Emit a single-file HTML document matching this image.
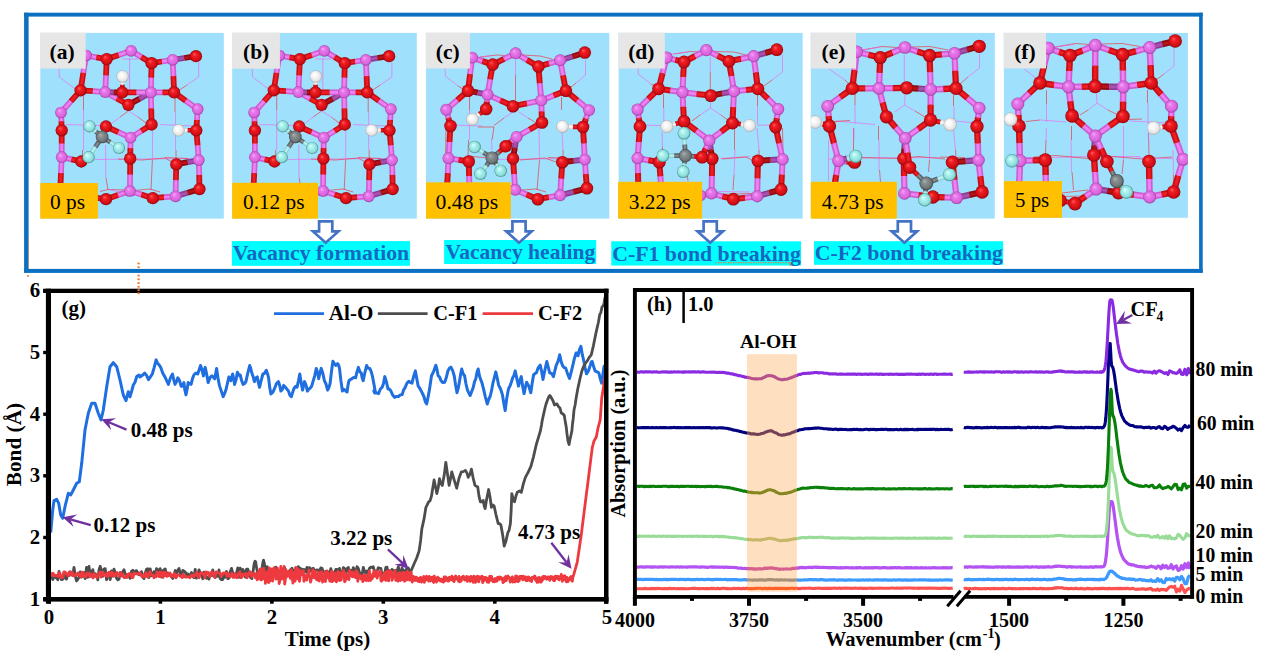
<!DOCTYPE html><html><head><meta charset="utf-8"><title>Figure</title>
<style>html,body{margin:0;padding:0;background:#fff}svg{display:block}text{font-family:"Liberation Serif","DejaVu Serif",serif}.b{font-weight:bold}</style></head><body>
<svg width="1269" height="660" viewBox="0 0 1269 660">
<defs>
<radialGradient id="gO" cx="0.5" cy="0.5" r="0.5" fx="0.36" fy="0.32"><stop offset="0" stop-color="#ff5a5a"/><stop offset="0.35" stop-color="#ee1c22"/><stop offset="0.8" stop-color="#d00d14"/><stop offset="1" stop-color="#8c060a"/></radialGradient>
<radialGradient id="gAl" cx="0.5" cy="0.5" r="0.5" fx="0.36" fy="0.32"><stop offset="0" stop-color="#f7a8f8"/><stop offset="0.35" stop-color="#e678ea"/><stop offset="0.8" stop-color="#d863dc"/><stop offset="1" stop-color="#9c3fa0"/></radialGradient>
<radialGradient id="gH" cx="0.5" cy="0.5" r="0.5" fx="0.36" fy="0.32"><stop offset="0" stop-color="#ffffff"/><stop offset="0.35" stop-color="#fafafa"/><stop offset="0.8" stop-color="#e4e4e4"/><stop offset="1" stop-color="#a9adb0"/></radialGradient>
<radialGradient id="gF" cx="0.5" cy="0.5" r="0.5" fx="0.36" fy="0.32"><stop offset="0" stop-color="#e2ffff"/><stop offset="0.35" stop-color="#aaf2f0"/><stop offset="0.8" stop-color="#8cdcda"/><stop offset="1" stop-color="#468c8a"/></radialGradient>
<radialGradient id="gC" cx="0.5" cy="0.5" r="0.5" fx="0.36" fy="0.32"><stop offset="0" stop-color="#aab2b4"/><stop offset="0.35" stop-color="#868e90"/><stop offset="0.8" stop-color="#6e7678"/><stop offset="1" stop-color="#3e4446"/></radialGradient>
</defs>
<rect x="0" y="0" width="1269" height="660" fill="#ffffff"/>
<g fill="#0b6fc2"><rect x="24.1" y="12.7" width="1178.6" height="3.9"/><rect x="24.1" y="268.9" width="1178.6" height="4.0"/><rect x="24.1" y="12.7" width="4.5" height="259.8"/><rect x="1199.1" y="12.7" width="3.6" height="259.8"/></g>
<g id="pa">
<clipPath id="cla"><rect x="40.3" y="32.9" width="183.5" height="185.7"/></clipPath>
<rect x="40.3" y="32.9" width="183.5" height="185.7" fill="#9fe0fc"/>
<g clip-path="url(#cla)">
<g fill="none" stroke-width="0.65">
<polyline points="59.0,66.0 59.3,77.0 74.0,88.0" stroke="#ee66ee"/>
<polyline points="74.0,88.0 80.0,91.0" stroke="#f03038"/>
<polyline points="198.7,62.0 198.7,77.0 187.0,85.0" stroke="#ee66ee"/>
<polyline points="187.0,85.0 178.0,91.0" stroke="#f03038"/>
<polyline points="129.6,58.0 129.6,92.0" stroke="#ee66ee"/>
<polyline points="122.0,59.0 138.0,59.0" stroke="#ee66ee"/>
<polyline points="83.5,96.0 83.5,110.0" stroke="#f03038"/>
<polyline points="83.5,110.0 83.5,150.0" stroke="#ee66ee"/>
<polyline points="82.5,150.0 82.5,158.0" stroke="#f03038"/>
<polyline points="175.0,96.0 175.0,112.0" stroke="#f03038"/>
<polyline points="175.5,112.0 175.5,150.0" stroke="#ee66ee"/>
<polyline points="176.0,150.0 176.0,160.0" stroke="#f03038"/>
<polyline points="128.4,111.0 120.0,117.0" stroke="#f03038"/>
<polyline points="120.0,117.0 112.0,123.0" stroke="#ee66ee"/>
<polyline points="128.4,111.0 138.0,117.0" stroke="#ee66ee"/>
<polyline points="138.0,117.0 146.0,123.0" stroke="#f03038"/>
<polyline points="66.0,124.5 100.0,125.5" stroke="#ee66ee"/>
<polyline points="160.0,124.5 192.0,126.0" stroke="#ee66ee"/>
<polyline points="95.0,159.5 190.0,158.5" stroke="#ee66ee"/>
<polyline points="118.0,159.0 142.0,160.0 165.0,158.0 172.0,162.0" stroke="#f03038"/>
<polyline points="165.0,157.5 188.0,158.5" stroke="#f03038"/>
<polyline points="105.6,145.0 105.8,178.0" stroke="#ee66ee"/>
<polyline points="106.0,178.0 108.0,190.0" stroke="#f03038"/>
<polyline points="152.6,130.0 152.4,160.0" stroke="#ee66ee"/>
<polyline points="152.4,160.0 151.0,190.0" stroke="#f03038"/>
<polyline points="100.0,191.5 108.0,189.5 127.0,190.0" stroke="#f03038"/>
<polyline points="134.0,190.5 150.0,189.0 160.0,192.0" stroke="#f03038"/>
<polyline points="108.0,189.5 126.0,193.0" stroke="#ee66ee"/>
</g>
<line x1="105.2" y1="92.2" x2="116.8" y2="98.5" stroke="#cf5cd3" stroke-width="5.8"/><line x1="105.2" y1="92.2" x2="116.8" y2="98.5" stroke="#ee82f0" stroke-width="2.61"/><line x1="116.8" y1="98.5" x2="128.4" y2="104.8" stroke="#c80d14" stroke-width="5.8"/><line x1="116.8" y1="98.5" x2="128.4" y2="104.8" stroke="#f01c24" stroke-width="2.61"/>
<line x1="128.4" y1="104.8" x2="139.7" y2="98.6" stroke="#8e0a10" stroke-width="5.8"/><line x1="128.4" y1="104.8" x2="139.7" y2="98.6" stroke="#b4141a" stroke-width="2.61"/><line x1="139.7" y1="98.6" x2="150.9" y2="92.4" stroke="#8c3c92" stroke-width="5.8"/><line x1="139.7" y1="98.6" x2="150.9" y2="92.4" stroke="#a850ae" stroke-width="2.61"/>
<line x1="105.2" y1="92.2" x2="113.7" y2="92.3" stroke="#8c3c92" stroke-width="5.8"/><line x1="105.2" y1="92.2" x2="113.7" y2="92.3" stroke="#a850ae" stroke-width="2.61"/><line x1="113.7" y1="92.3" x2="122.2" y2="92.4" stroke="#8e0a10" stroke-width="5.8"/><line x1="113.7" y1="92.3" x2="122.2" y2="92.4" stroke="#b4141a" stroke-width="2.61"/>
<line x1="122.2" y1="92.4" x2="136.6" y2="92.4" stroke="#c80d14" stroke-width="5.8"/><line x1="122.2" y1="92.4" x2="136.6" y2="92.4" stroke="#f01c24" stroke-width="2.61"/><line x1="136.6" y1="92.4" x2="150.9" y2="92.4" stroke="#cf5cd3" stroke-width="5.8"/><line x1="136.6" y1="92.4" x2="150.9" y2="92.4" stroke="#ee82f0" stroke-width="2.61"/>
<line x1="122.2" y1="92.4" x2="122.4" y2="84.5" stroke="#c80d14" stroke-width="4.6"/><line x1="122.2" y1="92.4" x2="122.4" y2="84.5" stroke="#f01c24" stroke-width="2.07"/><line x1="122.4" y1="84.5" x2="122.6" y2="76.5" stroke="#d8d8d8" stroke-width="4.6"/><line x1="122.4" y1="84.5" x2="122.6" y2="76.5" stroke="#fafafa" stroke-width="2.07"/>
<line x1="61.7" y1="157.2" x2="71.5" y2="159.3" stroke="#cf5cd3" stroke-width="5.8"/><line x1="61.7" y1="157.2" x2="71.5" y2="159.3" stroke="#ee82f0" stroke-width="2.61"/><line x1="71.5" y1="159.3" x2="81.3" y2="161.5" stroke="#c80d14" stroke-width="5.8"/><line x1="71.5" y1="159.3" x2="81.3" y2="161.5" stroke="#f01c24" stroke-width="2.61"/>
<line x1="106.0" y1="199.2" x2="95.0" y2="197.6" stroke="#c80d14" stroke-width="5.8"/><line x1="106.0" y1="199.2" x2="95.0" y2="197.6" stroke="#f01c24" stroke-width="2.61"/><line x1="95.0" y1="197.6" x2="84.0" y2="196.0" stroke="#cf5cd3" stroke-width="5.8"/><line x1="95.0" y1="197.6" x2="84.0" y2="196.0" stroke="#ee82f0" stroke-width="2.61"/>
<circle cx="128.4" cy="104.8" r="6.15" fill="url(#gO)"/>
<circle cx="122.2" cy="92.4" r="6.15" fill="url(#gO)"/>
<circle cx="84.0" cy="196.0" r="5.85" fill="url(#gAl)"/>
<circle cx="81.3" cy="161.5" r="6.15" fill="url(#gO)"/>
<line x1="86.1" y1="55.5" x2="96.4" y2="57.3" stroke="#cf5cd3" stroke-width="5.8"/><line x1="86.1" y1="55.5" x2="96.4" y2="57.3" stroke="#ee82f0" stroke-width="2.61"/><line x1="96.4" y1="57.3" x2="106.7" y2="59.1" stroke="#c80d14" stroke-width="5.8"/><line x1="96.4" y1="57.3" x2="106.7" y2="59.1" stroke="#f01c24" stroke-width="2.61"/>
<line x1="106.7" y1="59.1" x2="118.9" y2="55.0" stroke="#c80d14" stroke-width="5.8"/><line x1="106.7" y1="59.1" x2="118.9" y2="55.0" stroke="#f01c24" stroke-width="2.61"/><line x1="118.9" y1="55.0" x2="131.1" y2="50.8" stroke="#cf5cd3" stroke-width="5.8"/><line x1="118.9" y1="55.0" x2="131.1" y2="50.8" stroke="#ee82f0" stroke-width="2.61"/>
<line x1="131.1" y1="50.8" x2="141.3" y2="57.0" stroke="#cf5cd3" stroke-width="5.8"/><line x1="131.1" y1="50.8" x2="141.3" y2="57.0" stroke="#ee82f0" stroke-width="2.61"/><line x1="141.3" y1="57.0" x2="151.6" y2="63.2" stroke="#c80d14" stroke-width="5.8"/><line x1="141.3" y1="57.0" x2="151.6" y2="63.2" stroke="#f01c24" stroke-width="2.61"/>
<line x1="151.6" y1="63.2" x2="162.1" y2="61.5" stroke="#c80d14" stroke-width="5.8"/><line x1="151.6" y1="63.2" x2="162.1" y2="61.5" stroke="#f01c24" stroke-width="2.61"/><line x1="162.1" y1="61.5" x2="172.7" y2="59.8" stroke="#cf5cd3" stroke-width="5.8"/><line x1="162.1" y1="61.5" x2="172.7" y2="59.8" stroke="#ee82f0" stroke-width="2.61"/>
<line x1="172.7" y1="59.8" x2="184.3" y2="58.0" stroke="#8c3c92" stroke-width="5.8"/><line x1="172.7" y1="59.8" x2="184.3" y2="58.0" stroke="#a850ae" stroke-width="2.61"/><line x1="184.3" y1="58.0" x2="195.9" y2="56.2" stroke="#8e0a10" stroke-width="5.8"/><line x1="184.3" y1="58.0" x2="195.9" y2="56.2" stroke="#b4141a" stroke-width="2.61"/>
<line x1="86.1" y1="55.5" x2="83.3" y2="72.9" stroke="#cf5cd3" stroke-width="5.8"/><line x1="86.1" y1="55.5" x2="83.3" y2="72.9" stroke="#ee82f0" stroke-width="2.61"/><line x1="83.3" y1="72.9" x2="80.6" y2="90.3" stroke="#c80d14" stroke-width="5.8"/><line x1="83.3" y1="72.9" x2="80.6" y2="90.3" stroke="#f01c24" stroke-width="2.61"/>
<line x1="106.7" y1="59.1" x2="106.0" y2="75.7" stroke="#c80d14" stroke-width="5.8"/><line x1="106.7" y1="59.1" x2="106.0" y2="75.7" stroke="#f01c24" stroke-width="2.61"/><line x1="106.0" y1="75.7" x2="105.2" y2="92.2" stroke="#cf5cd3" stroke-width="5.8"/><line x1="106.0" y1="75.7" x2="105.2" y2="92.2" stroke="#ee82f0" stroke-width="2.61"/>
<line x1="151.6" y1="63.2" x2="151.2" y2="77.8" stroke="#c80d14" stroke-width="5.8"/><line x1="151.6" y1="63.2" x2="151.2" y2="77.8" stroke="#f01c24" stroke-width="2.61"/><line x1="151.2" y1="77.8" x2="150.9" y2="92.4" stroke="#cf5cd3" stroke-width="5.8"/><line x1="151.2" y1="77.8" x2="150.9" y2="92.4" stroke="#ee82f0" stroke-width="2.61"/>
<line x1="172.7" y1="59.8" x2="173.4" y2="76.1" stroke="#cf5cd3" stroke-width="5.8"/><line x1="172.7" y1="59.8" x2="173.4" y2="76.1" stroke="#ee82f0" stroke-width="2.61"/><line x1="173.4" y1="76.1" x2="174.1" y2="92.4" stroke="#c80d14" stroke-width="5.8"/><line x1="173.4" y1="76.1" x2="174.1" y2="92.4" stroke="#f01c24" stroke-width="2.61"/>
<line x1="80.6" y1="90.3" x2="92.9" y2="91.2" stroke="#c80d14" stroke-width="5.8"/><line x1="80.6" y1="90.3" x2="92.9" y2="91.2" stroke="#f01c24" stroke-width="2.61"/><line x1="92.9" y1="91.2" x2="105.2" y2="92.2" stroke="#cf5cd3" stroke-width="5.8"/><line x1="92.9" y1="91.2" x2="105.2" y2="92.2" stroke="#ee82f0" stroke-width="2.61"/>
<line x1="150.9" y1="92.4" x2="162.5" y2="92.4" stroke="#cf5cd3" stroke-width="5.8"/><line x1="150.9" y1="92.4" x2="162.5" y2="92.4" stroke="#ee82f0" stroke-width="2.61"/><line x1="162.5" y1="92.4" x2="174.1" y2="92.4" stroke="#c80d14" stroke-width="5.8"/><line x1="162.5" y1="92.4" x2="174.1" y2="92.4" stroke="#f01c24" stroke-width="2.61"/>
<line x1="174.1" y1="92.4" x2="185.9" y2="100.8" stroke="#c80d14" stroke-width="5.8"/><line x1="174.1" y1="92.4" x2="185.9" y2="100.8" stroke="#f01c24" stroke-width="2.61"/><line x1="185.9" y1="100.8" x2="197.7" y2="109.1" stroke="#cf5cd3" stroke-width="5.8"/><line x1="185.9" y1="100.8" x2="197.7" y2="109.1" stroke="#ee82f0" stroke-width="2.61"/>
<line x1="80.6" y1="90.3" x2="70.8" y2="101.4" stroke="#c80d14" stroke-width="5.8"/><line x1="80.6" y1="90.3" x2="70.8" y2="101.4" stroke="#f01c24" stroke-width="2.61"/><line x1="70.8" y1="101.4" x2="61.0" y2="112.5" stroke="#cf5cd3" stroke-width="5.8"/><line x1="70.8" y1="101.4" x2="61.0" y2="112.5" stroke="#ee82f0" stroke-width="2.61"/>
<line x1="61.0" y1="112.5" x2="61.4" y2="121.4" stroke="#cf5cd3" stroke-width="5.8"/><line x1="61.0" y1="112.5" x2="61.4" y2="121.4" stroke="#ee82f0" stroke-width="2.61"/><line x1="61.4" y1="121.4" x2="61.7" y2="130.3" stroke="#c80d14" stroke-width="5.8"/><line x1="61.4" y1="121.4" x2="61.7" y2="130.3" stroke="#f01c24" stroke-width="2.61"/>
<line x1="150.9" y1="92.4" x2="151.2" y2="108.5" stroke="#cf5cd3" stroke-width="5.8"/><line x1="150.9" y1="92.4" x2="151.2" y2="108.5" stroke="#ee82f0" stroke-width="2.61"/><line x1="151.2" y1="108.5" x2="151.6" y2="124.5" stroke="#c80d14" stroke-width="5.8"/><line x1="151.2" y1="108.5" x2="151.6" y2="124.5" stroke="#f01c24" stroke-width="2.61"/>
<line x1="151.6" y1="124.5" x2="141.1" y2="131.1" stroke="#c80d14" stroke-width="5.8"/><line x1="151.6" y1="124.5" x2="141.1" y2="131.1" stroke="#f01c24" stroke-width="2.61"/><line x1="141.1" y1="131.1" x2="130.6" y2="137.6" stroke="#cf5cd3" stroke-width="5.8"/><line x1="141.1" y1="131.1" x2="130.6" y2="137.6" stroke="#ee82f0" stroke-width="2.61"/>
<line x1="130.6" y1="137.6" x2="118.3" y2="132.1" stroke="#cf5cd3" stroke-width="5.8"/><line x1="130.6" y1="137.6" x2="118.3" y2="132.1" stroke="#ee82f0" stroke-width="2.61"/><line x1="118.3" y1="132.1" x2="106.0" y2="126.5" stroke="#c80d14" stroke-width="5.8"/><line x1="118.3" y1="132.1" x2="106.0" y2="126.5" stroke="#f01c24" stroke-width="2.61"/>
<line x1="102.1" y1="136.9" x2="95.8" y2="131.6" stroke="#596163" stroke-width="4.6"/><line x1="102.1" y1="136.9" x2="95.8" y2="131.6" stroke="#828a8c" stroke-width="2.07"/><line x1="95.8" y1="131.6" x2="89.5" y2="126.3" stroke="#8fd2d2" stroke-width="4.6"/><line x1="95.8" y1="131.6" x2="89.5" y2="126.3" stroke="#b6f2f2" stroke-width="2.07"/>
<line x1="102.1" y1="136.9" x2="110.5" y2="142.4" stroke="#596163" stroke-width="4.6"/><line x1="102.1" y1="136.9" x2="110.5" y2="142.4" stroke="#828a8c" stroke-width="2.07"/><line x1="110.5" y1="142.4" x2="119.0" y2="148.0" stroke="#8fd2d2" stroke-width="4.6"/><line x1="110.5" y1="142.4" x2="119.0" y2="148.0" stroke="#b6f2f2" stroke-width="2.07"/>
<line x1="102.1" y1="136.9" x2="95.3" y2="147.1" stroke="#596163" stroke-width="4.6"/><line x1="102.1" y1="136.9" x2="95.3" y2="147.1" stroke="#828a8c" stroke-width="2.07"/><line x1="95.3" y1="147.1" x2="88.6" y2="157.2" stroke="#8fd2d2" stroke-width="4.6"/><line x1="95.3" y1="147.1" x2="88.6" y2="157.2" stroke="#b6f2f2" stroke-width="2.07"/>
<line x1="130.6" y1="137.6" x2="130.4" y2="148.1" stroke="#cf5cd3" stroke-width="5.8"/><line x1="130.6" y1="137.6" x2="130.4" y2="148.1" stroke="#ee82f0" stroke-width="2.61"/><line x1="130.4" y1="148.1" x2="130.2" y2="158.6" stroke="#c80d14" stroke-width="5.8"/><line x1="130.4" y1="148.1" x2="130.2" y2="158.6" stroke="#f01c24" stroke-width="2.61"/>
<line x1="130.2" y1="158.6" x2="130.1" y2="174.8" stroke="#c80d14" stroke-width="5.8"/><line x1="130.2" y1="158.6" x2="130.1" y2="174.8" stroke="#f01c24" stroke-width="2.61"/><line x1="130.1" y1="174.8" x2="129.9" y2="191.0" stroke="#cf5cd3" stroke-width="5.8"/><line x1="130.1" y1="174.8" x2="129.9" y2="191.0" stroke="#ee82f0" stroke-width="2.61"/>
<line x1="129.9" y1="191.0" x2="118.0" y2="195.1" stroke="#cf5cd3" stroke-width="5.8"/><line x1="129.9" y1="191.0" x2="118.0" y2="195.1" stroke="#ee82f0" stroke-width="2.61"/><line x1="118.0" y1="195.1" x2="106.0" y2="199.2" stroke="#c80d14" stroke-width="5.8"/><line x1="118.0" y1="195.1" x2="106.0" y2="199.2" stroke="#f01c24" stroke-width="2.61"/>
<line x1="129.9" y1="191.0" x2="141.4" y2="194.6" stroke="#cf5cd3" stroke-width="5.8"/><line x1="129.9" y1="191.0" x2="141.4" y2="194.6" stroke="#ee82f0" stroke-width="2.61"/><line x1="141.4" y1="194.6" x2="152.8" y2="198.2" stroke="#c80d14" stroke-width="5.8"/><line x1="141.4" y1="194.6" x2="152.8" y2="198.2" stroke="#f01c24" stroke-width="2.61"/>
<line x1="152.8" y1="198.2" x2="164.2" y2="197.2" stroke="#c80d14" stroke-width="5.8"/><line x1="152.8" y1="198.2" x2="164.2" y2="197.2" stroke="#f01c24" stroke-width="2.61"/><line x1="164.2" y1="197.2" x2="175.6" y2="196.3" stroke="#cf5cd3" stroke-width="5.8"/><line x1="164.2" y1="197.2" x2="175.6" y2="196.3" stroke="#ee82f0" stroke-width="2.61"/>
<line x1="175.6" y1="196.3" x2="187.6" y2="192.7" stroke="#8c3c92" stroke-width="5.8"/><line x1="175.6" y1="196.3" x2="187.6" y2="192.7" stroke="#a850ae" stroke-width="2.61"/><line x1="187.6" y1="192.7" x2="199.5" y2="189.1" stroke="#8e0a10" stroke-width="5.8"/><line x1="187.6" y1="192.7" x2="199.5" y2="189.1" stroke="#b4141a" stroke-width="2.61"/>
<line x1="199.5" y1="189.1" x2="199.2" y2="174.6" stroke="#c80d14" stroke-width="5.8"/><line x1="199.5" y1="189.1" x2="199.2" y2="174.6" stroke="#f01c24" stroke-width="2.61"/><line x1="199.2" y1="174.6" x2="198.8" y2="160.1" stroke="#cf5cd3" stroke-width="5.8"/><line x1="199.2" y1="174.6" x2="198.8" y2="160.1" stroke="#ee82f0" stroke-width="2.61"/>
<line x1="198.8" y1="160.1" x2="187.6" y2="162.2" stroke="#8c3c92" stroke-width="5.8"/><line x1="198.8" y1="160.1" x2="187.6" y2="162.2" stroke="#a850ae" stroke-width="2.61"/><line x1="187.6" y1="162.2" x2="176.3" y2="164.4" stroke="#8e0a10" stroke-width="5.8"/><line x1="187.6" y1="162.2" x2="176.3" y2="164.4" stroke="#b4141a" stroke-width="2.61"/>
<line x1="176.3" y1="164.4" x2="175.9" y2="180.4" stroke="#c80d14" stroke-width="5.8"/><line x1="176.3" y1="164.4" x2="175.9" y2="180.4" stroke="#f01c24" stroke-width="2.61"/><line x1="175.9" y1="180.4" x2="175.6" y2="196.3" stroke="#cf5cd3" stroke-width="5.8"/><line x1="175.9" y1="180.4" x2="175.6" y2="196.3" stroke="#ee82f0" stroke-width="2.61"/>
<line x1="198.8" y1="160.1" x2="197.6" y2="145.2" stroke="#cf5cd3" stroke-width="5.8"/><line x1="198.8" y1="160.1" x2="197.6" y2="145.2" stroke="#ee82f0" stroke-width="2.61"/><line x1="197.6" y1="145.2" x2="196.3" y2="130.3" stroke="#c80d14" stroke-width="5.8"/><line x1="197.6" y1="145.2" x2="196.3" y2="130.3" stroke="#f01c24" stroke-width="2.61"/>
<line x1="196.3" y1="130.3" x2="197.0" y2="119.7" stroke="#c80d14" stroke-width="5.8"/><line x1="196.3" y1="130.3" x2="197.0" y2="119.7" stroke="#f01c24" stroke-width="2.61"/><line x1="197.0" y1="119.7" x2="197.7" y2="109.1" stroke="#cf5cd3" stroke-width="5.8"/><line x1="197.0" y1="119.7" x2="197.7" y2="109.1" stroke="#ee82f0" stroke-width="2.61"/>
<line x1="196.3" y1="130.3" x2="187.4" y2="130.3" stroke="#c80d14" stroke-width="4.6"/><line x1="196.3" y1="130.3" x2="187.4" y2="130.3" stroke="#f01c24" stroke-width="2.07"/><line x1="187.4" y1="130.3" x2="178.5" y2="130.3" stroke="#d8d8d8" stroke-width="4.6"/><line x1="187.4" y1="130.3" x2="178.5" y2="130.3" stroke="#fafafa" stroke-width="2.07"/>
<line x1="61.7" y1="130.3" x2="61.7" y2="143.8" stroke="#c80d14" stroke-width="5.8"/><line x1="61.7" y1="130.3" x2="61.7" y2="143.8" stroke="#f01c24" stroke-width="2.61"/><line x1="61.7" y1="143.8" x2="61.7" y2="157.2" stroke="#cf5cd3" stroke-width="5.8"/><line x1="61.7" y1="143.8" x2="61.7" y2="157.2" stroke="#ee82f0" stroke-width="2.61"/>
<line x1="61.7" y1="157.2" x2="61.0" y2="173.1" stroke="#cf5cd3" stroke-width="5.8"/><line x1="61.7" y1="157.2" x2="61.0" y2="173.1" stroke="#ee82f0" stroke-width="2.61"/><line x1="61.0" y1="173.1" x2="60.3" y2="189.0" stroke="#c80d14" stroke-width="5.8"/><line x1="61.0" y1="173.1" x2="60.3" y2="189.0" stroke="#f01c24" stroke-width="2.61"/>
<circle cx="86.1" cy="55.5" r="5.85" fill="url(#gAl)"/>
<circle cx="106.7" cy="59.1" r="6.15" fill="url(#gO)"/>
<circle cx="131.1" cy="50.8" r="5.85" fill="url(#gAl)"/>
<circle cx="151.6" cy="63.2" r="6.15" fill="url(#gO)"/>
<circle cx="172.7" cy="59.8" r="5.85" fill="url(#gAl)"/>
<circle cx="195.9" cy="56.2" r="6.15" fill="url(#gO)"/>
<circle cx="80.6" cy="90.3" r="6.15" fill="url(#gO)"/>
<circle cx="105.2" cy="92.2" r="5.85" fill="url(#gAl)"/>
<circle cx="122.6" cy="76.5" r="6.20" fill="url(#gH)"/>
<circle cx="150.9" cy="92.4" r="5.85" fill="url(#gAl)"/>
<circle cx="174.1" cy="92.4" r="6.15" fill="url(#gO)"/>
<circle cx="197.7" cy="109.1" r="5.85" fill="url(#gAl)"/>
<circle cx="61.0" cy="112.5" r="5.85" fill="url(#gAl)"/>
<circle cx="151.6" cy="124.5" r="6.15" fill="url(#gO)"/>
<circle cx="106.0" cy="126.5" r="6.15" fill="url(#gO)"/>
<circle cx="89.5" cy="126.3" r="6.10" fill="url(#gF)"/>
<circle cx="61.7" cy="130.3" r="6.15" fill="url(#gO)"/>
<circle cx="102.1" cy="136.9" r="6.35" fill="url(#gC)"/>
<circle cx="119.0" cy="148.0" r="6.10" fill="url(#gF)"/>
<circle cx="88.6" cy="157.2" r="6.10" fill="url(#gF)"/>
<circle cx="130.6" cy="137.6" r="5.85" fill="url(#gAl)"/>
<circle cx="178.5" cy="130.3" r="6.20" fill="url(#gH)"/>
<circle cx="196.3" cy="130.3" r="6.15" fill="url(#gO)"/>
<circle cx="130.2" cy="158.6" r="6.15" fill="url(#gO)"/>
<circle cx="61.7" cy="157.2" r="5.85" fill="url(#gAl)"/>
<circle cx="60.3" cy="189.0" r="6.15" fill="url(#gO)"/>
<circle cx="198.8" cy="160.1" r="5.85" fill="url(#gAl)"/>
<circle cx="176.3" cy="164.4" r="6.15" fill="url(#gO)"/>
<circle cx="199.5" cy="189.1" r="6.15" fill="url(#gO)"/>
<circle cx="175.6" cy="196.3" r="5.85" fill="url(#gAl)"/>
<circle cx="152.8" cy="198.2" r="6.15" fill="url(#gO)"/>
<circle cx="129.9" cy="191.0" r="5.85" fill="url(#gAl)"/>
<circle cx="106.0" cy="199.2" r="6.15" fill="url(#gO)"/>
</g>
<rect x="40.0" y="32.6" width="45.7" height="36.0" fill="#e7e6e6"/>
<text class="b" x="49.5" y="58.6" font-size="21.5">(a)</text>
<rect x="40.3" y="183.0" width="57.6" height="35.6" fill="#ffc000"/>
<text x="50.0" y="208.6" font-size="21.3" textLength="35.0" lengthAdjust="spacingAndGlyphs">0 ps</text>
</g>
<g id="pb">
<clipPath id="clb"><rect x="232.2" y="32.9" width="184.6" height="185.7"/></clipPath>
<rect x="232.2" y="32.9" width="184.6" height="185.7" fill="#9fe0fc"/>
<g clip-path="url(#clb)">
<g fill="none" stroke-width="0.65">
<polyline points="252.2,66.0 252.5,77.0 267.2,88.0" stroke="#ee66ee"/>
<polyline points="267.2,88.0 273.2,91.0" stroke="#f03038"/>
<polyline points="391.9,62.0 391.9,77.0 380.2,85.0" stroke="#ee66ee"/>
<polyline points="380.2,85.0 371.2,91.0" stroke="#f03038"/>
<polyline points="322.8,58.0 322.8,92.0" stroke="#ee66ee"/>
<polyline points="315.2,59.0 331.2,59.0" stroke="#ee66ee"/>
<polyline points="276.7,96.0 276.7,110.0" stroke="#f03038"/>
<polyline points="276.7,110.0 276.7,150.0" stroke="#ee66ee"/>
<polyline points="275.7,150.0 275.7,158.0" stroke="#f03038"/>
<polyline points="368.2,96.0 368.2,112.0" stroke="#f03038"/>
<polyline points="368.7,112.0 368.7,150.0" stroke="#ee66ee"/>
<polyline points="369.2,150.0 369.2,160.0" stroke="#f03038"/>
<polyline points="321.6,111.0 313.2,117.0" stroke="#f03038"/>
<polyline points="313.2,117.0 305.2,123.0" stroke="#ee66ee"/>
<polyline points="321.6,111.0 331.2,117.0" stroke="#ee66ee"/>
<polyline points="331.2,117.0 339.2,123.0" stroke="#f03038"/>
<polyline points="259.2,124.5 293.2,125.5" stroke="#ee66ee"/>
<polyline points="353.2,124.5 385.2,126.0" stroke="#ee66ee"/>
<polyline points="288.2,159.5 383.2,158.5" stroke="#ee66ee"/>
<polyline points="311.2,159.0 335.2,160.0 358.2,158.0 365.2,162.0" stroke="#f03038"/>
<polyline points="358.2,157.5 381.2,158.5" stroke="#f03038"/>
<polyline points="298.8,145.0 299.0,178.0" stroke="#ee66ee"/>
<polyline points="299.2,178.0 301.2,190.0" stroke="#f03038"/>
<polyline points="345.8,130.0 345.6,160.0" stroke="#ee66ee"/>
<polyline points="345.6,160.0 344.2,190.0" stroke="#f03038"/>
<polyline points="293.2,191.5 301.2,189.5 320.2,190.0" stroke="#f03038"/>
<polyline points="327.2,190.5 343.2,189.0 353.2,192.0" stroke="#f03038"/>
<polyline points="301.2,189.5 319.2,193.0" stroke="#ee66ee"/>
</g>
<line x1="298.4" y1="92.2" x2="310.0" y2="98.5" stroke="#cf5cd3" stroke-width="5.8"/><line x1="298.4" y1="92.2" x2="310.0" y2="98.5" stroke="#ee82f0" stroke-width="2.61"/><line x1="310.0" y1="98.5" x2="321.6" y2="104.8" stroke="#c80d14" stroke-width="5.8"/><line x1="310.0" y1="98.5" x2="321.6" y2="104.8" stroke="#f01c24" stroke-width="2.61"/>
<line x1="321.6" y1="104.8" x2="332.9" y2="98.6" stroke="#8e0a10" stroke-width="5.8"/><line x1="321.6" y1="104.8" x2="332.9" y2="98.6" stroke="#b4141a" stroke-width="2.61"/><line x1="332.9" y1="98.6" x2="344.1" y2="92.4" stroke="#8c3c92" stroke-width="5.8"/><line x1="332.9" y1="98.6" x2="344.1" y2="92.4" stroke="#a850ae" stroke-width="2.61"/>
<line x1="298.4" y1="92.2" x2="306.9" y2="92.3" stroke="#8c3c92" stroke-width="5.8"/><line x1="298.4" y1="92.2" x2="306.9" y2="92.3" stroke="#a850ae" stroke-width="2.61"/><line x1="306.9" y1="92.3" x2="315.4" y2="92.4" stroke="#8e0a10" stroke-width="5.8"/><line x1="306.9" y1="92.3" x2="315.4" y2="92.4" stroke="#b4141a" stroke-width="2.61"/>
<line x1="315.4" y1="92.4" x2="329.8" y2="92.4" stroke="#c80d14" stroke-width="5.8"/><line x1="315.4" y1="92.4" x2="329.8" y2="92.4" stroke="#f01c24" stroke-width="2.61"/><line x1="329.8" y1="92.4" x2="344.1" y2="92.4" stroke="#cf5cd3" stroke-width="5.8"/><line x1="329.8" y1="92.4" x2="344.1" y2="92.4" stroke="#ee82f0" stroke-width="2.61"/>
<line x1="315.4" y1="92.4" x2="315.6" y2="84.5" stroke="#c80d14" stroke-width="4.6"/><line x1="315.4" y1="92.4" x2="315.6" y2="84.5" stroke="#f01c24" stroke-width="2.07"/><line x1="315.6" y1="84.5" x2="315.8" y2="76.5" stroke="#d8d8d8" stroke-width="4.6"/><line x1="315.6" y1="84.5" x2="315.8" y2="76.5" stroke="#fafafa" stroke-width="2.07"/>
<line x1="254.9" y1="157.2" x2="264.7" y2="159.3" stroke="#cf5cd3" stroke-width="5.8"/><line x1="254.9" y1="157.2" x2="264.7" y2="159.3" stroke="#ee82f0" stroke-width="2.61"/><line x1="264.7" y1="159.3" x2="274.5" y2="161.5" stroke="#c80d14" stroke-width="5.8"/><line x1="264.7" y1="159.3" x2="274.5" y2="161.5" stroke="#f01c24" stroke-width="2.61"/>
<line x1="299.2" y1="199.2" x2="288.2" y2="197.6" stroke="#c80d14" stroke-width="5.8"/><line x1="299.2" y1="199.2" x2="288.2" y2="197.6" stroke="#f01c24" stroke-width="2.61"/><line x1="288.2" y1="197.6" x2="277.2" y2="196.0" stroke="#cf5cd3" stroke-width="5.8"/><line x1="288.2" y1="197.6" x2="277.2" y2="196.0" stroke="#ee82f0" stroke-width="2.61"/>
<circle cx="321.6" cy="104.8" r="6.15" fill="url(#gO)"/>
<circle cx="315.4" cy="92.4" r="6.15" fill="url(#gO)"/>
<circle cx="277.2" cy="196.0" r="5.85" fill="url(#gAl)"/>
<circle cx="274.5" cy="161.5" r="6.15" fill="url(#gO)"/>
<line x1="279.3" y1="55.5" x2="289.6" y2="57.3" stroke="#cf5cd3" stroke-width="5.8"/><line x1="279.3" y1="55.5" x2="289.6" y2="57.3" stroke="#ee82f0" stroke-width="2.61"/><line x1="289.6" y1="57.3" x2="299.9" y2="59.1" stroke="#c80d14" stroke-width="5.8"/><line x1="289.6" y1="57.3" x2="299.9" y2="59.1" stroke="#f01c24" stroke-width="2.61"/>
<line x1="299.9" y1="59.1" x2="312.1" y2="55.0" stroke="#c80d14" stroke-width="5.8"/><line x1="299.9" y1="59.1" x2="312.1" y2="55.0" stroke="#f01c24" stroke-width="2.61"/><line x1="312.1" y1="55.0" x2="324.3" y2="50.8" stroke="#cf5cd3" stroke-width="5.8"/><line x1="312.1" y1="55.0" x2="324.3" y2="50.8" stroke="#ee82f0" stroke-width="2.61"/>
<line x1="324.3" y1="50.8" x2="334.5" y2="57.0" stroke="#cf5cd3" stroke-width="5.8"/><line x1="324.3" y1="50.8" x2="334.5" y2="57.0" stroke="#ee82f0" stroke-width="2.61"/><line x1="334.5" y1="57.0" x2="344.8" y2="63.2" stroke="#c80d14" stroke-width="5.8"/><line x1="334.5" y1="57.0" x2="344.8" y2="63.2" stroke="#f01c24" stroke-width="2.61"/>
<line x1="344.8" y1="63.2" x2="355.3" y2="61.5" stroke="#c80d14" stroke-width="5.8"/><line x1="344.8" y1="63.2" x2="355.3" y2="61.5" stroke="#f01c24" stroke-width="2.61"/><line x1="355.3" y1="61.5" x2="365.9" y2="59.8" stroke="#cf5cd3" stroke-width="5.8"/><line x1="355.3" y1="61.5" x2="365.9" y2="59.8" stroke="#ee82f0" stroke-width="2.61"/>
<line x1="365.9" y1="59.8" x2="377.5" y2="58.0" stroke="#8c3c92" stroke-width="5.8"/><line x1="365.9" y1="59.8" x2="377.5" y2="58.0" stroke="#a850ae" stroke-width="2.61"/><line x1="377.5" y1="58.0" x2="389.1" y2="56.2" stroke="#8e0a10" stroke-width="5.8"/><line x1="377.5" y1="58.0" x2="389.1" y2="56.2" stroke="#b4141a" stroke-width="2.61"/>
<line x1="279.3" y1="55.5" x2="276.5" y2="72.9" stroke="#cf5cd3" stroke-width="5.8"/><line x1="279.3" y1="55.5" x2="276.5" y2="72.9" stroke="#ee82f0" stroke-width="2.61"/><line x1="276.5" y1="72.9" x2="273.8" y2="90.3" stroke="#c80d14" stroke-width="5.8"/><line x1="276.5" y1="72.9" x2="273.8" y2="90.3" stroke="#f01c24" stroke-width="2.61"/>
<line x1="299.9" y1="59.1" x2="299.1" y2="75.7" stroke="#c80d14" stroke-width="5.8"/><line x1="299.9" y1="59.1" x2="299.1" y2="75.7" stroke="#f01c24" stroke-width="2.61"/><line x1="299.1" y1="75.7" x2="298.4" y2="92.2" stroke="#cf5cd3" stroke-width="5.8"/><line x1="299.1" y1="75.7" x2="298.4" y2="92.2" stroke="#ee82f0" stroke-width="2.61"/>
<line x1="344.8" y1="63.2" x2="344.4" y2="77.8" stroke="#c80d14" stroke-width="5.8"/><line x1="344.8" y1="63.2" x2="344.4" y2="77.8" stroke="#f01c24" stroke-width="2.61"/><line x1="344.4" y1="77.8" x2="344.1" y2="92.4" stroke="#cf5cd3" stroke-width="5.8"/><line x1="344.4" y1="77.8" x2="344.1" y2="92.4" stroke="#ee82f0" stroke-width="2.61"/>
<line x1="365.9" y1="59.8" x2="366.6" y2="76.1" stroke="#cf5cd3" stroke-width="5.8"/><line x1="365.9" y1="59.8" x2="366.6" y2="76.1" stroke="#ee82f0" stroke-width="2.61"/><line x1="366.6" y1="76.1" x2="367.3" y2="92.4" stroke="#c80d14" stroke-width="5.8"/><line x1="366.6" y1="76.1" x2="367.3" y2="92.4" stroke="#f01c24" stroke-width="2.61"/>
<line x1="273.8" y1="90.3" x2="286.1" y2="91.2" stroke="#c80d14" stroke-width="5.8"/><line x1="273.8" y1="90.3" x2="286.1" y2="91.2" stroke="#f01c24" stroke-width="2.61"/><line x1="286.1" y1="91.2" x2="298.4" y2="92.2" stroke="#cf5cd3" stroke-width="5.8"/><line x1="286.1" y1="91.2" x2="298.4" y2="92.2" stroke="#ee82f0" stroke-width="2.61"/>
<line x1="344.1" y1="92.4" x2="355.7" y2="92.4" stroke="#cf5cd3" stroke-width="5.8"/><line x1="344.1" y1="92.4" x2="355.7" y2="92.4" stroke="#ee82f0" stroke-width="2.61"/><line x1="355.7" y1="92.4" x2="367.3" y2="92.4" stroke="#c80d14" stroke-width="5.8"/><line x1="355.7" y1="92.4" x2="367.3" y2="92.4" stroke="#f01c24" stroke-width="2.61"/>
<line x1="367.3" y1="92.4" x2="379.1" y2="100.8" stroke="#c80d14" stroke-width="5.8"/><line x1="367.3" y1="92.4" x2="379.1" y2="100.8" stroke="#f01c24" stroke-width="2.61"/><line x1="379.1" y1="100.8" x2="390.9" y2="109.1" stroke="#cf5cd3" stroke-width="5.8"/><line x1="379.1" y1="100.8" x2="390.9" y2="109.1" stroke="#ee82f0" stroke-width="2.61"/>
<line x1="273.8" y1="90.3" x2="264.0" y2="101.4" stroke="#c80d14" stroke-width="5.8"/><line x1="273.8" y1="90.3" x2="264.0" y2="101.4" stroke="#f01c24" stroke-width="2.61"/><line x1="264.0" y1="101.4" x2="254.2" y2="112.5" stroke="#cf5cd3" stroke-width="5.8"/><line x1="264.0" y1="101.4" x2="254.2" y2="112.5" stroke="#ee82f0" stroke-width="2.61"/>
<line x1="254.2" y1="112.5" x2="254.5" y2="121.4" stroke="#cf5cd3" stroke-width="5.8"/><line x1="254.2" y1="112.5" x2="254.5" y2="121.4" stroke="#ee82f0" stroke-width="2.61"/><line x1="254.5" y1="121.4" x2="254.9" y2="130.3" stroke="#c80d14" stroke-width="5.8"/><line x1="254.5" y1="121.4" x2="254.9" y2="130.3" stroke="#f01c24" stroke-width="2.61"/>
<line x1="344.1" y1="92.4" x2="344.4" y2="108.5" stroke="#cf5cd3" stroke-width="5.8"/><line x1="344.1" y1="92.4" x2="344.4" y2="108.5" stroke="#ee82f0" stroke-width="2.61"/><line x1="344.4" y1="108.5" x2="344.8" y2="124.5" stroke="#c80d14" stroke-width="5.8"/><line x1="344.4" y1="108.5" x2="344.8" y2="124.5" stroke="#f01c24" stroke-width="2.61"/>
<line x1="344.8" y1="124.5" x2="334.3" y2="131.1" stroke="#c80d14" stroke-width="5.8"/><line x1="344.8" y1="124.5" x2="334.3" y2="131.1" stroke="#f01c24" stroke-width="2.61"/><line x1="334.3" y1="131.1" x2="323.8" y2="137.6" stroke="#cf5cd3" stroke-width="5.8"/><line x1="334.3" y1="131.1" x2="323.8" y2="137.6" stroke="#ee82f0" stroke-width="2.61"/>
<line x1="323.8" y1="137.6" x2="311.5" y2="132.1" stroke="#cf5cd3" stroke-width="5.8"/><line x1="323.8" y1="137.6" x2="311.5" y2="132.1" stroke="#ee82f0" stroke-width="2.61"/><line x1="311.5" y1="132.1" x2="299.2" y2="126.5" stroke="#c80d14" stroke-width="5.8"/><line x1="311.5" y1="132.1" x2="299.2" y2="126.5" stroke="#f01c24" stroke-width="2.61"/>
<line x1="295.3" y1="136.9" x2="289.0" y2="131.6" stroke="#596163" stroke-width="4.6"/><line x1="295.3" y1="136.9" x2="289.0" y2="131.6" stroke="#828a8c" stroke-width="2.07"/><line x1="289.0" y1="131.6" x2="282.7" y2="126.3" stroke="#8fd2d2" stroke-width="4.6"/><line x1="289.0" y1="131.6" x2="282.7" y2="126.3" stroke="#b6f2f2" stroke-width="2.07"/>
<line x1="295.3" y1="136.9" x2="303.8" y2="142.4" stroke="#596163" stroke-width="4.6"/><line x1="295.3" y1="136.9" x2="303.8" y2="142.4" stroke="#828a8c" stroke-width="2.07"/><line x1="303.8" y1="142.4" x2="312.2" y2="148.0" stroke="#8fd2d2" stroke-width="4.6"/><line x1="303.8" y1="142.4" x2="312.2" y2="148.0" stroke="#b6f2f2" stroke-width="2.07"/>
<line x1="295.3" y1="136.9" x2="288.5" y2="147.1" stroke="#596163" stroke-width="4.6"/><line x1="295.3" y1="136.9" x2="288.5" y2="147.1" stroke="#828a8c" stroke-width="2.07"/><line x1="288.5" y1="147.1" x2="281.8" y2="157.2" stroke="#8fd2d2" stroke-width="4.6"/><line x1="288.5" y1="147.1" x2="281.8" y2="157.2" stroke="#b6f2f2" stroke-width="2.07"/>
<line x1="323.8" y1="137.6" x2="323.6" y2="148.1" stroke="#cf5cd3" stroke-width="5.8"/><line x1="323.8" y1="137.6" x2="323.6" y2="148.1" stroke="#ee82f0" stroke-width="2.61"/><line x1="323.6" y1="148.1" x2="323.4" y2="158.6" stroke="#c80d14" stroke-width="5.8"/><line x1="323.6" y1="148.1" x2="323.4" y2="158.6" stroke="#f01c24" stroke-width="2.61"/>
<line x1="323.4" y1="158.6" x2="323.2" y2="174.8" stroke="#c80d14" stroke-width="5.8"/><line x1="323.4" y1="158.6" x2="323.2" y2="174.8" stroke="#f01c24" stroke-width="2.61"/><line x1="323.2" y1="174.8" x2="323.1" y2="191.0" stroke="#cf5cd3" stroke-width="5.8"/><line x1="323.2" y1="174.8" x2="323.1" y2="191.0" stroke="#ee82f0" stroke-width="2.61"/>
<line x1="323.1" y1="191.0" x2="311.1" y2="195.1" stroke="#cf5cd3" stroke-width="5.8"/><line x1="323.1" y1="191.0" x2="311.1" y2="195.1" stroke="#ee82f0" stroke-width="2.61"/><line x1="311.1" y1="195.1" x2="299.2" y2="199.2" stroke="#c80d14" stroke-width="5.8"/><line x1="311.1" y1="195.1" x2="299.2" y2="199.2" stroke="#f01c24" stroke-width="2.61"/>
<line x1="323.1" y1="191.0" x2="334.6" y2="194.6" stroke="#cf5cd3" stroke-width="5.8"/><line x1="323.1" y1="191.0" x2="334.6" y2="194.6" stroke="#ee82f0" stroke-width="2.61"/><line x1="334.6" y1="194.6" x2="346.0" y2="198.2" stroke="#c80d14" stroke-width="5.8"/><line x1="334.6" y1="194.6" x2="346.0" y2="198.2" stroke="#f01c24" stroke-width="2.61"/>
<line x1="346.0" y1="198.2" x2="357.4" y2="197.2" stroke="#c80d14" stroke-width="5.8"/><line x1="346.0" y1="198.2" x2="357.4" y2="197.2" stroke="#f01c24" stroke-width="2.61"/><line x1="357.4" y1="197.2" x2="368.8" y2="196.3" stroke="#cf5cd3" stroke-width="5.8"/><line x1="357.4" y1="197.2" x2="368.8" y2="196.3" stroke="#ee82f0" stroke-width="2.61"/>
<line x1="368.8" y1="196.3" x2="380.8" y2="192.7" stroke="#8c3c92" stroke-width="5.8"/><line x1="368.8" y1="196.3" x2="380.8" y2="192.7" stroke="#a850ae" stroke-width="2.61"/><line x1="380.8" y1="192.7" x2="392.7" y2="189.1" stroke="#8e0a10" stroke-width="5.8"/><line x1="380.8" y1="192.7" x2="392.7" y2="189.1" stroke="#b4141a" stroke-width="2.61"/>
<line x1="392.7" y1="189.1" x2="392.4" y2="174.6" stroke="#c80d14" stroke-width="5.8"/><line x1="392.7" y1="189.1" x2="392.4" y2="174.6" stroke="#f01c24" stroke-width="2.61"/><line x1="392.4" y1="174.6" x2="392.0" y2="160.1" stroke="#cf5cd3" stroke-width="5.8"/><line x1="392.4" y1="174.6" x2="392.0" y2="160.1" stroke="#ee82f0" stroke-width="2.61"/>
<line x1="392.0" y1="160.1" x2="380.8" y2="162.2" stroke="#8c3c92" stroke-width="5.8"/><line x1="392.0" y1="160.1" x2="380.8" y2="162.2" stroke="#a850ae" stroke-width="2.61"/><line x1="380.8" y1="162.2" x2="369.5" y2="164.4" stroke="#8e0a10" stroke-width="5.8"/><line x1="380.8" y1="162.2" x2="369.5" y2="164.4" stroke="#b4141a" stroke-width="2.61"/>
<line x1="369.5" y1="164.4" x2="369.1" y2="180.4" stroke="#c80d14" stroke-width="5.8"/><line x1="369.5" y1="164.4" x2="369.1" y2="180.4" stroke="#f01c24" stroke-width="2.61"/><line x1="369.1" y1="180.4" x2="368.8" y2="196.3" stroke="#cf5cd3" stroke-width="5.8"/><line x1="369.1" y1="180.4" x2="368.8" y2="196.3" stroke="#ee82f0" stroke-width="2.61"/>
<line x1="392.0" y1="160.1" x2="390.8" y2="145.2" stroke="#cf5cd3" stroke-width="5.8"/><line x1="392.0" y1="160.1" x2="390.8" y2="145.2" stroke="#ee82f0" stroke-width="2.61"/><line x1="390.8" y1="145.2" x2="389.5" y2="130.3" stroke="#c80d14" stroke-width="5.8"/><line x1="390.8" y1="145.2" x2="389.5" y2="130.3" stroke="#f01c24" stroke-width="2.61"/>
<line x1="389.5" y1="130.3" x2="390.2" y2="119.7" stroke="#c80d14" stroke-width="5.8"/><line x1="389.5" y1="130.3" x2="390.2" y2="119.7" stroke="#f01c24" stroke-width="2.61"/><line x1="390.2" y1="119.7" x2="390.9" y2="109.1" stroke="#cf5cd3" stroke-width="5.8"/><line x1="390.2" y1="119.7" x2="390.9" y2="109.1" stroke="#ee82f0" stroke-width="2.61"/>
<line x1="389.5" y1="130.3" x2="380.6" y2="130.3" stroke="#c80d14" stroke-width="4.6"/><line x1="389.5" y1="130.3" x2="380.6" y2="130.3" stroke="#f01c24" stroke-width="2.07"/><line x1="380.6" y1="130.3" x2="371.7" y2="130.3" stroke="#d8d8d8" stroke-width="4.6"/><line x1="380.6" y1="130.3" x2="371.7" y2="130.3" stroke="#fafafa" stroke-width="2.07"/>
<line x1="254.9" y1="130.3" x2="254.9" y2="143.8" stroke="#c80d14" stroke-width="5.8"/><line x1="254.9" y1="130.3" x2="254.9" y2="143.8" stroke="#f01c24" stroke-width="2.61"/><line x1="254.9" y1="143.8" x2="254.9" y2="157.2" stroke="#cf5cd3" stroke-width="5.8"/><line x1="254.9" y1="143.8" x2="254.9" y2="157.2" stroke="#ee82f0" stroke-width="2.61"/>
<line x1="254.9" y1="157.2" x2="254.2" y2="173.1" stroke="#cf5cd3" stroke-width="5.8"/><line x1="254.9" y1="157.2" x2="254.2" y2="173.1" stroke="#ee82f0" stroke-width="2.61"/><line x1="254.2" y1="173.1" x2="253.5" y2="189.0" stroke="#c80d14" stroke-width="5.8"/><line x1="254.2" y1="173.1" x2="253.5" y2="189.0" stroke="#f01c24" stroke-width="2.61"/>
<circle cx="279.3" cy="55.5" r="5.85" fill="url(#gAl)"/>
<circle cx="299.9" cy="59.1" r="6.15" fill="url(#gO)"/>
<circle cx="324.3" cy="50.8" r="5.85" fill="url(#gAl)"/>
<circle cx="344.8" cy="63.2" r="6.15" fill="url(#gO)"/>
<circle cx="365.9" cy="59.8" r="5.85" fill="url(#gAl)"/>
<circle cx="389.1" cy="56.2" r="6.15" fill="url(#gO)"/>
<circle cx="273.8" cy="90.3" r="6.15" fill="url(#gO)"/>
<circle cx="298.4" cy="92.2" r="5.85" fill="url(#gAl)"/>
<circle cx="315.8" cy="76.5" r="6.20" fill="url(#gH)"/>
<circle cx="344.1" cy="92.4" r="5.85" fill="url(#gAl)"/>
<circle cx="367.3" cy="92.4" r="6.15" fill="url(#gO)"/>
<circle cx="390.9" cy="109.1" r="5.85" fill="url(#gAl)"/>
<circle cx="254.2" cy="112.5" r="5.85" fill="url(#gAl)"/>
<circle cx="344.8" cy="124.5" r="6.15" fill="url(#gO)"/>
<circle cx="299.2" cy="126.5" r="6.15" fill="url(#gO)"/>
<circle cx="282.7" cy="126.3" r="6.10" fill="url(#gF)"/>
<circle cx="254.9" cy="130.3" r="6.15" fill="url(#gO)"/>
<circle cx="295.3" cy="136.9" r="6.35" fill="url(#gC)"/>
<circle cx="312.2" cy="148.0" r="6.10" fill="url(#gF)"/>
<circle cx="281.8" cy="157.2" r="6.10" fill="url(#gF)"/>
<circle cx="323.8" cy="137.6" r="5.85" fill="url(#gAl)"/>
<circle cx="371.7" cy="130.3" r="6.20" fill="url(#gH)"/>
<circle cx="389.5" cy="130.3" r="6.15" fill="url(#gO)"/>
<circle cx="323.4" cy="158.6" r="6.15" fill="url(#gO)"/>
<circle cx="254.9" cy="157.2" r="5.85" fill="url(#gAl)"/>
<circle cx="253.5" cy="189.0" r="6.15" fill="url(#gO)"/>
<circle cx="392.0" cy="160.1" r="5.85" fill="url(#gAl)"/>
<circle cx="369.5" cy="164.4" r="6.15" fill="url(#gO)"/>
<circle cx="392.7" cy="189.1" r="6.15" fill="url(#gO)"/>
<circle cx="368.8" cy="196.3" r="5.85" fill="url(#gAl)"/>
<circle cx="346.0" cy="198.2" r="6.15" fill="url(#gO)"/>
<circle cx="323.1" cy="191.0" r="5.85" fill="url(#gAl)"/>
<circle cx="299.2" cy="199.2" r="6.15" fill="url(#gO)"/>
</g>
<rect x="231.89999999999998" y="32.6" width="48.0" height="36.1" fill="#e7e6e6"/>
<text class="b" x="243.0" y="58.6" font-size="21.5">(b)</text>
<rect x="232.2" y="182.8" width="85.8" height="35.8" fill="#ffc000"/>
<text x="243.0" y="208.6" font-size="21.3" textLength="61.5" lengthAdjust="spacingAndGlyphs">0.12 ps</text>
</g>
<g id="pc">
<clipPath id="clc"><rect x="426.0" y="32.9" width="183.3" height="185.7"/></clipPath>
<rect x="426.0" y="32.9" width="183.3" height="185.7" fill="#9fe0fc"/>
<g clip-path="url(#clc)">
<g fill="none" stroke-width="0.65">
<polyline points="445.0,66.0 445.3,76.0 458.0,86.0" stroke="#ee66ee"/>
<polyline points="458.0,86.0 466.0,91.0" stroke="#f03038"/>
<polyline points="585.5,60.0 585.5,75.0 576.0,83.0" stroke="#ee66ee"/>
<polyline points="576.0,83.0 569.0,89.0" stroke="#f03038"/>
<polyline points="515.5,60.0 515.5,75.0" stroke="#ee66ee"/>
<polyline points="515.5,75.0 515.5,100.0" stroke="#f03038"/>
<polyline points="480.0,57.0 497.0,55.0 512.0,56.0" stroke="#f03038"/>
<polyline points="522.0,55.0 540.0,56.0 552.0,59.0" stroke="#f03038"/>
<polyline points="477.0,58.0 492.0,55.5" stroke="#ee66ee"/>
<polyline points="469.5,96.0 469.5,110.0" stroke="#f03038"/>
<polyline points="469.5,110.0 469.5,140.0" stroke="#ee66ee"/>
<polyline points="468.5,140.0 468.0,156.0" stroke="#f03038"/>
<polyline points="561.5,97.0 561.5,110.0" stroke="#f03038"/>
<polyline points="562.0,130.0 563.0,150.0" stroke="#ee66ee"/>
<polyline points="563.0,150.0 563.0,158.0" stroke="#f03038"/>
<polyline points="513.0,112.0 504.0,118.0" stroke="#ee66ee"/>
<polyline points="504.0,118.0 494.0,125.5" stroke="#f03038"/>
<polyline points="519.0,112.0 528.0,118.0" stroke="#ee66ee"/>
<polyline points="528.0,118.0 538.0,124.0" stroke="#f03038"/>
<polyline points="452.0,125.0 482.0,126.0" stroke="#ee66ee"/>
<polyline points="478.0,127.0 494.0,127.0 492.0,140.0" stroke="#f03038"/>
<polyline points="491.5,140.0 492.0,150.0" stroke="#ee66ee"/>
<polyline points="498.0,159.5 575.0,158.5" stroke="#ee66ee"/>
<polyline points="520.0,160.0 545.0,158.0 556.0,162.0" stroke="#f03038"/>
<polyline points="548.0,157.5 572.0,158.5" stroke="#f03038"/>
<polyline points="539.0,128.0 539.5,160.0" stroke="#ee66ee"/>
<polyline points="539.5,160.0 537.0,190.0" stroke="#f03038"/>
<polyline points="446.0,128.0 445.5,160.0" stroke="#f03038"/>
<polyline points="522.0,190.0 536.0,189.0 546.0,192.0" stroke="#f03038"/>
<polyline points="468.0,156.0 488.0,158.0" stroke="#f03038"/>
</g>
<line x1="516.6" y1="136.9" x2="514.8" y2="147.8" stroke="#8c3c92" stroke-width="5.9159999999999995"/><line x1="516.6" y1="136.9" x2="514.8" y2="147.8" stroke="#a850ae" stroke-width="2.66"/><line x1="514.8" y1="147.8" x2="513.0" y2="158.6" stroke="#8e0a10" stroke-width="5.9159999999999995"/><line x1="514.8" y1="147.8" x2="513.0" y2="158.6" stroke="#b4141a" stroke-width="2.66"/>
<line x1="513.0" y1="158.6" x2="514.1" y2="174.2" stroke="#c80d14" stroke-width="5.9159999999999995"/><line x1="513.0" y1="158.6" x2="514.1" y2="174.2" stroke="#f01c24" stroke-width="2.66"/><line x1="514.1" y1="174.2" x2="515.2" y2="189.8" stroke="#cf5cd3" stroke-width="5.9159999999999995"/><line x1="514.1" y1="174.2" x2="515.2" y2="189.8" stroke="#ee82f0" stroke-width="2.66"/>
<circle cx="513.0" cy="158.6" r="6.27" fill="url(#gO)"/>
<line x1="472.1" y1="57.6" x2="482.4" y2="61.1" stroke="#cf5cd3" stroke-width="5.9159999999999995"/><line x1="472.1" y1="57.6" x2="482.4" y2="61.1" stroke="#ee82f0" stroke-width="2.66"/><line x1="482.4" y1="61.1" x2="492.7" y2="64.6" stroke="#c80d14" stroke-width="5.9159999999999995"/><line x1="482.4" y1="61.1" x2="492.7" y2="64.6" stroke="#f01c24" stroke-width="2.66"/>
<line x1="492.7" y1="64.6" x2="504.1" y2="58.9" stroke="#c80d14" stroke-width="5.9159999999999995"/><line x1="492.7" y1="64.6" x2="504.1" y2="58.9" stroke="#f01c24" stroke-width="2.66"/><line x1="504.1" y1="58.9" x2="515.6" y2="53.3" stroke="#cf5cd3" stroke-width="5.9159999999999995"/><line x1="504.1" y1="58.9" x2="515.6" y2="53.3" stroke="#ee82f0" stroke-width="2.66"/>
<line x1="515.6" y1="53.3" x2="527.0" y2="59.9" stroke="#cf5cd3" stroke-width="5.9159999999999995"/><line x1="515.6" y1="53.3" x2="527.0" y2="59.9" stroke="#ee82f0" stroke-width="2.66"/><line x1="527.0" y1="59.9" x2="538.4" y2="66.6" stroke="#c80d14" stroke-width="5.9159999999999995"/><line x1="527.0" y1="59.9" x2="538.4" y2="66.6" stroke="#f01c24" stroke-width="2.66"/>
<line x1="538.4" y1="66.6" x2="549.2" y2="63.4" stroke="#c80d14" stroke-width="5.9159999999999995"/><line x1="538.4" y1="66.6" x2="549.2" y2="63.4" stroke="#f01c24" stroke-width="2.66"/><line x1="549.2" y1="63.4" x2="560.1" y2="60.3" stroke="#cf5cd3" stroke-width="5.9159999999999995"/><line x1="549.2" y1="63.4" x2="560.1" y2="60.3" stroke="#ee82f0" stroke-width="2.66"/>
<line x1="560.1" y1="60.3" x2="572.5" y2="56.5" stroke="#8c3c92" stroke-width="5.9159999999999995"/><line x1="560.1" y1="60.3" x2="572.5" y2="56.5" stroke="#a850ae" stroke-width="2.66"/><line x1="572.5" y1="56.5" x2="584.8" y2="52.6" stroke="#8e0a10" stroke-width="5.9159999999999995"/><line x1="572.5" y1="56.5" x2="584.8" y2="52.6" stroke="#b4141a" stroke-width="2.66"/>
<line x1="472.1" y1="57.6" x2="470.1" y2="74.2" stroke="#cf5cd3" stroke-width="5.9159999999999995"/><line x1="472.1" y1="57.6" x2="470.1" y2="74.2" stroke="#ee82f0" stroke-width="2.66"/><line x1="470.1" y1="74.2" x2="468.0" y2="90.7" stroke="#c80d14" stroke-width="5.9159999999999995"/><line x1="470.1" y1="74.2" x2="468.0" y2="90.7" stroke="#f01c24" stroke-width="2.66"/>
<line x1="492.7" y1="64.6" x2="490.1" y2="79.6" stroke="#c80d14" stroke-width="5.9159999999999995"/><line x1="492.7" y1="64.6" x2="490.1" y2="79.6" stroke="#f01c24" stroke-width="2.66"/><line x1="490.1" y1="79.6" x2="487.6" y2="94.6" stroke="#cf5cd3" stroke-width="5.9159999999999995"/><line x1="490.1" y1="79.6" x2="487.6" y2="94.6" stroke="#ee82f0" stroke-width="2.66"/>
<line x1="538.4" y1="66.6" x2="539.8" y2="83.5" stroke="#c80d14" stroke-width="5.9159999999999995"/><line x1="538.4" y1="66.6" x2="539.8" y2="83.5" stroke="#f01c24" stroke-width="2.66"/><line x1="539.8" y1="83.5" x2="541.3" y2="100.4" stroke="#cf5cd3" stroke-width="5.9159999999999995"/><line x1="539.8" y1="83.5" x2="541.3" y2="100.4" stroke="#ee82f0" stroke-width="2.66"/>
<line x1="560.1" y1="60.3" x2="563.0" y2="75.5" stroke="#cf5cd3" stroke-width="5.9159999999999995"/><line x1="560.1" y1="60.3" x2="563.0" y2="75.5" stroke="#ee82f0" stroke-width="2.66"/><line x1="563.0" y1="75.5" x2="565.9" y2="90.7" stroke="#c80d14" stroke-width="5.9159999999999995"/><line x1="563.0" y1="75.5" x2="565.9" y2="90.7" stroke="#f01c24" stroke-width="2.66"/>
<line x1="468.0" y1="90.7" x2="477.8" y2="92.7" stroke="#8e0a10" stroke-width="5.9159999999999995"/><line x1="468.0" y1="90.7" x2="477.8" y2="92.7" stroke="#b4141a" stroke-width="2.66"/><line x1="477.8" y1="92.7" x2="487.6" y2="94.6" stroke="#8c3c92" stroke-width="5.9159999999999995"/><line x1="477.8" y1="92.7" x2="487.6" y2="94.6" stroke="#a850ae" stroke-width="2.66"/>
<line x1="487.6" y1="94.6" x2="500.3" y2="100.4" stroke="#cf5cd3" stroke-width="5.9159999999999995"/><line x1="487.6" y1="94.6" x2="500.3" y2="100.4" stroke="#ee82f0" stroke-width="2.66"/><line x1="500.3" y1="100.4" x2="513.0" y2="106.2" stroke="#c80d14" stroke-width="5.9159999999999995"/><line x1="500.3" y1="100.4" x2="513.0" y2="106.2" stroke="#f01c24" stroke-width="2.66"/>
<line x1="513.0" y1="106.2" x2="527.1" y2="103.3" stroke="#c80d14" stroke-width="5.9159999999999995"/><line x1="513.0" y1="106.2" x2="527.1" y2="103.3" stroke="#f01c24" stroke-width="2.66"/><line x1="527.1" y1="103.3" x2="541.3" y2="100.4" stroke="#cf5cd3" stroke-width="5.9159999999999995"/><line x1="527.1" y1="103.3" x2="541.3" y2="100.4" stroke="#ee82f0" stroke-width="2.66"/>
<line x1="541.3" y1="100.4" x2="553.6" y2="95.6" stroke="#cf5cd3" stroke-width="5.9159999999999995"/><line x1="541.3" y1="100.4" x2="553.6" y2="95.6" stroke="#ee82f0" stroke-width="2.66"/><line x1="553.6" y1="95.6" x2="565.9" y2="90.7" stroke="#c80d14" stroke-width="5.9159999999999995"/><line x1="553.6" y1="95.6" x2="565.9" y2="90.7" stroke="#f01c24" stroke-width="2.66"/>
<line x1="565.9" y1="90.7" x2="577.5" y2="100.4" stroke="#c80d14" stroke-width="5.9159999999999995"/><line x1="565.9" y1="90.7" x2="577.5" y2="100.4" stroke="#f01c24" stroke-width="2.66"/><line x1="577.5" y1="100.4" x2="589.1" y2="110.1" stroke="#cf5cd3" stroke-width="5.9159999999999995"/><line x1="577.5" y1="100.4" x2="589.1" y2="110.1" stroke="#ee82f0" stroke-width="2.66"/>
<line x1="468.0" y1="90.7" x2="457.1" y2="100.2" stroke="#c80d14" stroke-width="5.9159999999999995"/><line x1="468.0" y1="90.7" x2="457.1" y2="100.2" stroke="#f01c24" stroke-width="2.66"/><line x1="457.1" y1="100.2" x2="446.3" y2="109.8" stroke="#cf5cd3" stroke-width="5.9159999999999995"/><line x1="457.1" y1="100.2" x2="446.3" y2="109.8" stroke="#ee82f0" stroke-width="2.66"/>
<line x1="446.3" y1="109.8" x2="448.4" y2="117.9" stroke="#cf5cd3" stroke-width="5.9159999999999995"/><line x1="446.3" y1="109.8" x2="448.4" y2="117.9" stroke="#ee82f0" stroke-width="2.66"/><line x1="448.4" y1="117.9" x2="450.5" y2="126.0" stroke="#c80d14" stroke-width="5.9159999999999995"/><line x1="448.4" y1="117.9" x2="450.5" y2="126.0" stroke="#f01c24" stroke-width="2.66"/>
<line x1="487.6" y1="94.6" x2="486.9" y2="101.8" stroke="#cf5cd3" stroke-width="5.9159999999999995"/><line x1="487.6" y1="94.6" x2="486.9" y2="101.8" stroke="#ee82f0" stroke-width="2.66"/><line x1="486.9" y1="101.8" x2="486.2" y2="109.1" stroke="#c80d14" stroke-width="5.9159999999999995"/><line x1="486.9" y1="101.8" x2="486.2" y2="109.1" stroke="#f01c24" stroke-width="2.66"/>
<line x1="486.2" y1="109.1" x2="479.3" y2="114.2" stroke="#c80d14" stroke-width="4.691999999999999"/><line x1="486.2" y1="109.1" x2="479.3" y2="114.2" stroke="#f01c24" stroke-width="2.11"/><line x1="479.3" y1="114.2" x2="472.4" y2="119.3" stroke="#d8d8d8" stroke-width="4.691999999999999"/><line x1="479.3" y1="114.2" x2="472.4" y2="119.3" stroke="#fafafa" stroke-width="2.11"/>
<line x1="541.3" y1="100.4" x2="541.6" y2="111.5" stroke="#cf5cd3" stroke-width="5.9159999999999995"/><line x1="541.3" y1="100.4" x2="541.6" y2="111.5" stroke="#ee82f0" stroke-width="2.66"/><line x1="541.6" y1="111.5" x2="542.0" y2="122.5" stroke="#c80d14" stroke-width="5.9159999999999995"/><line x1="541.6" y1="111.5" x2="542.0" y2="122.5" stroke="#f01c24" stroke-width="2.66"/>
<line x1="542.0" y1="122.5" x2="529.3" y2="129.7" stroke="#c80d14" stroke-width="5.9159999999999995"/><line x1="542.0" y1="122.5" x2="529.3" y2="129.7" stroke="#f01c24" stroke-width="2.66"/><line x1="529.3" y1="129.7" x2="516.6" y2="136.9" stroke="#cf5cd3" stroke-width="5.9159999999999995"/><line x1="529.3" y1="129.7" x2="516.6" y2="136.9" stroke="#ee82f0" stroke-width="2.66"/>
<line x1="516.6" y1="136.9" x2="511.1" y2="141.6" stroke="#cf5cd3" stroke-width="5.9159999999999995"/><line x1="516.6" y1="136.9" x2="511.1" y2="141.6" stroke="#ee82f0" stroke-width="2.66"/><line x1="511.1" y1="141.6" x2="505.7" y2="146.3" stroke="#c80d14" stroke-width="5.9159999999999995"/><line x1="511.1" y1="141.6" x2="505.7" y2="146.3" stroke="#f01c24" stroke-width="2.66"/>
<line x1="505.7" y1="146.3" x2="498.9" y2="152.1" stroke="#c80d14" stroke-width="4.691999999999999"/><line x1="505.7" y1="146.3" x2="498.9" y2="152.1" stroke="#f01c24" stroke-width="2.11"/><line x1="498.9" y1="152.1" x2="492.0" y2="157.9" stroke="#596163" stroke-width="4.691999999999999"/><line x1="498.9" y1="152.1" x2="492.0" y2="157.9" stroke="#828a8c" stroke-width="2.11"/>
<line x1="492.0" y1="157.9" x2="483.3" y2="152.4" stroke="#596163" stroke-width="4.691999999999999"/><line x1="492.0" y1="157.9" x2="483.3" y2="152.4" stroke="#828a8c" stroke-width="2.11"/><line x1="483.3" y1="152.4" x2="474.6" y2="147.0" stroke="#8fd2d2" stroke-width="4.691999999999999"/><line x1="483.3" y1="152.4" x2="474.6" y2="147.0" stroke="#b6f2f2" stroke-width="2.11"/>
<line x1="492.0" y1="157.9" x2="486.2" y2="165.9" stroke="#596163" stroke-width="4.691999999999999"/><line x1="492.0" y1="157.9" x2="486.2" y2="165.9" stroke="#828a8c" stroke-width="2.11"/><line x1="486.2" y1="165.9" x2="480.4" y2="173.8" stroke="#8fd2d2" stroke-width="4.691999999999999"/><line x1="486.2" y1="165.9" x2="480.4" y2="173.8" stroke="#b6f2f2" stroke-width="2.11"/>
<line x1="492.0" y1="157.9" x2="496.4" y2="164.4" stroke="#596163" stroke-width="4.691999999999999"/><line x1="492.0" y1="157.9" x2="496.4" y2="164.4" stroke="#828a8c" stroke-width="2.11"/><line x1="496.4" y1="164.4" x2="500.7" y2="170.9" stroke="#8fd2d2" stroke-width="4.691999999999999"/><line x1="496.4" y1="164.4" x2="500.7" y2="170.9" stroke="#b6f2f2" stroke-width="2.11"/>
<line x1="515.2" y1="189.8" x2="526.5" y2="194.5" stroke="#cf5cd3" stroke-width="5.9159999999999995"/><line x1="515.2" y1="189.8" x2="526.5" y2="194.5" stroke="#ee82f0" stroke-width="2.66"/><line x1="526.5" y1="194.5" x2="537.9" y2="199.2" stroke="#c80d14" stroke-width="5.9159999999999995"/><line x1="526.5" y1="194.5" x2="537.9" y2="199.2" stroke="#f01c24" stroke-width="2.66"/>
<line x1="537.9" y1="199.2" x2="549.0" y2="197.2" stroke="#c80d14" stroke-width="5.9159999999999995"/><line x1="537.9" y1="199.2" x2="549.0" y2="197.2" stroke="#f01c24" stroke-width="2.66"/><line x1="549.0" y1="197.2" x2="560.1" y2="195.3" stroke="#cf5cd3" stroke-width="5.9159999999999995"/><line x1="549.0" y1="197.2" x2="560.1" y2="195.3" stroke="#ee82f0" stroke-width="2.66"/>
<line x1="560.1" y1="195.3" x2="573.5" y2="191.8" stroke="#8c3c92" stroke-width="5.9159999999999995"/><line x1="560.1" y1="195.3" x2="573.5" y2="191.8" stroke="#a850ae" stroke-width="2.66"/><line x1="573.5" y1="191.8" x2="586.9" y2="188.3" stroke="#8e0a10" stroke-width="5.9159999999999995"/><line x1="573.5" y1="191.8" x2="586.9" y2="188.3" stroke="#b4141a" stroke-width="2.66"/>
<line x1="586.9" y1="188.3" x2="585.8" y2="173.9" stroke="#c80d14" stroke-width="5.9159999999999995"/><line x1="586.9" y1="188.3" x2="585.8" y2="173.9" stroke="#f01c24" stroke-width="2.66"/><line x1="585.8" y1="173.9" x2="584.8" y2="159.6" stroke="#cf5cd3" stroke-width="5.9159999999999995"/><line x1="585.8" y1="173.9" x2="584.8" y2="159.6" stroke="#ee82f0" stroke-width="2.66"/>
<line x1="584.8" y1="159.6" x2="573.5" y2="160.9" stroke="#8c3c92" stroke-width="5.9159999999999995"/><line x1="584.8" y1="159.6" x2="573.5" y2="160.9" stroke="#a850ae" stroke-width="2.66"/><line x1="573.5" y1="160.9" x2="562.3" y2="162.2" stroke="#8e0a10" stroke-width="5.9159999999999995"/><line x1="573.5" y1="160.9" x2="562.3" y2="162.2" stroke="#b4141a" stroke-width="2.66"/>
<line x1="562.3" y1="162.2" x2="561.2" y2="178.8" stroke="#c80d14" stroke-width="5.9159999999999995"/><line x1="562.3" y1="162.2" x2="561.2" y2="178.8" stroke="#f01c24" stroke-width="2.66"/><line x1="561.2" y1="178.8" x2="560.1" y2="195.3" stroke="#cf5cd3" stroke-width="5.9159999999999995"/><line x1="561.2" y1="178.8" x2="560.1" y2="195.3" stroke="#ee82f0" stroke-width="2.66"/>
<line x1="584.8" y1="159.6" x2="583.9" y2="143.3" stroke="#cf5cd3" stroke-width="5.9159999999999995"/><line x1="584.8" y1="159.6" x2="583.9" y2="143.3" stroke="#ee82f0" stroke-width="2.66"/><line x1="583.9" y1="143.3" x2="583.0" y2="127.0" stroke="#c80d14" stroke-width="5.9159999999999995"/><line x1="583.9" y1="143.3" x2="583.0" y2="127.0" stroke="#f01c24" stroke-width="2.66"/>
<line x1="583.0" y1="127.0" x2="586.0" y2="118.5" stroke="#c80d14" stroke-width="5.9159999999999995"/><line x1="583.0" y1="127.0" x2="586.0" y2="118.5" stroke="#f01c24" stroke-width="2.66"/><line x1="586.0" y1="118.5" x2="589.1" y2="110.1" stroke="#cf5cd3" stroke-width="5.9159999999999995"/><line x1="586.0" y1="118.5" x2="589.1" y2="110.1" stroke="#ee82f0" stroke-width="2.66"/>
<line x1="583.0" y1="127.0" x2="572.8" y2="126.8" stroke="#c80d14" stroke-width="4.691999999999999"/><line x1="583.0" y1="127.0" x2="572.8" y2="126.8" stroke="#f01c24" stroke-width="2.11"/><line x1="572.8" y1="126.8" x2="562.5" y2="126.5" stroke="#d8d8d8" stroke-width="4.691999999999999"/><line x1="572.8" y1="126.8" x2="562.5" y2="126.5" stroke="#fafafa" stroke-width="2.11"/>
<line x1="450.5" y1="126.0" x2="449.5" y2="142.1" stroke="#c80d14" stroke-width="5.9159999999999995"/><line x1="450.5" y1="126.0" x2="449.5" y2="142.1" stroke="#f01c24" stroke-width="2.66"/><line x1="449.5" y1="142.1" x2="448.5" y2="158.2" stroke="#cf5cd3" stroke-width="5.9159999999999995"/><line x1="449.5" y1="142.1" x2="448.5" y2="158.2" stroke="#ee82f0" stroke-width="2.66"/>
<line x1="448.5" y1="158.2" x2="458.6" y2="159.8" stroke="#cf5cd3" stroke-width="5.9159999999999995"/><line x1="448.5" y1="158.2" x2="458.6" y2="159.8" stroke="#ee82f0" stroke-width="2.66"/><line x1="458.6" y1="159.8" x2="468.8" y2="161.5" stroke="#c80d14" stroke-width="5.9159999999999995"/><line x1="458.6" y1="159.8" x2="468.8" y2="161.5" stroke="#f01c24" stroke-width="2.66"/>
<line x1="448.5" y1="158.2" x2="447.8" y2="173.1" stroke="#cf5cd3" stroke-width="5.9159999999999995"/><line x1="448.5" y1="158.2" x2="447.8" y2="173.1" stroke="#ee82f0" stroke-width="2.66"/><line x1="447.8" y1="173.1" x2="447.0" y2="188.0" stroke="#c80d14" stroke-width="5.9159999999999995"/><line x1="447.8" y1="173.1" x2="447.0" y2="188.0" stroke="#f01c24" stroke-width="2.66"/>
<line x1="468.8" y1="161.5" x2="469.1" y2="176.2" stroke="#c80d14" stroke-width="5.9159999999999995"/><line x1="468.8" y1="161.5" x2="469.1" y2="176.2" stroke="#f01c24" stroke-width="2.66"/><line x1="469.1" y1="176.2" x2="469.5" y2="191.0" stroke="#cf5cd3" stroke-width="5.9159999999999995"/><line x1="469.1" y1="176.2" x2="469.5" y2="191.0" stroke="#ee82f0" stroke-width="2.66"/>
<circle cx="472.1" cy="57.6" r="5.97" fill="url(#gAl)"/>
<circle cx="492.7" cy="64.6" r="6.27" fill="url(#gO)"/>
<circle cx="515.6" cy="53.3" r="5.97" fill="url(#gAl)"/>
<circle cx="538.4" cy="66.6" r="6.27" fill="url(#gO)"/>
<circle cx="560.1" cy="60.3" r="5.97" fill="url(#gAl)"/>
<circle cx="584.8" cy="52.6" r="6.27" fill="url(#gO)"/>
<circle cx="468.0" cy="90.7" r="6.27" fill="url(#gO)"/>
<circle cx="487.6" cy="94.6" r="5.97" fill="url(#gAl)"/>
<circle cx="513.0" cy="106.2" r="6.27" fill="url(#gO)"/>
<circle cx="541.3" cy="100.4" r="5.97" fill="url(#gAl)"/>
<circle cx="565.9" cy="90.7" r="6.27" fill="url(#gO)"/>
<circle cx="589.1" cy="110.1" r="5.97" fill="url(#gAl)"/>
<circle cx="446.3" cy="109.8" r="5.97" fill="url(#gAl)"/>
<circle cx="486.2" cy="109.1" r="6.27" fill="url(#gO)"/>
<circle cx="472.4" cy="119.3" r="6.32" fill="url(#gH)"/>
<circle cx="542.0" cy="122.5" r="6.27" fill="url(#gO)"/>
<circle cx="562.5" cy="126.5" r="6.32" fill="url(#gH)"/>
<circle cx="450.5" cy="126.0" r="6.27" fill="url(#gO)"/>
<circle cx="583.0" cy="127.0" r="6.27" fill="url(#gO)"/>
<circle cx="516.6" cy="136.9" r="5.97" fill="url(#gAl)"/>
<circle cx="474.6" cy="147.0" r="6.22" fill="url(#gF)"/>
<circle cx="505.7" cy="146.3" r="6.27" fill="url(#gO)"/>
<circle cx="492.0" cy="157.9" r="6.48" fill="url(#gC)"/>
<circle cx="448.5" cy="158.2" r="5.97" fill="url(#gAl)"/>
<circle cx="468.8" cy="161.5" r="6.27" fill="url(#gO)"/>
<circle cx="480.4" cy="173.8" r="6.22" fill="url(#gF)"/>
<circle cx="500.7" cy="170.9" r="6.22" fill="url(#gF)"/>
<circle cx="584.8" cy="159.6" r="5.97" fill="url(#gAl)"/>
<circle cx="562.3" cy="162.2" r="6.27" fill="url(#gO)"/>
<circle cx="586.9" cy="188.3" r="6.27" fill="url(#gO)"/>
<circle cx="560.1" cy="195.3" r="5.97" fill="url(#gAl)"/>
<circle cx="537.9" cy="199.2" r="6.27" fill="url(#gO)"/>
<circle cx="515.2" cy="189.8" r="5.97" fill="url(#gAl)"/>
<circle cx="447.0" cy="188.0" r="6.27" fill="url(#gO)"/>
<circle cx="469.5" cy="191.0" r="5.97" fill="url(#gAl)"/>
</g>
<rect x="425.7" y="32.6" width="44.2" height="35.9" fill="#e7e6e6"/>
<text class="b" x="435.8" y="58.6" font-size="21.5">(c)</text>
<rect x="426.0" y="182.3" width="84.8" height="36.3" fill="#ffc000"/>
<text x="435.6" y="208.6" font-size="21.3" textLength="62.5" lengthAdjust="spacingAndGlyphs">0.48 ps</text>
</g>
<g id="pd">
<clipPath id="cld"><rect x="618.6" y="32.9" width="184.1" height="185.7"/></clipPath>
<rect x="618.6" y="32.9" width="184.1" height="185.7" fill="#9fe0fc"/>
<g clip-path="url(#cld)">
<g fill="none" stroke-width="0.65">
<polyline points="638.0,66.0 638.3,74.0 651.0,84.0" stroke="#ee66ee"/>
<polyline points="651.0,84.0 657.0,88.0" stroke="#f03038"/>
<polyline points="782.5,55.0 782.5,72.0 772.0,80.0" stroke="#ee66ee"/>
<polyline points="772.0,80.0 764.0,86.0" stroke="#f03038"/>
<polyline points="710.3,57.0 710.3,72.0" stroke="#ee66ee"/>
<polyline points="710.3,72.0 710.3,90.0" stroke="#f03038"/>
<polyline points="674.0,54.0 690.0,51.5 702.0,52.0" stroke="#f03038"/>
<polyline points="714.0,51.5 734.0,52.0 746.0,55.0" stroke="#f03038"/>
<polyline points="669.0,54.5 688.0,52.0" stroke="#ee66ee"/>
<polyline points="663.5,94.0 663.5,108.0" stroke="#f03038"/>
<polyline points="663.8,108.0 663.8,124.0" stroke="#ee66ee"/>
<polyline points="757.5,95.0 757.5,106.0" stroke="#f03038"/>
<polyline points="757.5,106.0 757.5,124.0" stroke="#ee66ee"/>
<polyline points="710.5,101.0 710.5,108.0" stroke="#ee66ee"/>
<polyline points="710.5,108.0 700.0,115.0" stroke="#ee66ee"/>
<polyline points="700.0,115.0 692.0,121.0" stroke="#f03038"/>
<polyline points="710.5,108.0 721.0,115.0" stroke="#ee66ee"/>
<polyline points="721.0,115.0 729.0,121.0" stroke="#f03038"/>
<polyline points="641.0,125.0 662.0,125.5" stroke="#ee66ee"/>
<polyline points="757.0,125.0 775.0,125.5" stroke="#ee66ee"/>
<polyline points="662.0,132.0 662.5,147.0" stroke="#ee66ee"/>
<polyline points="662.5,147.0 662.0,152.0" stroke="#f03038"/>
<polyline points="720.0,158.5 750.0,156.5" stroke="#ee66ee"/>
<polyline points="722.0,159.0 746.0,157.0 752.0,160.0" stroke="#f03038"/>
<polyline points="734.5,128.0 734.5,150.0" stroke="#f03038"/>
<polyline points="735.0,150.0 734.0,175.0" stroke="#ee66ee"/>
<polyline points="734.0,175.0 733.0,190.0" stroke="#f03038"/>
<polyline points="757.0,128.0 759.0,150.0" stroke="#ee66ee"/>
<polyline points="759.0,150.0 759.0,156.0" stroke="#f03038"/>
<polyline points="782.5,128.0 783.0,150.0" stroke="#f03038"/>
<polyline points="717.0,194.5 752.0,193.5" stroke="#f03038"/>
<polyline points="718.0,191.5 750.0,192.0" stroke="#ee66ee"/>
<polyline points="687.0,172.0 688.0,181.0" stroke="#f03038"/>
</g>
<line x1="709.3" y1="140.5" x2="710.8" y2="149.6" stroke="#8c3c92" stroke-width="6.032"/><line x1="709.3" y1="140.5" x2="710.8" y2="149.6" stroke="#a850ae" stroke-width="2.71"/><line x1="710.8" y1="149.6" x2="712.2" y2="158.6" stroke="#8e0a10" stroke-width="6.032"/><line x1="710.8" y1="149.6" x2="712.2" y2="158.6" stroke="#b4141a" stroke-width="2.71"/>
<line x1="712.2" y1="158.6" x2="711.9" y2="176.0" stroke="#c80d14" stroke-width="6.032"/><line x1="712.2" y1="158.6" x2="711.9" y2="176.0" stroke="#f01c24" stroke-width="2.71"/><line x1="711.9" y1="176.0" x2="711.5" y2="193.4" stroke="#cf5cd3" stroke-width="6.032"/><line x1="711.9" y1="176.0" x2="711.5" y2="193.4" stroke="#ee82f0" stroke-width="2.71"/>
<line x1="637.6" y1="158.2" x2="648.5" y2="160.2" stroke="#cf5cd3" stroke-width="6.032"/><line x1="637.6" y1="158.2" x2="648.5" y2="160.2" stroke="#ee82f0" stroke-width="2.71"/><line x1="648.5" y1="160.2" x2="659.3" y2="162.2" stroke="#c80d14" stroke-width="6.032"/><line x1="648.5" y1="160.2" x2="659.3" y2="162.2" stroke="#f01c24" stroke-width="2.71"/>
<line x1="659.3" y1="162.2" x2="660.4" y2="176.6" stroke="#c80d14" stroke-width="6.032"/><line x1="659.3" y1="162.2" x2="660.4" y2="176.6" stroke="#f01c24" stroke-width="2.71"/><line x1="660.4" y1="176.6" x2="661.5" y2="191.0" stroke="#cf5cd3" stroke-width="6.032"/><line x1="660.4" y1="176.6" x2="661.5" y2="191.0" stroke="#ee82f0" stroke-width="2.71"/>
<line x1="711.5" y1="193.4" x2="705.8" y2="194.4" stroke="#cf5cd3" stroke-width="6.032"/><line x1="711.5" y1="193.4" x2="705.8" y2="194.4" stroke="#ee82f0" stroke-width="2.71"/><line x1="705.8" y1="194.4" x2="700.0" y2="195.5" stroke="#cf5cd3" stroke-width="6.032"/><line x1="705.8" y1="194.4" x2="700.0" y2="195.5" stroke="#ee82f0" stroke-width="2.71"/>
<circle cx="712.2" cy="158.6" r="6.40" fill="url(#gO)"/>
<circle cx="659.3" cy="162.2" r="6.40" fill="url(#gO)"/>
<circle cx="700.0" cy="195.5" r="6.08" fill="url(#gAl)"/>
<line x1="666.6" y1="57.6" x2="675.3" y2="59.8" stroke="#cf5cd3" stroke-width="6.032"/><line x1="666.6" y1="57.6" x2="675.3" y2="59.8" stroke="#ee82f0" stroke-width="2.71"/><line x1="675.3" y1="59.8" x2="684.0" y2="62.0" stroke="#c80d14" stroke-width="6.032"/><line x1="675.3" y1="59.8" x2="684.0" y2="62.0" stroke="#f01c24" stroke-width="2.71"/>
<line x1="684.0" y1="62.0" x2="695.2" y2="56.0" stroke="#c80d14" stroke-width="6.032"/><line x1="684.0" y1="62.0" x2="695.2" y2="56.0" stroke="#f01c24" stroke-width="2.71"/><line x1="695.2" y1="56.0" x2="706.4" y2="50.1" stroke="#cf5cd3" stroke-width="6.032"/><line x1="695.2" y1="56.0" x2="706.4" y2="50.1" stroke="#ee82f0" stroke-width="2.71"/>
<line x1="706.4" y1="50.1" x2="717.6" y2="55.7" stroke="#cf5cd3" stroke-width="6.032"/><line x1="706.4" y1="50.1" x2="717.6" y2="55.7" stroke="#ee82f0" stroke-width="2.71"/><line x1="717.6" y1="55.7" x2="728.9" y2="61.3" stroke="#c80d14" stroke-width="6.032"/><line x1="717.6" y1="55.7" x2="728.9" y2="61.3" stroke="#f01c24" stroke-width="2.71"/>
<line x1="728.9" y1="61.3" x2="741.2" y2="58.8" stroke="#c80d14" stroke-width="6.032"/><line x1="728.9" y1="61.3" x2="741.2" y2="58.8" stroke="#f01c24" stroke-width="2.71"/><line x1="741.2" y1="58.8" x2="753.6" y2="56.2" stroke="#cf5cd3" stroke-width="6.032"/><line x1="741.2" y1="58.8" x2="753.6" y2="56.2" stroke="#ee82f0" stroke-width="2.71"/>
<line x1="753.6" y1="56.2" x2="765.2" y2="53.0" stroke="#8c3c92" stroke-width="6.032"/><line x1="753.6" y1="56.2" x2="765.2" y2="53.0" stroke="#a850ae" stroke-width="2.71"/><line x1="765.2" y1="53.0" x2="776.8" y2="49.7" stroke="#8e0a10" stroke-width="6.032"/><line x1="765.2" y1="53.0" x2="776.8" y2="49.7" stroke="#b4141a" stroke-width="2.71"/>
<line x1="666.6" y1="57.6" x2="662.6" y2="73.2" stroke="#cf5cd3" stroke-width="6.032"/><line x1="666.6" y1="57.6" x2="662.6" y2="73.2" stroke="#ee82f0" stroke-width="2.71"/><line x1="662.6" y1="73.2" x2="658.6" y2="88.8" stroke="#c80d14" stroke-width="6.032"/><line x1="662.6" y1="73.2" x2="658.6" y2="88.8" stroke="#f01c24" stroke-width="2.71"/>
<line x1="684.0" y1="62.0" x2="683.2" y2="77.1" stroke="#c80d14" stroke-width="6.032"/><line x1="684.0" y1="62.0" x2="683.2" y2="77.1" stroke="#f01c24" stroke-width="2.71"/><line x1="683.2" y1="77.1" x2="682.5" y2="92.2" stroke="#cf5cd3" stroke-width="6.032"/><line x1="683.2" y1="77.1" x2="682.5" y2="92.2" stroke="#ee82f0" stroke-width="2.71"/>
<line x1="728.9" y1="61.3" x2="731.5" y2="76.3" stroke="#c80d14" stroke-width="6.032"/><line x1="728.9" y1="61.3" x2="731.5" y2="76.3" stroke="#f01c24" stroke-width="2.71"/><line x1="731.5" y1="76.3" x2="734.0" y2="91.3" stroke="#cf5cd3" stroke-width="6.032"/><line x1="731.5" y1="76.3" x2="734.0" y2="91.3" stroke="#ee82f0" stroke-width="2.71"/>
<line x1="753.6" y1="56.2" x2="755.8" y2="72.5" stroke="#cf5cd3" stroke-width="6.032"/><line x1="753.6" y1="56.2" x2="755.8" y2="72.5" stroke="#ee82f0" stroke-width="2.71"/><line x1="755.8" y1="72.5" x2="757.9" y2="88.8" stroke="#c80d14" stroke-width="6.032"/><line x1="755.8" y1="72.5" x2="757.9" y2="88.8" stroke="#f01c24" stroke-width="2.71"/>
<line x1="658.6" y1="88.8" x2="670.5" y2="90.5" stroke="#c80d14" stroke-width="6.032"/><line x1="658.6" y1="88.8" x2="670.5" y2="90.5" stroke="#f01c24" stroke-width="2.71"/><line x1="670.5" y1="90.5" x2="682.5" y2="92.2" stroke="#cf5cd3" stroke-width="6.032"/><line x1="670.5" y1="90.5" x2="682.5" y2="92.2" stroke="#ee82f0" stroke-width="2.71"/>
<line x1="682.5" y1="92.2" x2="696.6" y2="93.9" stroke="#cf5cd3" stroke-width="6.032"/><line x1="682.5" y1="92.2" x2="696.6" y2="93.9" stroke="#ee82f0" stroke-width="2.71"/><line x1="696.6" y1="93.9" x2="710.8" y2="95.6" stroke="#c80d14" stroke-width="6.032"/><line x1="696.6" y1="93.9" x2="710.8" y2="95.6" stroke="#f01c24" stroke-width="2.71"/>
<line x1="710.8" y1="95.6" x2="722.4" y2="93.4" stroke="#8e0a10" stroke-width="6.032"/><line x1="710.8" y1="95.6" x2="722.4" y2="93.4" stroke="#b4141a" stroke-width="2.71"/><line x1="722.4" y1="93.4" x2="734.0" y2="91.3" stroke="#8c3c92" stroke-width="6.032"/><line x1="722.4" y1="93.4" x2="734.0" y2="91.3" stroke="#a850ae" stroke-width="2.71"/>
<line x1="734.0" y1="91.3" x2="746.0" y2="90.0" stroke="#cf5cd3" stroke-width="6.032"/><line x1="734.0" y1="91.3" x2="746.0" y2="90.0" stroke="#ee82f0" stroke-width="2.71"/><line x1="746.0" y1="90.0" x2="757.9" y2="88.8" stroke="#c80d14" stroke-width="6.032"/><line x1="746.0" y1="90.0" x2="757.9" y2="88.8" stroke="#f01c24" stroke-width="2.71"/>
<line x1="757.9" y1="88.8" x2="768.0" y2="98.9" stroke="#c80d14" stroke-width="6.032"/><line x1="757.9" y1="88.8" x2="768.0" y2="98.9" stroke="#f01c24" stroke-width="2.71"/><line x1="768.0" y1="98.9" x2="778.2" y2="109.1" stroke="#cf5cd3" stroke-width="6.032"/><line x1="768.0" y1="98.9" x2="778.2" y2="109.1" stroke="#ee82f0" stroke-width="2.71"/>
<line x1="658.6" y1="88.8" x2="648.1" y2="99.2" stroke="#c80d14" stroke-width="6.032"/><line x1="658.6" y1="88.8" x2="648.1" y2="99.2" stroke="#f01c24" stroke-width="2.71"/><line x1="648.1" y1="99.2" x2="637.6" y2="109.6" stroke="#cf5cd3" stroke-width="6.032"/><line x1="648.1" y1="99.2" x2="637.6" y2="109.6" stroke="#ee82f0" stroke-width="2.71"/>
<line x1="637.6" y1="109.6" x2="638.8" y2="118.0" stroke="#cf5cd3" stroke-width="6.032"/><line x1="637.6" y1="109.6" x2="638.8" y2="118.0" stroke="#ee82f0" stroke-width="2.71"/><line x1="638.8" y1="118.0" x2="640.0" y2="126.5" stroke="#c80d14" stroke-width="6.032"/><line x1="638.8" y1="118.0" x2="640.0" y2="126.5" stroke="#f01c24" stroke-width="2.71"/>
<line x1="682.5" y1="92.2" x2="683.2" y2="106.8" stroke="#cf5cd3" stroke-width="6.032"/><line x1="682.5" y1="92.2" x2="683.2" y2="106.8" stroke="#ee82f0" stroke-width="2.71"/><line x1="683.2" y1="106.8" x2="684.0" y2="121.4" stroke="#c80d14" stroke-width="6.032"/><line x1="683.2" y1="106.8" x2="684.0" y2="121.4" stroke="#f01c24" stroke-width="2.71"/>
<line x1="734.0" y1="91.3" x2="733.2" y2="107.2" stroke="#cf5cd3" stroke-width="6.032"/><line x1="734.0" y1="91.3" x2="733.2" y2="107.2" stroke="#ee82f0" stroke-width="2.71"/><line x1="733.2" y1="107.2" x2="732.5" y2="123.0" stroke="#c80d14" stroke-width="6.032"/><line x1="733.2" y1="107.2" x2="732.5" y2="123.0" stroke="#f01c24" stroke-width="2.71"/>
<line x1="684.0" y1="121.4" x2="675.5" y2="124.0" stroke="#c80d14" stroke-width="4.784"/><line x1="684.0" y1="121.4" x2="675.5" y2="124.0" stroke="#f01c24" stroke-width="2.15"/><line x1="675.5" y1="124.0" x2="667.0" y2="126.5" stroke="#d8d8d8" stroke-width="4.784"/><line x1="675.5" y1="124.0" x2="667.0" y2="126.5" stroke="#fafafa" stroke-width="2.15"/>
<line x1="732.5" y1="123.0" x2="741.0" y2="124.2" stroke="#c80d14" stroke-width="4.784"/><line x1="732.5" y1="123.0" x2="741.0" y2="124.2" stroke="#f01c24" stroke-width="2.15"/><line x1="741.0" y1="124.2" x2="749.5" y2="125.5" stroke="#d8d8d8" stroke-width="4.784"/><line x1="741.0" y1="124.2" x2="749.5" y2="125.5" stroke="#fafafa" stroke-width="2.15"/>
<line x1="684.0" y1="121.4" x2="696.6" y2="130.9" stroke="#c80d14" stroke-width="6.032"/><line x1="684.0" y1="121.4" x2="696.6" y2="130.9" stroke="#f01c24" stroke-width="2.71"/><line x1="696.6" y1="130.9" x2="709.3" y2="140.5" stroke="#cf5cd3" stroke-width="6.032"/><line x1="696.6" y1="130.9" x2="709.3" y2="140.5" stroke="#ee82f0" stroke-width="2.71"/>
<line x1="732.5" y1="123.0" x2="720.9" y2="131.8" stroke="#c80d14" stroke-width="6.032"/><line x1="732.5" y1="123.0" x2="720.9" y2="131.8" stroke="#f01c24" stroke-width="2.71"/><line x1="720.9" y1="131.8" x2="709.3" y2="140.5" stroke="#cf5cd3" stroke-width="6.032"/><line x1="720.9" y1="131.8" x2="709.3" y2="140.5" stroke="#ee82f0" stroke-width="2.71"/>
<line x1="709.3" y1="140.5" x2="705.7" y2="148.8" stroke="#cf5cd3" stroke-width="6.032"/><line x1="709.3" y1="140.5" x2="705.7" y2="148.8" stroke="#ee82f0" stroke-width="2.71"/><line x1="705.7" y1="148.8" x2="702.1" y2="157.2" stroke="#c80d14" stroke-width="6.032"/><line x1="705.7" y1="148.8" x2="702.1" y2="157.2" stroke="#f01c24" stroke-width="2.71"/>
<line x1="702.1" y1="157.2" x2="693.8" y2="156.4" stroke="#c80d14" stroke-width="4.784"/><line x1="702.1" y1="157.2" x2="693.8" y2="156.4" stroke="#f01c24" stroke-width="2.15"/><line x1="693.8" y1="156.4" x2="685.4" y2="155.7" stroke="#596163" stroke-width="4.784"/><line x1="693.8" y1="156.4" x2="685.4" y2="155.7" stroke="#828a8c" stroke-width="2.15"/>
<line x1="685.4" y1="155.7" x2="684.7" y2="144.4" stroke="#596163" stroke-width="4.784"/><line x1="685.4" y1="155.7" x2="684.7" y2="144.4" stroke="#828a8c" stroke-width="2.15"/><line x1="684.7" y1="144.4" x2="684.0" y2="133.2" stroke="#8fd2d2" stroke-width="4.784"/><line x1="684.7" y1="144.4" x2="684.0" y2="133.2" stroke="#b6f2f2" stroke-width="2.15"/>
<line x1="685.4" y1="155.7" x2="674.1" y2="155.7" stroke="#596163" stroke-width="4.784"/><line x1="685.4" y1="155.7" x2="674.1" y2="155.7" stroke="#828a8c" stroke-width="2.15"/><line x1="674.1" y1="155.7" x2="662.9" y2="155.7" stroke="#8fd2d2" stroke-width="4.784"/><line x1="674.1" y1="155.7" x2="662.9" y2="155.7" stroke="#b6f2f2" stroke-width="2.15"/>
<line x1="685.4" y1="155.7" x2="684.3" y2="163.7" stroke="#596163" stroke-width="4.784"/><line x1="685.4" y1="155.7" x2="684.3" y2="163.7" stroke="#828a8c" stroke-width="2.15"/><line x1="684.3" y1="163.7" x2="683.2" y2="171.7" stroke="#8fd2d2" stroke-width="4.784"/><line x1="684.3" y1="163.7" x2="683.2" y2="171.7" stroke="#b6f2f2" stroke-width="2.15"/>
<line x1="711.5" y1="193.4" x2="722.4" y2="196.3" stroke="#cf5cd3" stroke-width="6.032"/><line x1="711.5" y1="193.4" x2="722.4" y2="196.3" stroke="#ee82f0" stroke-width="2.71"/><line x1="722.4" y1="196.3" x2="733.3" y2="199.2" stroke="#c80d14" stroke-width="6.032"/><line x1="722.4" y1="196.3" x2="733.3" y2="199.2" stroke="#f01c24" stroke-width="2.71"/>
<line x1="733.3" y1="199.2" x2="745.2" y2="197.8" stroke="#c80d14" stroke-width="6.032"/><line x1="733.3" y1="199.2" x2="745.2" y2="197.8" stroke="#f01c24" stroke-width="2.71"/><line x1="745.2" y1="197.8" x2="757.2" y2="196.3" stroke="#cf5cd3" stroke-width="6.032"/><line x1="745.2" y1="197.8" x2="757.2" y2="196.3" stroke="#ee82f0" stroke-width="2.71"/>
<line x1="757.2" y1="196.3" x2="769.2" y2="192.9" stroke="#8c3c92" stroke-width="6.032"/><line x1="757.2" y1="196.3" x2="769.2" y2="192.9" stroke="#a850ae" stroke-width="2.71"/><line x1="769.2" y1="192.9" x2="781.1" y2="189.5" stroke="#8e0a10" stroke-width="6.032"/><line x1="769.2" y1="192.9" x2="781.1" y2="189.5" stroke="#b4141a" stroke-width="2.71"/>
<line x1="781.1" y1="189.5" x2="781.9" y2="174.4" stroke="#c80d14" stroke-width="6.032"/><line x1="781.1" y1="189.5" x2="781.9" y2="174.4" stroke="#f01c24" stroke-width="2.71"/><line x1="781.9" y1="174.4" x2="782.6" y2="159.3" stroke="#cf5cd3" stroke-width="6.032"/><line x1="781.9" y1="174.4" x2="782.6" y2="159.3" stroke="#ee82f0" stroke-width="2.71"/>
<line x1="782.6" y1="159.3" x2="770.2" y2="160.1" stroke="#8c3c92" stroke-width="6.032"/><line x1="782.6" y1="159.3" x2="770.2" y2="160.1" stroke="#a850ae" stroke-width="2.71"/><line x1="770.2" y1="160.1" x2="757.9" y2="160.8" stroke="#8e0a10" stroke-width="6.032"/><line x1="770.2" y1="160.1" x2="757.9" y2="160.8" stroke="#b4141a" stroke-width="2.71"/>
<line x1="757.9" y1="160.8" x2="757.5" y2="178.6" stroke="#c80d14" stroke-width="6.032"/><line x1="757.9" y1="160.8" x2="757.5" y2="178.6" stroke="#f01c24" stroke-width="2.71"/><line x1="757.5" y1="178.6" x2="757.2" y2="196.3" stroke="#cf5cd3" stroke-width="6.032"/><line x1="757.5" y1="178.6" x2="757.2" y2="196.3" stroke="#ee82f0" stroke-width="2.71"/>
<line x1="782.6" y1="159.3" x2="779.1" y2="143.2" stroke="#cf5cd3" stroke-width="6.032"/><line x1="782.6" y1="159.3" x2="779.1" y2="143.2" stroke="#ee82f0" stroke-width="2.71"/><line x1="779.1" y1="143.2" x2="775.6" y2="127.0" stroke="#c80d14" stroke-width="6.032"/><line x1="779.1" y1="143.2" x2="775.6" y2="127.0" stroke="#f01c24" stroke-width="2.71"/>
<line x1="775.6" y1="127.0" x2="776.9" y2="118.0" stroke="#c80d14" stroke-width="6.032"/><line x1="775.6" y1="127.0" x2="776.9" y2="118.0" stroke="#f01c24" stroke-width="2.71"/><line x1="776.9" y1="118.0" x2="778.2" y2="109.1" stroke="#cf5cd3" stroke-width="6.032"/><line x1="776.9" y1="118.0" x2="778.2" y2="109.1" stroke="#ee82f0" stroke-width="2.71"/>
<line x1="640.0" y1="126.5" x2="638.8" y2="142.3" stroke="#c80d14" stroke-width="6.032"/><line x1="640.0" y1="126.5" x2="638.8" y2="142.3" stroke="#f01c24" stroke-width="2.71"/><line x1="638.8" y1="142.3" x2="637.6" y2="158.2" stroke="#cf5cd3" stroke-width="6.032"/><line x1="638.8" y1="142.3" x2="637.6" y2="158.2" stroke="#ee82f0" stroke-width="2.71"/>
<line x1="637.6" y1="158.2" x2="638.0" y2="173.1" stroke="#cf5cd3" stroke-width="6.032"/><line x1="637.6" y1="158.2" x2="638.0" y2="173.1" stroke="#ee82f0" stroke-width="2.71"/><line x1="638.0" y1="173.1" x2="638.3" y2="188.0" stroke="#c80d14" stroke-width="6.032"/><line x1="638.0" y1="173.1" x2="638.3" y2="188.0" stroke="#f01c24" stroke-width="2.71"/>
<circle cx="666.6" cy="57.6" r="6.08" fill="url(#gAl)"/>
<circle cx="684.0" cy="62.0" r="6.40" fill="url(#gO)"/>
<circle cx="706.4" cy="50.1" r="6.08" fill="url(#gAl)"/>
<circle cx="728.9" cy="61.3" r="6.40" fill="url(#gO)"/>
<circle cx="753.6" cy="56.2" r="6.08" fill="url(#gAl)"/>
<circle cx="776.8" cy="49.7" r="6.40" fill="url(#gO)"/>
<circle cx="658.6" cy="88.8" r="6.40" fill="url(#gO)"/>
<circle cx="682.5" cy="92.2" r="6.08" fill="url(#gAl)"/>
<circle cx="710.8" cy="95.6" r="6.40" fill="url(#gO)"/>
<circle cx="734.0" cy="91.3" r="6.08" fill="url(#gAl)"/>
<circle cx="757.9" cy="88.8" r="6.40" fill="url(#gO)"/>
<circle cx="778.2" cy="109.1" r="6.08" fill="url(#gAl)"/>
<circle cx="637.6" cy="109.6" r="6.08" fill="url(#gAl)"/>
<circle cx="684.0" cy="121.4" r="6.40" fill="url(#gO)"/>
<circle cx="732.5" cy="123.0" r="6.40" fill="url(#gO)"/>
<circle cx="667.0" cy="126.5" r="6.45" fill="url(#gH)"/>
<circle cx="749.5" cy="125.5" r="6.45" fill="url(#gH)"/>
<circle cx="640.0" cy="126.5" r="6.40" fill="url(#gO)"/>
<circle cx="775.6" cy="127.0" r="6.40" fill="url(#gO)"/>
<circle cx="709.3" cy="140.5" r="6.08" fill="url(#gAl)"/>
<circle cx="684.0" cy="133.2" r="6.34" fill="url(#gF)"/>
<circle cx="662.9" cy="155.7" r="6.34" fill="url(#gF)"/>
<circle cx="702.1" cy="157.2" r="6.40" fill="url(#gO)"/>
<circle cx="685.4" cy="155.7" r="6.60" fill="url(#gC)"/>
<circle cx="683.2" cy="171.7" r="6.34" fill="url(#gF)"/>
<circle cx="637.6" cy="158.2" r="6.08" fill="url(#gAl)"/>
<circle cx="661.5" cy="191.0" r="6.08" fill="url(#gAl)"/>
<circle cx="638.3" cy="188.0" r="6.40" fill="url(#gO)"/>
<circle cx="757.9" cy="160.8" r="6.40" fill="url(#gO)"/>
<circle cx="782.6" cy="159.3" r="6.08" fill="url(#gAl)"/>
<circle cx="781.1" cy="189.5" r="6.40" fill="url(#gO)"/>
<circle cx="757.2" cy="196.3" r="6.08" fill="url(#gAl)"/>
<circle cx="733.3" cy="199.2" r="6.40" fill="url(#gO)"/>
<circle cx="711.5" cy="193.4" r="6.08" fill="url(#gAl)"/>
</g>
<rect x="618.3000000000001" y="32.6" width="46.5" height="35.9" fill="#e7e6e6"/>
<text class="b" x="628.2" y="58.6" font-size="21.5">(d)</text>
<rect x="618.1" y="181.8" width="84.0" height="36.8" fill="#ffc000"/>
<text x="628.8" y="208.6" font-size="21.3" textLength="61.8" lengthAdjust="spacingAndGlyphs">3.22 ps</text>
</g>
<g id="pe">
<clipPath id="cle"><rect x="810.8" y="32.9" width="184.0" height="185.7"/></clipPath>
<rect x="810.8" y="32.9" width="184.0" height="185.7" fill="#9fe0fc"/>
<g clip-path="url(#cle)">
<g fill="none" stroke-width="0.65">
<polyline points="829.0,69.0 845.0,80.0" stroke="#ee66ee"/>
<polyline points="845.0,80.0 851.0,86.0" stroke="#f03038"/>
<polyline points="979.5,54.0 979.5,68.0 968.0,77.0" stroke="#ee66ee"/>
<polyline points="968.0,77.0 960.0,84.0" stroke="#f03038"/>
<polyline points="904.3,55.0 904.3,66.0" stroke="#ee66ee"/>
<polyline points="904.3,66.0 904.3,82.0" stroke="#ee66ee"/>
<polyline points="862.0,50.0 882.0,46.5 898.0,47.5" stroke="#f03038"/>
<polyline points="912.0,47.0 930.0,46.5 948.0,50.0" stroke="#f03038"/>
<polyline points="858.0,51.0 880.0,47.0" stroke="#ee66ee"/>
<polyline points="855.0,94.0 855.0,105.0" stroke="#f03038"/>
<polyline points="855.0,105.0 855.0,124.0" stroke="#ee66ee"/>
<polyline points="953.5,95.0 953.5,106.0" stroke="#f03038"/>
<polyline points="954.0,106.0 954.0,124.0" stroke="#ee66ee"/>
<polyline points="905.0,94.0 904.5,105.0" stroke="#ee66ee"/>
<polyline points="904.5,105.0 895.0,112.0" stroke="#ee66ee"/>
<polyline points="904.5,105.0 915.0,111.0" stroke="#ee66ee"/>
<polyline points="915.0,111.0 925.0,117.0" stroke="#f03038"/>
<polyline points="836.0,121.0 875.0,124.5" stroke="#ee66ee"/>
<polyline points="835.0,121.5 850.0,120.5" stroke="#f03038"/>
<polyline points="955.0,121.0 975.0,123.0" stroke="#ee66ee"/>
<polyline points="853.5,128.0 853.5,150.0" stroke="#f03038"/>
<polyline points="854.0,128.0 854.0,140.0" stroke="#ee66ee"/>
<polyline points="878.5,126.0 878.5,140.0" stroke="#f03038"/>
<polyline points="879.0,140.0 879.0,170.0" stroke="#ee66ee"/>
<polyline points="879.5,170.0 880.5,182.0" stroke="#f03038"/>
<polyline points="829.0,159.0 860.0,158.0 940.0,157.5" stroke="#ee66ee"/>
<polyline points="862.0,157.5 900.0,158.5 918.0,156.5 945.0,159.0" stroke="#f03038"/>
<polyline points="940.0,157.0 965.0,157.5" stroke="#f03038"/>
<polyline points="929.5,128.0 929.5,160.0" stroke="#ee66ee"/>
<polyline points="929.5,160.0 928.5,172.0" stroke="#f03038"/>
<polyline points="953.5,130.0 955.5,150.0" stroke="#ee66ee"/>
<polyline points="955.5,150.0 956.0,156.0" stroke="#f03038"/>
<polyline points="828.5,140.0 828.5,181.0" stroke="#ee66ee"/>
</g>
<line x1="905.2" y1="138.3" x2="904.5" y2="148.4" stroke="#8c3c92" stroke-width="6.264"/><line x1="905.2" y1="138.3" x2="904.5" y2="148.4" stroke="#a850ae" stroke-width="2.82"/><line x1="904.5" y1="148.4" x2="903.8" y2="158.6" stroke="#8e0a10" stroke-width="6.264"/><line x1="904.5" y1="148.4" x2="903.8" y2="158.6" stroke="#b4141a" stroke-width="2.82"/>
<line x1="903.8" y1="158.6" x2="904.1" y2="176.0" stroke="#c80d14" stroke-width="6.264"/><line x1="903.8" y1="158.6" x2="904.1" y2="176.0" stroke="#f01c24" stroke-width="2.82"/><line x1="904.1" y1="176.0" x2="904.5" y2="193.4" stroke="#cf5cd3" stroke-width="6.264"/><line x1="904.1" y1="176.0" x2="904.5" y2="193.4" stroke="#ee82f0" stroke-width="2.82"/>
<line x1="904.5" y1="193.4" x2="918.6" y2="195.2" stroke="#cf5cd3" stroke-width="6.264"/><line x1="904.5" y1="193.4" x2="918.6" y2="195.2" stroke="#ee82f0" stroke-width="2.82"/><line x1="918.6" y1="195.2" x2="932.8" y2="197.0" stroke="#c80d14" stroke-width="6.264"/><line x1="918.6" y1="195.2" x2="932.8" y2="197.0" stroke="#f01c24" stroke-width="2.82"/>
<line x1="932.8" y1="197.0" x2="944.8" y2="197.4" stroke="#c80d14" stroke-width="6.264"/><line x1="932.8" y1="197.0" x2="944.8" y2="197.4" stroke="#f01c24" stroke-width="2.82"/><line x1="944.8" y1="197.4" x2="956.7" y2="197.8" stroke="#cf5cd3" stroke-width="6.264"/><line x1="944.8" y1="197.4" x2="956.7" y2="197.8" stroke="#ee82f0" stroke-width="2.82"/>
<line x1="838.5" y1="160.8" x2="846.5" y2="161.5" stroke="#cf5cd3" stroke-width="6.264"/><line x1="838.5" y1="160.8" x2="846.5" y2="161.5" stroke="#ee82f0" stroke-width="2.82"/><line x1="846.5" y1="161.5" x2="854.5" y2="162.2" stroke="#c80d14" stroke-width="6.264"/><line x1="846.5" y1="161.5" x2="854.5" y2="162.2" stroke="#f01c24" stroke-width="2.82"/>
<circle cx="854.5" cy="162.2" r="6.64" fill="url(#gO)"/>
<circle cx="932.8" cy="197.0" r="6.64" fill="url(#gO)"/>
<circle cx="903.8" cy="158.6" r="6.64" fill="url(#gO)"/>
<line x1="856.7" y1="51.8" x2="868.5" y2="54.7" stroke="#cf5cd3" stroke-width="6.264"/><line x1="856.7" y1="51.8" x2="868.5" y2="54.7" stroke="#ee82f0" stroke-width="2.82"/><line x1="868.5" y1="54.7" x2="880.3" y2="57.6" stroke="#c80d14" stroke-width="6.264"/><line x1="868.5" y1="54.7" x2="880.3" y2="57.6" stroke="#f01c24" stroke-width="2.82"/>
<line x1="880.3" y1="57.6" x2="892.6" y2="52.5" stroke="#c80d14" stroke-width="6.264"/><line x1="880.3" y1="57.6" x2="892.6" y2="52.5" stroke="#f01c24" stroke-width="2.82"/><line x1="892.6" y1="52.5" x2="905.0" y2="47.5" stroke="#cf5cd3" stroke-width="6.264"/><line x1="892.6" y1="52.5" x2="905.0" y2="47.5" stroke="#ee82f0" stroke-width="2.82"/>
<line x1="905.0" y1="47.5" x2="917.3" y2="51.5" stroke="#cf5cd3" stroke-width="6.264"/><line x1="905.0" y1="47.5" x2="917.3" y2="51.5" stroke="#ee82f0" stroke-width="2.82"/><line x1="917.3" y1="51.5" x2="929.6" y2="55.5" stroke="#c80d14" stroke-width="6.264"/><line x1="917.3" y1="51.5" x2="929.6" y2="55.5" stroke="#f01c24" stroke-width="2.82"/>
<line x1="929.6" y1="55.5" x2="942.0" y2="54.4" stroke="#c80d14" stroke-width="6.264"/><line x1="929.6" y1="55.5" x2="942.0" y2="54.4" stroke="#f01c24" stroke-width="2.82"/><line x1="942.0" y1="54.4" x2="954.5" y2="53.3" stroke="#cf5cd3" stroke-width="6.264"/><line x1="942.0" y1="54.4" x2="954.5" y2="53.3" stroke="#ee82f0" stroke-width="2.82"/>
<line x1="954.5" y1="53.3" x2="966.9" y2="49.8" stroke="#8c3c92" stroke-width="6.264"/><line x1="954.5" y1="53.3" x2="966.9" y2="49.8" stroke="#a850ae" stroke-width="2.82"/><line x1="966.9" y1="49.8" x2="979.2" y2="46.3" stroke="#8e0a10" stroke-width="6.264"/><line x1="966.9" y1="49.8" x2="979.2" y2="46.3" stroke="#b4141a" stroke-width="2.82"/>
<line x1="856.7" y1="51.8" x2="854.5" y2="70.1" stroke="#cf5cd3" stroke-width="6.264"/><line x1="856.7" y1="51.8" x2="854.5" y2="70.1" stroke="#ee82f0" stroke-width="2.82"/><line x1="854.5" y1="70.1" x2="852.3" y2="88.4" stroke="#c80d14" stroke-width="6.264"/><line x1="854.5" y1="70.1" x2="852.3" y2="88.4" stroke="#f01c24" stroke-width="2.82"/>
<line x1="880.3" y1="57.6" x2="879.6" y2="73.0" stroke="#c80d14" stroke-width="6.264"/><line x1="880.3" y1="57.6" x2="879.6" y2="73.0" stroke="#f01c24" stroke-width="2.82"/><line x1="879.6" y1="73.0" x2="878.9" y2="88.4" stroke="#cf5cd3" stroke-width="6.264"/><line x1="879.6" y1="73.0" x2="878.9" y2="88.4" stroke="#ee82f0" stroke-width="2.82"/>
<line x1="929.6" y1="55.5" x2="930.1" y2="72.5" stroke="#c80d14" stroke-width="6.264"/><line x1="929.6" y1="55.5" x2="930.1" y2="72.5" stroke="#f01c24" stroke-width="2.82"/><line x1="930.1" y1="72.5" x2="930.6" y2="89.5" stroke="#cf5cd3" stroke-width="6.264"/><line x1="930.1" y1="72.5" x2="930.6" y2="89.5" stroke="#ee82f0" stroke-width="2.82"/>
<line x1="954.5" y1="53.3" x2="955.2" y2="70.8" stroke="#cf5cd3" stroke-width="6.264"/><line x1="954.5" y1="53.3" x2="955.2" y2="70.8" stroke="#ee82f0" stroke-width="2.82"/><line x1="955.2" y1="70.8" x2="956.0" y2="88.4" stroke="#c80d14" stroke-width="6.264"/><line x1="955.2" y1="70.8" x2="956.0" y2="88.4" stroke="#f01c24" stroke-width="2.82"/>
<line x1="852.3" y1="88.4" x2="865.6" y2="88.4" stroke="#c80d14" stroke-width="6.264"/><line x1="852.3" y1="88.4" x2="865.6" y2="88.4" stroke="#f01c24" stroke-width="2.82"/><line x1="865.6" y1="88.4" x2="878.9" y2="88.4" stroke="#cf5cd3" stroke-width="6.264"/><line x1="865.6" y1="88.4" x2="878.9" y2="88.4" stroke="#ee82f0" stroke-width="2.82"/>
<line x1="878.9" y1="88.4" x2="892.8" y2="88.1" stroke="#cf5cd3" stroke-width="6.264"/><line x1="878.9" y1="88.4" x2="892.8" y2="88.1" stroke="#ee82f0" stroke-width="2.82"/><line x1="892.8" y1="88.1" x2="906.7" y2="87.8" stroke="#c80d14" stroke-width="6.264"/><line x1="892.8" y1="88.1" x2="906.7" y2="87.8" stroke="#f01c24" stroke-width="2.82"/>
<line x1="906.7" y1="87.8" x2="918.7" y2="88.7" stroke="#8e0a10" stroke-width="6.264"/><line x1="906.7" y1="87.8" x2="918.7" y2="88.7" stroke="#b4141a" stroke-width="2.82"/><line x1="918.7" y1="88.7" x2="930.6" y2="89.5" stroke="#8c3c92" stroke-width="6.264"/><line x1="918.7" y1="88.7" x2="930.6" y2="89.5" stroke="#a850ae" stroke-width="2.82"/>
<line x1="930.6" y1="89.5" x2="943.3" y2="89.0" stroke="#cf5cd3" stroke-width="6.264"/><line x1="930.6" y1="89.5" x2="943.3" y2="89.0" stroke="#ee82f0" stroke-width="2.82"/><line x1="943.3" y1="89.0" x2="956.0" y2="88.4" stroke="#c80d14" stroke-width="6.264"/><line x1="943.3" y1="89.0" x2="956.0" y2="88.4" stroke="#f01c24" stroke-width="2.82"/>
<line x1="956.0" y1="88.4" x2="967.6" y2="98.2" stroke="#c80d14" stroke-width="6.264"/><line x1="956.0" y1="88.4" x2="967.6" y2="98.2" stroke="#f01c24" stroke-width="2.82"/><line x1="967.6" y1="98.2" x2="979.2" y2="108.1" stroke="#cf5cd3" stroke-width="6.264"/><line x1="967.6" y1="98.2" x2="979.2" y2="108.1" stroke="#ee82f0" stroke-width="2.82"/>
<line x1="852.3" y1="88.4" x2="840.0" y2="97.3" stroke="#c80d14" stroke-width="6.264"/><line x1="852.3" y1="88.4" x2="840.0" y2="97.3" stroke="#f01c24" stroke-width="2.82"/><line x1="840.0" y1="97.3" x2="827.7" y2="106.2" stroke="#cf5cd3" stroke-width="6.264"/><line x1="840.0" y1="97.3" x2="827.7" y2="106.2" stroke="#ee82f0" stroke-width="2.82"/>
<line x1="827.7" y1="106.2" x2="828.6" y2="116.1" stroke="#cf5cd3" stroke-width="6.264"/><line x1="827.7" y1="106.2" x2="828.6" y2="116.1" stroke="#ee82f0" stroke-width="2.82"/><line x1="828.6" y1="116.1" x2="829.5" y2="126.0" stroke="#c80d14" stroke-width="6.264"/><line x1="828.6" y1="116.1" x2="829.5" y2="126.0" stroke="#f01c24" stroke-width="2.82"/>
<line x1="829.5" y1="126.0" x2="822.4" y2="124.0" stroke="#c80d14" stroke-width="4.968"/><line x1="829.5" y1="126.0" x2="822.4" y2="124.0" stroke="#f01c24" stroke-width="2.24"/><line x1="822.4" y1="124.0" x2="815.3" y2="122.0" stroke="#d8d8d8" stroke-width="4.968"/><line x1="822.4" y1="124.0" x2="815.3" y2="122.0" stroke="#fafafa" stroke-width="2.24"/>
<line x1="878.9" y1="88.4" x2="882.6" y2="102.6" stroke="#cf5cd3" stroke-width="6.264"/><line x1="878.9" y1="88.4" x2="882.6" y2="102.6" stroke="#ee82f0" stroke-width="2.82"/><line x1="882.6" y1="102.6" x2="886.4" y2="116.8" stroke="#c80d14" stroke-width="6.264"/><line x1="882.6" y1="102.6" x2="886.4" y2="116.8" stroke="#f01c24" stroke-width="2.82"/>
<line x1="930.6" y1="89.5" x2="930.6" y2="104.8" stroke="#cf5cd3" stroke-width="6.264"/><line x1="930.6" y1="89.5" x2="930.6" y2="104.8" stroke="#ee82f0" stroke-width="2.82"/><line x1="930.6" y1="104.8" x2="930.6" y2="120.0" stroke="#c80d14" stroke-width="6.264"/><line x1="930.6" y1="104.8" x2="930.6" y2="120.0" stroke="#f01c24" stroke-width="2.82"/>
<line x1="930.6" y1="120.0" x2="940.4" y2="122.2" stroke="#c80d14" stroke-width="4.968"/><line x1="930.6" y1="120.0" x2="940.4" y2="122.2" stroke="#f01c24" stroke-width="2.24"/><line x1="940.4" y1="122.2" x2="950.2" y2="124.5" stroke="#d8d8d8" stroke-width="4.968"/><line x1="940.4" y1="122.2" x2="950.2" y2="124.5" stroke="#fafafa" stroke-width="2.24"/>
<line x1="886.4" y1="116.8" x2="895.8" y2="127.6" stroke="#c80d14" stroke-width="6.264"/><line x1="886.4" y1="116.8" x2="895.8" y2="127.6" stroke="#f01c24" stroke-width="2.82"/><line x1="895.8" y1="127.6" x2="905.2" y2="138.3" stroke="#cf5cd3" stroke-width="6.264"/><line x1="895.8" y1="127.6" x2="905.2" y2="138.3" stroke="#ee82f0" stroke-width="2.82"/>
<line x1="930.6" y1="120.0" x2="917.9" y2="129.2" stroke="#c80d14" stroke-width="6.264"/><line x1="930.6" y1="120.0" x2="917.9" y2="129.2" stroke="#f01c24" stroke-width="2.82"/><line x1="917.9" y1="129.2" x2="905.2" y2="138.3" stroke="#cf5cd3" stroke-width="6.264"/><line x1="917.9" y1="129.2" x2="905.2" y2="138.3" stroke="#ee82f0" stroke-width="2.82"/>
<line x1="905.2" y1="138.3" x2="907.4" y2="152.8" stroke="#cf5cd3" stroke-width="6.264"/><line x1="905.2" y1="138.3" x2="907.4" y2="152.8" stroke="#ee82f0" stroke-width="2.82"/><line x1="907.4" y1="152.8" x2="909.6" y2="167.3" stroke="#c80d14" stroke-width="6.264"/><line x1="907.4" y1="152.8" x2="909.6" y2="167.3" stroke="#f01c24" stroke-width="2.82"/>
<line x1="909.6" y1="167.3" x2="918.0" y2="175.3" stroke="#c80d14" stroke-width="4.968"/><line x1="909.6" y1="167.3" x2="918.0" y2="175.3" stroke="#f01c24" stroke-width="2.24"/><line x1="918.0" y1="175.3" x2="926.3" y2="183.3" stroke="#596163" stroke-width="4.968"/><line x1="918.0" y1="175.3" x2="926.3" y2="183.3" stroke="#828a8c" stroke-width="2.24"/>
<line x1="926.3" y1="183.3" x2="937.9" y2="178.9" stroke="#596163" stroke-width="4.968"/><line x1="926.3" y1="183.3" x2="937.9" y2="178.9" stroke="#828a8c" stroke-width="2.24"/><line x1="937.9" y1="178.9" x2="949.5" y2="174.6" stroke="#8fd2d2" stroke-width="4.968"/><line x1="937.9" y1="178.9" x2="949.5" y2="174.6" stroke="#b6f2f2" stroke-width="2.24"/>
<line x1="926.3" y1="183.3" x2="925.5" y2="191.6" stroke="#596163" stroke-width="4.968"/><line x1="926.3" y1="183.3" x2="925.5" y2="191.6" stroke="#828a8c" stroke-width="2.24"/><line x1="925.5" y1="191.6" x2="924.8" y2="199.9" stroke="#8fd2d2" stroke-width="4.968"/><line x1="925.5" y1="191.6" x2="924.8" y2="199.9" stroke="#b6f2f2" stroke-width="2.24"/>
<line x1="956.7" y1="197.8" x2="969.4" y2="194.9" stroke="#8c3c92" stroke-width="6.264"/><line x1="956.7" y1="197.8" x2="969.4" y2="194.9" stroke="#a850ae" stroke-width="2.82"/><line x1="969.4" y1="194.9" x2="982.1" y2="192.0" stroke="#8e0a10" stroke-width="6.264"/><line x1="969.4" y1="194.9" x2="982.1" y2="192.0" stroke="#b4141a" stroke-width="2.82"/>
<line x1="982.1" y1="192.0" x2="980.3" y2="176.1" stroke="#c80d14" stroke-width="6.264"/><line x1="982.1" y1="192.0" x2="980.3" y2="176.1" stroke="#f01c24" stroke-width="2.82"/><line x1="980.3" y1="176.1" x2="978.5" y2="160.1" stroke="#cf5cd3" stroke-width="6.264"/><line x1="980.3" y1="176.1" x2="978.5" y2="160.1" stroke="#ee82f0" stroke-width="2.82"/>
<line x1="978.5" y1="160.1" x2="965.5" y2="161.1" stroke="#8c3c92" stroke-width="6.264"/><line x1="978.5" y1="160.1" x2="965.5" y2="161.1" stroke="#a850ae" stroke-width="2.82"/><line x1="965.5" y1="161.1" x2="952.4" y2="162.2" stroke="#8e0a10" stroke-width="6.264"/><line x1="965.5" y1="161.1" x2="952.4" y2="162.2" stroke="#b4141a" stroke-width="2.82"/>
<line x1="952.4" y1="162.2" x2="954.5" y2="180.0" stroke="#c80d14" stroke-width="6.264"/><line x1="952.4" y1="162.2" x2="954.5" y2="180.0" stroke="#f01c24" stroke-width="2.82"/><line x1="954.5" y1="180.0" x2="956.7" y2="197.8" stroke="#cf5cd3" stroke-width="6.264"/><line x1="954.5" y1="180.0" x2="956.7" y2="197.8" stroke="#ee82f0" stroke-width="2.82"/>
<line x1="978.5" y1="160.1" x2="977.8" y2="143.3" stroke="#cf5cd3" stroke-width="6.264"/><line x1="978.5" y1="160.1" x2="977.8" y2="143.3" stroke="#ee82f0" stroke-width="2.82"/><line x1="977.8" y1="143.3" x2="977.0" y2="126.5" stroke="#c80d14" stroke-width="6.264"/><line x1="977.8" y1="143.3" x2="977.0" y2="126.5" stroke="#f01c24" stroke-width="2.82"/>
<line x1="977.0" y1="126.5" x2="978.1" y2="117.3" stroke="#c80d14" stroke-width="6.264"/><line x1="977.0" y1="126.5" x2="978.1" y2="117.3" stroke="#f01c24" stroke-width="2.82"/><line x1="978.1" y1="117.3" x2="979.2" y2="108.1" stroke="#cf5cd3" stroke-width="6.264"/><line x1="978.1" y1="117.3" x2="979.2" y2="108.1" stroke="#ee82f0" stroke-width="2.82"/>
<line x1="829.5" y1="126.0" x2="834.0" y2="143.4" stroke="#c80d14" stroke-width="6.264"/><line x1="829.5" y1="126.0" x2="834.0" y2="143.4" stroke="#f01c24" stroke-width="2.82"/><line x1="834.0" y1="143.4" x2="838.5" y2="160.8" stroke="#cf5cd3" stroke-width="6.264"/><line x1="834.0" y1="143.4" x2="838.5" y2="160.8" stroke="#ee82f0" stroke-width="2.82"/>
<line x1="838.5" y1="160.8" x2="847.1" y2="158.6" stroke="#8c3c92" stroke-width="6.264"/><line x1="838.5" y1="160.8" x2="847.1" y2="158.6" stroke="#a850ae" stroke-width="2.82"/><line x1="847.1" y1="158.6" x2="855.7" y2="156.4" stroke="#8fd2d2" stroke-width="6.264"/><line x1="847.1" y1="158.6" x2="855.7" y2="156.4" stroke="#b6f2f2" stroke-width="2.82"/>
<line x1="838.5" y1="160.8" x2="836.2" y2="174.9" stroke="#cf5cd3" stroke-width="6.264"/><line x1="838.5" y1="160.8" x2="836.2" y2="174.9" stroke="#ee82f0" stroke-width="2.82"/><line x1="836.2" y1="174.9" x2="834.0" y2="189.0" stroke="#c80d14" stroke-width="6.264"/><line x1="836.2" y1="174.9" x2="834.0" y2="189.0" stroke="#f01c24" stroke-width="2.82"/>
<circle cx="856.7" cy="51.8" r="6.32" fill="url(#gAl)"/>
<circle cx="880.3" cy="57.6" r="6.64" fill="url(#gO)"/>
<circle cx="905.0" cy="47.5" r="6.32" fill="url(#gAl)"/>
<circle cx="929.6" cy="55.5" r="6.64" fill="url(#gO)"/>
<circle cx="954.5" cy="53.3" r="6.32" fill="url(#gAl)"/>
<circle cx="979.2" cy="46.3" r="6.64" fill="url(#gO)"/>
<circle cx="852.3" cy="88.4" r="6.64" fill="url(#gO)"/>
<circle cx="878.9" cy="88.4" r="6.32" fill="url(#gAl)"/>
<circle cx="906.7" cy="87.8" r="6.64" fill="url(#gO)"/>
<circle cx="930.6" cy="89.5" r="6.32" fill="url(#gAl)"/>
<circle cx="956.0" cy="88.4" r="6.64" fill="url(#gO)"/>
<circle cx="979.2" cy="108.1" r="6.32" fill="url(#gAl)"/>
<circle cx="827.7" cy="106.2" r="6.32" fill="url(#gAl)"/>
<circle cx="886.4" cy="116.8" r="6.64" fill="url(#gO)"/>
<circle cx="930.6" cy="120.0" r="6.64" fill="url(#gO)"/>
<circle cx="950.2" cy="124.5" r="6.70" fill="url(#gH)"/>
<circle cx="815.3" cy="122.0" r="6.70" fill="url(#gH)"/>
<circle cx="829.5" cy="126.0" r="6.64" fill="url(#gO)"/>
<circle cx="977.0" cy="126.5" r="6.64" fill="url(#gO)"/>
<circle cx="905.2" cy="138.3" r="6.32" fill="url(#gAl)"/>
<circle cx="838.5" cy="160.8" r="6.32" fill="url(#gAl)"/>
<circle cx="855.7" cy="156.4" r="6.59" fill="url(#gF)"/>
<circle cx="909.6" cy="167.3" r="6.64" fill="url(#gO)"/>
<circle cx="926.3" cy="183.3" r="6.86" fill="url(#gC)"/>
<circle cx="949.5" cy="174.6" r="6.59" fill="url(#gF)"/>
<circle cx="924.8" cy="199.9" r="6.59" fill="url(#gF)"/>
<circle cx="952.4" cy="162.2" r="6.64" fill="url(#gO)"/>
<circle cx="978.5" cy="160.1" r="6.32" fill="url(#gAl)"/>
<circle cx="982.1" cy="192.0" r="6.64" fill="url(#gO)"/>
<circle cx="956.7" cy="197.8" r="6.32" fill="url(#gAl)"/>
<circle cx="904.5" cy="193.4" r="6.32" fill="url(#gAl)"/>
<circle cx="834.0" cy="189.0" r="6.64" fill="url(#gO)"/>
</g>
<rect x="810.5" y="32.6" width="45.5" height="35.9" fill="#e7e6e6"/>
<text class="b" x="821.5" y="58.6" font-size="21.5">(e)</text>
<rect x="810.8" y="181.8" width="86.0" height="36.8" fill="#ffc000"/>
<text x="821.8" y="208.6" font-size="21.3" textLength="61.8" lengthAdjust="spacingAndGlyphs">4.73 ps</text>
</g>
<g id="pf">
<clipPath id="clf"><rect x="1003.9" y="33.0" width="184.0" height="184.8"/></clipPath>
<rect x="1003.9" y="33.0" width="184.0" height="184.8" fill="#9fe0fc"/>
<g clip-path="url(#clf)">
<g fill="none" stroke-width="0.65">
<polyline points="1024.0,69.0 1036.0,78.0" stroke="#ee66ee"/>
<polyline points="1036.0,78.0 1040.0,82.0" stroke="#f03038"/>
<polyline points="1174.0,48.0 1174.0,66.0 1164.0,74.0" stroke="#ee66ee"/>
<polyline points="1164.0,74.0 1156.0,80.0" stroke="#f03038"/>
<polyline points="1055.0,47.0 1075.0,43.5 1090.0,44.5" stroke="#f03038"/>
<polyline points="1102.0,44.0 1122.0,43.5 1140.0,46.5" stroke="#f03038"/>
<polyline points="1052.0,47.5 1074.0,44.5" stroke="#ee66ee"/>
<polyline points="1046.5,90.0 1046.5,104.0" stroke="#f03038"/>
<polyline points="1046.5,104.0 1046.5,122.0" stroke="#ee66ee"/>
<polyline points="1147.5,90.0 1147.5,103.0" stroke="#f03038"/>
<polyline points="1148.0,103.0 1148.0,124.0" stroke="#ee66ee"/>
<polyline points="1096.5,93.0 1097.0,103.0" stroke="#ee66ee"/>
<polyline points="1097.0,103.0 1088.0,110.0" stroke="#ee66ee"/>
<polyline points="1088.0,110.0 1080.0,115.0" stroke="#f03038"/>
<polyline points="1097.0,103.0 1108.0,110.0" stroke="#ee66ee"/>
<polyline points="1108.0,110.0 1116.0,114.0" stroke="#f03038"/>
<polyline points="1026.0,121.5 1040.0,120.0" stroke="#f03038"/>
<polyline points="1040.0,120.0 1066.0,122.0" stroke="#ee66ee"/>
<polyline points="1130.0,121.0 1168.0,123.0" stroke="#ee66ee"/>
<polyline points="1128.0,119.5 1142.0,119.0" stroke="#f03038"/>
<polyline points="1046.5,128.0 1046.0,140.0" stroke="#ee66ee"/>
<polyline points="1046.0,140.0 1045.5,154.0" stroke="#f03038"/>
<polyline points="1071.5,126.0 1071.5,140.0" stroke="#f03038"/>
<polyline points="1071.0,140.0 1071.5,172.0" stroke="#ee66ee"/>
<polyline points="1072.0,172.0 1073.5,190.0" stroke="#f03038"/>
<polyline points="1123.5,126.0 1123.5,160.0" stroke="#ee66ee"/>
<polyline points="1123.5,160.0 1122.0,174.0" stroke="#f03038"/>
<polyline points="1148.5,133.0 1149.0,155.0" stroke="#f03038"/>
<polyline points="1148.3,133.0 1148.6,143.0" stroke="#ee66ee"/>
<polyline points="1052.0,157.5 1090.0,156.5 1140.0,156.5" stroke="#ee66ee"/>
<polyline points="1034.0,157.0 1056.0,155.5 1088.0,158.5" stroke="#f03038"/>
<polyline points="1112.0,156.5 1142.0,159.0 1172.0,157.0" stroke="#f03038"/>
<polyline points="1136.0,158.0 1173.0,158.5" stroke="#ee66ee"/>
<polyline points="1173.0,150.0 1173.5,175.0" stroke="#ee66ee"/>
<polyline points="1173.5,175.0 1174.0,186.0" stroke="#f03038"/>
<polyline points="1062.0,193.0 1088.0,190.0" stroke="#f03038"/>
<polyline points="1064.0,196.5 1082.0,196.0" stroke="#f03038"/>
</g>
<line x1="1096.1" y1="189.1" x2="1107.3" y2="190.9" stroke="#8c3c92" stroke-width="6.438000000000001"/><line x1="1096.1" y1="189.1" x2="1107.3" y2="190.9" stroke="#a850ae" stroke-width="2.90"/><line x1="1107.3" y1="190.9" x2="1118.5" y2="192.7" stroke="#8e0a10" stroke-width="6.438000000000001"/><line x1="1107.3" y1="190.9" x2="1118.5" y2="192.7" stroke="#b4141a" stroke-width="2.90"/>
<line x1="1118.5" y1="192.7" x2="1134.1" y2="194.8" stroke="#c80d14" stroke-width="6.438000000000001"/><line x1="1118.5" y1="192.7" x2="1134.1" y2="194.8" stroke="#f01c24" stroke-width="2.90"/><line x1="1134.1" y1="194.8" x2="1149.7" y2="197.0" stroke="#cf5cd3" stroke-width="6.438000000000001"/><line x1="1134.1" y1="194.8" x2="1149.7" y2="197.0" stroke="#ee82f0" stroke-width="2.90"/>
<line x1="1075.0" y1="203.6" x2="1067.5" y2="202.1" stroke="#c80d14" stroke-width="5.106"/><line x1="1075.0" y1="203.6" x2="1067.5" y2="202.1" stroke="#f01c24" stroke-width="2.30"/><line x1="1067.5" y1="202.1" x2="1060.0" y2="200.5" stroke="#c80d14" stroke-width="5.106"/><line x1="1067.5" y1="202.1" x2="1060.0" y2="200.5" stroke="#f01c24" stroke-width="2.30"/>
<circle cx="1118.5" cy="192.7" r="6.83" fill="url(#gO)"/>
<circle cx="1060.0" cy="200.5" r="6.83" fill="url(#gO)"/>
<line x1="1048.2" y1="48.2" x2="1059.1" y2="51.9" stroke="#cf5cd3" stroke-width="6.438000000000001"/><line x1="1048.2" y1="48.2" x2="1059.1" y2="51.9" stroke="#ee82f0" stroke-width="2.90"/><line x1="1059.1" y1="51.9" x2="1070.0" y2="55.5" stroke="#c80d14" stroke-width="6.438000000000001"/><line x1="1059.1" y1="51.9" x2="1070.0" y2="55.5" stroke="#f01c24" stroke-width="2.90"/>
<line x1="1070.0" y1="55.5" x2="1082.7" y2="50.4" stroke="#c80d14" stroke-width="6.438000000000001"/><line x1="1070.0" y1="55.5" x2="1082.7" y2="50.4" stroke="#f01c24" stroke-width="2.90"/><line x1="1082.7" y1="50.4" x2="1095.3" y2="45.3" stroke="#cf5cd3" stroke-width="6.438000000000001"/><line x1="1082.7" y1="50.4" x2="1095.3" y2="45.3" stroke="#ee82f0" stroke-width="2.90"/>
<line x1="1095.3" y1="45.3" x2="1108.9" y2="50.0" stroke="#cf5cd3" stroke-width="6.438000000000001"/><line x1="1095.3" y1="45.3" x2="1108.9" y2="50.0" stroke="#ee82f0" stroke-width="2.90"/><line x1="1108.9" y1="50.0" x2="1122.6" y2="54.7" stroke="#c80d14" stroke-width="6.438000000000001"/><line x1="1108.9" y1="50.0" x2="1122.6" y2="54.7" stroke="#f01c24" stroke-width="2.90"/>
<line x1="1122.6" y1="54.7" x2="1136.2" y2="51.1" stroke="#c80d14" stroke-width="6.438000000000001"/><line x1="1122.6" y1="54.7" x2="1136.2" y2="51.1" stroke="#f01c24" stroke-width="2.90"/><line x1="1136.2" y1="51.1" x2="1149.7" y2="47.5" stroke="#cf5cd3" stroke-width="6.438000000000001"/><line x1="1136.2" y1="51.1" x2="1149.7" y2="47.5" stroke="#ee82f0" stroke-width="2.90"/>
<line x1="1149.7" y1="47.5" x2="1162.4" y2="44.2" stroke="#8c3c92" stroke-width="6.438000000000001"/><line x1="1149.7" y1="47.5" x2="1162.4" y2="44.2" stroke="#a850ae" stroke-width="2.90"/><line x1="1162.4" y1="44.2" x2="1175.1" y2="41.0" stroke="#8e0a10" stroke-width="6.438000000000001"/><line x1="1162.4" y1="44.2" x2="1175.1" y2="41.0" stroke="#b4141a" stroke-width="2.90"/>
<line x1="1048.2" y1="48.2" x2="1044.1" y2="65.6" stroke="#cf5cd3" stroke-width="6.438000000000001"/><line x1="1048.2" y1="48.2" x2="1044.1" y2="65.6" stroke="#ee82f0" stroke-width="2.90"/><line x1="1044.1" y1="65.6" x2="1040.0" y2="83.0" stroke="#c80d14" stroke-width="6.438000000000001"/><line x1="1044.1" y1="65.6" x2="1040.0" y2="83.0" stroke="#f01c24" stroke-width="2.90"/>
<line x1="1070.0" y1="55.5" x2="1069.2" y2="71.2" stroke="#c80d14" stroke-width="6.438000000000001"/><line x1="1070.0" y1="55.5" x2="1069.2" y2="71.2" stroke="#f01c24" stroke-width="2.90"/><line x1="1069.2" y1="71.2" x2="1068.5" y2="86.9" stroke="#cf5cd3" stroke-width="6.438000000000001"/><line x1="1069.2" y1="71.2" x2="1068.5" y2="86.9" stroke="#ee82f0" stroke-width="2.90"/>
<line x1="1095.3" y1="45.3" x2="1095.2" y2="65.8" stroke="#cf5cd3" stroke-width="6.438000000000001"/><line x1="1095.3" y1="45.3" x2="1095.2" y2="65.8" stroke="#ee82f0" stroke-width="2.90"/><line x1="1095.2" y1="65.8" x2="1095.1" y2="86.4" stroke="#c80d14" stroke-width="6.438000000000001"/><line x1="1095.2" y1="65.8" x2="1095.1" y2="86.4" stroke="#f01c24" stroke-width="2.90"/>
<line x1="1122.6" y1="54.7" x2="1122.9" y2="70.8" stroke="#c80d14" stroke-width="6.438000000000001"/><line x1="1122.6" y1="54.7" x2="1122.9" y2="70.8" stroke="#f01c24" stroke-width="2.90"/><line x1="1122.9" y1="70.8" x2="1123.2" y2="86.9" stroke="#cf5cd3" stroke-width="6.438000000000001"/><line x1="1122.9" y1="70.8" x2="1123.2" y2="86.9" stroke="#ee82f0" stroke-width="2.90"/>
<line x1="1149.7" y1="47.5" x2="1150.5" y2="65.2" stroke="#cf5cd3" stroke-width="6.438000000000001"/><line x1="1149.7" y1="47.5" x2="1150.5" y2="65.2" stroke="#ee82f0" stroke-width="2.90"/><line x1="1150.5" y1="65.2" x2="1151.2" y2="83.0" stroke="#c80d14" stroke-width="6.438000000000001"/><line x1="1150.5" y1="65.2" x2="1151.2" y2="83.0" stroke="#f01c24" stroke-width="2.90"/>
<line x1="1040.0" y1="83.0" x2="1054.2" y2="85.0" stroke="#c80d14" stroke-width="6.438000000000001"/><line x1="1040.0" y1="83.0" x2="1054.2" y2="85.0" stroke="#f01c24" stroke-width="2.90"/><line x1="1054.2" y1="85.0" x2="1068.5" y2="86.9" stroke="#cf5cd3" stroke-width="6.438000000000001"/><line x1="1054.2" y1="85.0" x2="1068.5" y2="86.9" stroke="#ee82f0" stroke-width="2.90"/>
<line x1="1068.5" y1="86.9" x2="1081.8" y2="86.7" stroke="#cf5cd3" stroke-width="6.438000000000001"/><line x1="1068.5" y1="86.9" x2="1081.8" y2="86.7" stroke="#ee82f0" stroke-width="2.90"/><line x1="1081.8" y1="86.7" x2="1095.1" y2="86.4" stroke="#c80d14" stroke-width="6.438000000000001"/><line x1="1081.8" y1="86.7" x2="1095.1" y2="86.4" stroke="#f01c24" stroke-width="2.90"/>
<line x1="1095.1" y1="86.4" x2="1109.2" y2="86.7" stroke="#8e0a10" stroke-width="6.438000000000001"/><line x1="1095.1" y1="86.4" x2="1109.2" y2="86.7" stroke="#b4141a" stroke-width="2.90"/><line x1="1109.2" y1="86.7" x2="1123.2" y2="86.9" stroke="#8c3c92" stroke-width="6.438000000000001"/><line x1="1109.2" y1="86.7" x2="1123.2" y2="86.9" stroke="#a850ae" stroke-width="2.90"/>
<line x1="1123.2" y1="86.9" x2="1137.2" y2="85.0" stroke="#cf5cd3" stroke-width="6.438000000000001"/><line x1="1123.2" y1="86.9" x2="1137.2" y2="85.0" stroke="#ee82f0" stroke-width="2.90"/><line x1="1137.2" y1="85.0" x2="1151.2" y2="83.0" stroke="#c80d14" stroke-width="6.438000000000001"/><line x1="1137.2" y1="85.0" x2="1151.2" y2="83.0" stroke="#f01c24" stroke-width="2.90"/>
<line x1="1151.2" y1="83.0" x2="1161.3" y2="94.6" stroke="#c80d14" stroke-width="6.438000000000001"/><line x1="1151.2" y1="83.0" x2="1161.3" y2="94.6" stroke="#f01c24" stroke-width="2.90"/><line x1="1161.3" y1="94.6" x2="1171.5" y2="106.2" stroke="#cf5cd3" stroke-width="6.438000000000001"/><line x1="1161.3" y1="94.6" x2="1171.5" y2="106.2" stroke="#ee82f0" stroke-width="2.90"/>
<line x1="1040.0" y1="83.0" x2="1028.9" y2="93.5" stroke="#c80d14" stroke-width="6.438000000000001"/><line x1="1040.0" y1="83.0" x2="1028.9" y2="93.5" stroke="#f01c24" stroke-width="2.90"/><line x1="1028.9" y1="93.5" x2="1017.8" y2="104.0" stroke="#cf5cd3" stroke-width="6.438000000000001"/><line x1="1028.9" y1="93.5" x2="1017.8" y2="104.0" stroke="#ee82f0" stroke-width="2.90"/>
<line x1="1017.8" y1="104.0" x2="1018.4" y2="115.0" stroke="#cf5cd3" stroke-width="6.438000000000001"/><line x1="1017.8" y1="104.0" x2="1018.4" y2="115.0" stroke="#ee82f0" stroke-width="2.90"/><line x1="1018.4" y1="115.0" x2="1019.0" y2="126.0" stroke="#c80d14" stroke-width="6.438000000000001"/><line x1="1018.4" y1="115.0" x2="1019.0" y2="126.0" stroke="#f01c24" stroke-width="2.90"/>
<line x1="1019.0" y1="126.0" x2="1014.8" y2="122.7" stroke="#c80d14" stroke-width="5.106"/><line x1="1019.0" y1="126.0" x2="1014.8" y2="122.7" stroke="#f01c24" stroke-width="2.30"/><line x1="1014.8" y1="122.7" x2="1010.5" y2="119.3" stroke="#d8d8d8" stroke-width="5.106"/><line x1="1014.8" y1="122.7" x2="1010.5" y2="119.3" stroke="#fafafa" stroke-width="2.30"/>
<line x1="1068.5" y1="86.9" x2="1070.3" y2="101.4" stroke="#cf5cd3" stroke-width="6.438000000000001"/><line x1="1068.5" y1="86.9" x2="1070.3" y2="101.4" stroke="#ee82f0" stroke-width="2.90"/><line x1="1070.3" y1="101.4" x2="1072.1" y2="115.9" stroke="#c80d14" stroke-width="6.438000000000001"/><line x1="1070.3" y1="101.4" x2="1072.1" y2="115.9" stroke="#f01c24" stroke-width="2.90"/>
<line x1="1123.2" y1="86.9" x2="1123.1" y2="101.7" stroke="#cf5cd3" stroke-width="6.438000000000001"/><line x1="1123.2" y1="86.9" x2="1123.1" y2="101.7" stroke="#ee82f0" stroke-width="2.90"/><line x1="1123.1" y1="101.7" x2="1122.9" y2="116.4" stroke="#c80d14" stroke-width="6.438000000000001"/><line x1="1123.1" y1="101.7" x2="1122.9" y2="116.4" stroke="#f01c24" stroke-width="2.90"/>
<line x1="1072.1" y1="115.9" x2="1083.7" y2="126.0" stroke="#c80d14" stroke-width="6.438000000000001"/><line x1="1072.1" y1="115.9" x2="1083.7" y2="126.0" stroke="#f01c24" stroke-width="2.90"/><line x1="1083.7" y1="126.0" x2="1095.3" y2="136.1" stroke="#cf5cd3" stroke-width="6.438000000000001"/><line x1="1083.7" y1="126.0" x2="1095.3" y2="136.1" stroke="#ee82f0" stroke-width="2.90"/>
<line x1="1122.9" y1="116.4" x2="1109.1" y2="126.2" stroke="#c80d14" stroke-width="6.438000000000001"/><line x1="1122.9" y1="116.4" x2="1109.1" y2="126.2" stroke="#f01c24" stroke-width="2.90"/><line x1="1109.1" y1="126.2" x2="1095.3" y2="136.1" stroke="#cf5cd3" stroke-width="6.438000000000001"/><line x1="1109.1" y1="126.2" x2="1095.3" y2="136.1" stroke="#ee82f0" stroke-width="2.90"/>
<line x1="1095.3" y1="136.1" x2="1094.6" y2="145.6" stroke="#8c3c92" stroke-width="6.438000000000001"/><line x1="1095.3" y1="136.1" x2="1094.6" y2="145.6" stroke="#a850ae" stroke-width="2.90"/><line x1="1094.6" y1="145.6" x2="1093.9" y2="155.0" stroke="#8e0a10" stroke-width="6.438000000000001"/><line x1="1094.6" y1="145.6" x2="1093.9" y2="155.0" stroke="#b4141a" stroke-width="2.90"/>
<line x1="1095.3" y1="136.1" x2="1101.1" y2="148.8" stroke="#cf5cd3" stroke-width="6.438000000000001"/><line x1="1095.3" y1="136.1" x2="1101.1" y2="148.8" stroke="#ee82f0" stroke-width="2.90"/><line x1="1101.1" y1="148.8" x2="1106.9" y2="161.5" stroke="#c80d14" stroke-width="6.438000000000001"/><line x1="1101.1" y1="148.8" x2="1106.9" y2="161.5" stroke="#f01c24" stroke-width="2.90"/>
<line x1="1093.9" y1="155.0" x2="1095.0" y2="172.1" stroke="#c80d14" stroke-width="6.438000000000001"/><line x1="1093.9" y1="155.0" x2="1095.0" y2="172.1" stroke="#f01c24" stroke-width="2.90"/><line x1="1095.0" y1="172.1" x2="1096.1" y2="189.1" stroke="#cf5cd3" stroke-width="6.438000000000001"/><line x1="1095.0" y1="172.1" x2="1096.1" y2="189.1" stroke="#ee82f0" stroke-width="2.90"/>
<line x1="1106.9" y1="161.5" x2="1111.8" y2="171.3" stroke="#c80d14" stroke-width="5.106"/><line x1="1106.9" y1="161.5" x2="1111.8" y2="171.3" stroke="#f01c24" stroke-width="2.30"/><line x1="1111.8" y1="171.3" x2="1116.8" y2="181.1" stroke="#596163" stroke-width="5.106"/><line x1="1111.8" y1="171.3" x2="1116.8" y2="181.1" stroke="#828a8c" stroke-width="2.30"/>
<line x1="1116.8" y1="181.1" x2="1121.7" y2="186.6" stroke="#596163" stroke-width="5.106"/><line x1="1116.8" y1="181.1" x2="1121.7" y2="186.6" stroke="#828a8c" stroke-width="2.30"/><line x1="1121.7" y1="186.6" x2="1126.5" y2="192.0" stroke="#8fd2d2" stroke-width="5.106"/><line x1="1121.7" y1="186.6" x2="1126.5" y2="192.0" stroke="#b6f2f2" stroke-width="2.30"/>
<line x1="1149.7" y1="197.0" x2="1161.7" y2="194.5" stroke="#cf5cd3" stroke-width="6.438000000000001"/><line x1="1149.7" y1="197.0" x2="1161.7" y2="194.5" stroke="#ee82f0" stroke-width="2.90"/><line x1="1161.7" y1="194.5" x2="1173.6" y2="192.0" stroke="#c80d14" stroke-width="6.438000000000001"/><line x1="1161.7" y1="194.5" x2="1173.6" y2="192.0" stroke="#f01c24" stroke-width="2.90"/>
<line x1="1173.6" y1="192.0" x2="1178.3" y2="175.7" stroke="#c80d14" stroke-width="6.438000000000001"/><line x1="1173.6" y1="192.0" x2="1178.3" y2="175.7" stroke="#f01c24" stroke-width="2.90"/><line x1="1178.3" y1="175.7" x2="1183.1" y2="159.3" stroke="#cf5cd3" stroke-width="6.438000000000001"/><line x1="1178.3" y1="175.7" x2="1183.1" y2="159.3" stroke="#ee82f0" stroke-width="2.90"/>
<line x1="1183.1" y1="159.3" x2="1177.0" y2="142.7" stroke="#cf5cd3" stroke-width="6.438000000000001"/><line x1="1183.1" y1="159.3" x2="1177.0" y2="142.7" stroke="#ee82f0" stroke-width="2.90"/><line x1="1177.0" y1="142.7" x2="1171.0" y2="126.0" stroke="#c80d14" stroke-width="6.438000000000001"/><line x1="1177.0" y1="142.7" x2="1171.0" y2="126.0" stroke="#f01c24" stroke-width="2.90"/>
<line x1="1171.0" y1="126.0" x2="1171.2" y2="116.1" stroke="#c80d14" stroke-width="6.438000000000001"/><line x1="1171.0" y1="126.0" x2="1171.2" y2="116.1" stroke="#f01c24" stroke-width="2.90"/><line x1="1171.2" y1="116.1" x2="1171.5" y2="106.2" stroke="#cf5cd3" stroke-width="6.438000000000001"/><line x1="1171.2" y1="116.1" x2="1171.5" y2="106.2" stroke="#ee82f0" stroke-width="2.90"/>
<line x1="1171.0" y1="126.0" x2="1162.3" y2="127.0" stroke="#c80d14" stroke-width="5.106"/><line x1="1171.0" y1="126.0" x2="1162.3" y2="127.0" stroke="#f01c24" stroke-width="2.30"/><line x1="1162.3" y1="127.0" x2="1153.7" y2="128.0" stroke="#d8d8d8" stroke-width="5.106"/><line x1="1162.3" y1="127.0" x2="1153.7" y2="128.0" stroke="#fafafa" stroke-width="2.30"/>
<line x1="1149.0" y1="161.5" x2="1149.3" y2="179.2" stroke="#c80d14" stroke-width="6.438000000000001"/><line x1="1149.0" y1="161.5" x2="1149.3" y2="179.2" stroke="#f01c24" stroke-width="2.90"/><line x1="1149.3" y1="179.2" x2="1149.7" y2="197.0" stroke="#cf5cd3" stroke-width="6.438000000000001"/><line x1="1149.3" y1="179.2" x2="1149.7" y2="197.0" stroke="#ee82f0" stroke-width="2.90"/>
<line x1="1096.1" y1="189.1" x2="1085.5" y2="196.3" stroke="#cf5cd3" stroke-width="6.438000000000001"/><line x1="1096.1" y1="189.1" x2="1085.5" y2="196.3" stroke="#ee82f0" stroke-width="2.90"/><line x1="1085.5" y1="196.3" x2="1075.0" y2="203.6" stroke="#c80d14" stroke-width="6.438000000000001"/><line x1="1085.5" y1="196.3" x2="1075.0" y2="203.6" stroke="#f01c24" stroke-width="2.90"/>
<line x1="1019.0" y1="126.0" x2="1019.5" y2="143.4" stroke="#c80d14" stroke-width="6.438000000000001"/><line x1="1019.0" y1="126.0" x2="1019.5" y2="143.4" stroke="#f01c24" stroke-width="2.90"/><line x1="1019.5" y1="143.4" x2="1020.0" y2="160.8" stroke="#cf5cd3" stroke-width="6.438000000000001"/><line x1="1019.5" y1="143.4" x2="1020.0" y2="160.8" stroke="#ee82f0" stroke-width="2.90"/>
<line x1="1020.0" y1="160.8" x2="1032.7" y2="160.4" stroke="#cf5cd3" stroke-width="6.438000000000001"/><line x1="1020.0" y1="160.8" x2="1032.7" y2="160.4" stroke="#ee82f0" stroke-width="2.90"/><line x1="1032.7" y1="160.4" x2="1045.3" y2="160.1" stroke="#c80d14" stroke-width="6.438000000000001"/><line x1="1032.7" y1="160.4" x2="1045.3" y2="160.1" stroke="#f01c24" stroke-width="2.90"/>
<line x1="1020.0" y1="160.8" x2="1019.5" y2="175.4" stroke="#cf5cd3" stroke-width="6.438000000000001"/><line x1="1020.0" y1="160.8" x2="1019.5" y2="175.4" stroke="#ee82f0" stroke-width="2.90"/><line x1="1019.5" y1="175.4" x2="1019.0" y2="190.0" stroke="#cf5cd3" stroke-width="6.438000000000001"/><line x1="1019.5" y1="175.4" x2="1019.0" y2="190.0" stroke="#ee82f0" stroke-width="2.90"/>
<line x1="1045.3" y1="160.1" x2="1045.7" y2="175.1" stroke="#c80d14" stroke-width="6.438000000000001"/><line x1="1045.3" y1="160.1" x2="1045.7" y2="175.1" stroke="#f01c24" stroke-width="2.90"/><line x1="1045.7" y1="175.1" x2="1046.0" y2="190.0" stroke="#cf5cd3" stroke-width="6.438000000000001"/><line x1="1045.7" y1="175.1" x2="1046.0" y2="190.0" stroke="#ee82f0" stroke-width="2.90"/>
<circle cx="1048.2" cy="48.2" r="6.49" fill="url(#gAl)"/>
<circle cx="1070.0" cy="55.5" r="6.83" fill="url(#gO)"/>
<circle cx="1095.3" cy="45.3" r="6.49" fill="url(#gAl)"/>
<circle cx="1122.6" cy="54.7" r="6.83" fill="url(#gO)"/>
<circle cx="1149.7" cy="47.5" r="6.49" fill="url(#gAl)"/>
<circle cx="1175.1" cy="41.0" r="6.83" fill="url(#gO)"/>
<circle cx="1040.0" cy="83.0" r="6.83" fill="url(#gO)"/>
<circle cx="1068.5" cy="86.9" r="6.49" fill="url(#gAl)"/>
<circle cx="1095.1" cy="86.4" r="6.83" fill="url(#gO)"/>
<circle cx="1123.2" cy="86.9" r="6.49" fill="url(#gAl)"/>
<circle cx="1151.2" cy="83.0" r="6.83" fill="url(#gO)"/>
<circle cx="1171.5" cy="106.2" r="6.49" fill="url(#gAl)"/>
<circle cx="1017.8" cy="104.0" r="6.49" fill="url(#gAl)"/>
<circle cx="1072.1" cy="115.9" r="6.83" fill="url(#gO)"/>
<circle cx="1122.9" cy="116.4" r="6.83" fill="url(#gO)"/>
<circle cx="1019.0" cy="126.0" r="6.83" fill="url(#gO)"/>
<circle cx="1010.5" cy="119.3" r="6.88" fill="url(#gH)"/>
<circle cx="1171.0" cy="126.0" r="6.83" fill="url(#gO)"/>
<circle cx="1153.7" cy="128.0" r="6.88" fill="url(#gH)"/>
<circle cx="1095.3" cy="136.1" r="6.49" fill="url(#gAl)"/>
<circle cx="1020.0" cy="160.8" r="6.49" fill="url(#gAl)"/>
<circle cx="1012.0" cy="160.8" r="6.77" fill="url(#gF)"/>
<circle cx="1045.3" cy="160.1" r="6.83" fill="url(#gO)"/>
<circle cx="1093.9" cy="155.0" r="6.83" fill="url(#gO)"/>
<circle cx="1106.9" cy="161.5" r="6.83" fill="url(#gO)"/>
<circle cx="1116.8" cy="181.1" r="7.05" fill="url(#gC)"/>
<circle cx="1126.5" cy="192.0" r="6.77" fill="url(#gF)"/>
<circle cx="1149.0" cy="161.5" r="6.83" fill="url(#gO)"/>
<circle cx="1183.1" cy="159.3" r="6.49" fill="url(#gAl)"/>
<circle cx="1173.6" cy="192.0" r="6.83" fill="url(#gO)"/>
<circle cx="1149.7" cy="197.0" r="6.49" fill="url(#gAl)"/>
<circle cx="1096.1" cy="189.1" r="6.49" fill="url(#gAl)"/>
<circle cx="1075.0" cy="203.6" r="6.83" fill="url(#gO)"/>
<circle cx="1046.0" cy="190.0" r="6.49" fill="url(#gAl)"/>
<circle cx="1019.0" cy="190.0" r="6.49" fill="url(#gAl)"/>
</g>
<rect x="1003.6" y="32.7" width="42.4" height="35.7" fill="#e7e6e6"/>
<text class="b" x="1014.2" y="58.6" font-size="21.5">(f)</text>
<rect x="1003.9" y="181.1" width="58.1" height="36.7" fill="#ffc000"/>
<text x="1015.0" y="206.6" font-size="21.3" textLength="34.2" lengthAdjust="spacingAndGlyphs">5 ps</text>
</g>
<rect x="231.9" y="241.1" width="178.1" height="24.7" fill="#00ffff"/>
<rect x="444.1" y="240.0" width="152.1" height="24.0" fill="#00ffff"/>
<rect x="611.3" y="241.3" width="189.7" height="24.2" fill="#00ffff"/>
<rect x="814" y="241.2" width="189.1" height="23.6" fill="#00ffff"/>
<text class="b" x="232.8" y="260.1" font-size="21.5" fill="#1767c2" textLength="176.4" lengthAdjust="spacingAndGlyphs">Vacancy formation</text>
<text class="b" x="445.6" y="258.6" font-size="21.5" fill="#1767c2" textLength="149.6" lengthAdjust="spacingAndGlyphs">Vacancy healing</text>
<text class="b" x="612.2" y="260.6" font-size="21.5" fill="#1767c2" textLength="188.6" lengthAdjust="spacingAndGlyphs">C-F1 bond breaking</text>
<text class="b" x="814.8" y="260.2" font-size="21.5" fill="#1767c2" textLength="188.2" lengthAdjust="spacingAndGlyphs">C-F2 bond breaking</text>
<path d="M319.1,221.4 H332.3 V231.4 H338.4 L325.7,242.8 L313.0,231.4 H319.1 Z" fill="#ffffff" stroke="#4472c4" stroke-width="2.7" stroke-linejoin="miter"/>
<path d="M512.4,221.4 H525.6 V231.4 H531.7 L519.0,242.8 L506.3,231.4 H512.4 Z" fill="#ffffff" stroke="#4472c4" stroke-width="2.7" stroke-linejoin="miter"/>
<path d="M703.6,221.4 H716.8 V231.4 H722.9 L710.2,242.8 L697.5,231.4 H703.6 Z" fill="#ffffff" stroke="#4472c4" stroke-width="2.7" stroke-linejoin="miter"/>
<path d="M897.8,221.4 H911.0 V231.4 H917.1 L904.4,242.8 L891.7,231.4 H897.8 Z" fill="#ffffff" stroke="#4472c4" stroke-width="2.7" stroke-linejoin="miter"/>
<line x1="28.5" y1="238" x2="28.5" y2="268.5" stroke="#ed7d31" stroke-width="0.9" stroke-dasharray="1.3,1.5"/>
<rect x="27.0" y="275.1" width="1.9" height="1.6" fill="#ed7d31"/>
<g id="plotg">
<clipPath id="clg"><rect x="49.0" y="290.8" width="557.2" height="308.4"/></clipPath>
<g clip-path="url(#clg)">
<polyline points="50.7,532.7 52.7,510.0 54.0,500.7 56.7,499.3 58.7,503.3 60.7,515.0 62.7,518.3 65.0,506.7 68.3,493.3 70.7,495.0 73.3,490.0 76.7,483.3 79.3,481.7 81.7,463.3 85.0,430.0 88.3,413.3 91.7,403.3 95.0,403.3 98.3,413.3 101.0,420.0 103.3,410.0 106.7,386.7 110.0,366.7 113.3,362.7 116.7,366.7 120.0,380.0 123.3,395.0 126.0,400.7 128.3,391.7 129.2,394.0 130.0,396.7 131.7,391.0 133.3,385.0 135.0,382.2 136.7,376.7 137.8,375.7 139.0,375.0 139.5,376.0 140.0,376.9 142.4,375.3 144.7,373.1 146.6,375.4 148.5,379.7 150.4,376.9 152.3,374.0 154.2,367.4 156.1,359.9 157.5,363.2 158.9,364.6 160.8,367.5 162.7,373.1 165.5,378.1 168.4,384.4 170.4,377.9 172.5,374.0 173.8,380.2 175.0,384.4 176.4,381.8 177.8,377.8 179.5,380.6 181.2,386.3 182.6,386.0 183.9,382.6 184.9,390.2 186.0,394.8 187.1,389.2 188.2,382.6 189.6,383.9 191.1,384.4 192.5,378.6 193.9,375.0 195.8,373.0 197.7,374.0 199.1,369.9 200.5,365.5 201.9,369.3 203.4,375.9 204.3,370.7 205.2,367.4 206.7,374.2 208.1,382.6 210.0,377.7 211.9,375.9 213.3,377.2 214.7,378.8 215.7,373.4 216.6,368.4 218.0,378.0 219.4,385.4 221.3,391.1 223.2,396.7 224.6,393.4 226.1,389.2 227.5,383.0 228.9,376.9 229.8,379.3 230.8,380.7 231.7,377.2 232.7,374.0 233.6,378.5 234.6,384.4 236.0,379.9 237.4,372.2 238.8,375.2 240.2,375.0 241.7,380.8 243.1,384.4 244.5,383.7 245.9,381.6 247.8,373.0 249.7,365.5 250.6,368.0 251.6,372.2 253.0,376.2 254.4,381.6 255.8,377.9 257.3,376.9 258.4,382.9 259.5,387.3 261.2,380.3 262.9,374.0 264.6,373.3 266.3,370.3 267.5,373.7 268.6,377.8 269.7,387.3 270.9,393.9 272.6,392.6 274.3,389.2 276.4,383.8 278.4,381.6 279.7,385.4 280.9,391.1 282.3,389.5 283.7,385.4 286.1,388.1 288.5,391.1 289.9,395.4 291.3,396.7 292.7,392.2 294.1,388.2 295.6,386.4 297.0,387.3 298.4,381.1 299.8,374.0 301.2,383.0 302.6,390.1 303.6,385.1 304.5,381.6 306.0,385.0 307.4,391.1 308.8,389.1 310.2,388.2 311.6,386.4 313.0,381.6 314.7,375.8 316.3,368.4 317.5,372.3 318.7,378.8 320.0,372.8 321.2,368.4 322.8,373.2 324.4,380.7 326.0,384.0 327.6,390.1 328.8,387.8 330.1,383.5 331.5,371.3 332.9,361.2 334.3,363.5 335.7,365.5 336.7,364.4 337.6,363.6 338.6,365.0 339.5,368.4 340.9,380.5 342.4,391.1 343.8,389.4 345.2,390.1 346.1,391.5 347.1,392.0 348.0,385.1 349.0,380.7 350.4,379.5 351.8,378.8 353.7,377.4 355.6,377.8 357.0,371.9 358.4,367.4 359.9,371.8 361.3,373.1 362.2,377.9 363.2,380.7 364.9,372.5 366.6,365.5 368.2,368.2 369.8,368.4 371.2,371.7 372.6,376.9 374.0,384.6 375.5,393.0 374.6,393.0 373.8,390.8 376.1,392.7 378.5,393.6 380.4,389.0 382.3,387.0 383.5,383.4 384.8,376.6 386.4,381.8 388.0,388.9 389.4,389.1 390.8,390.8 392.7,395.0 394.6,397.4 396.5,396.4 398.4,396.5 400.3,394.9 402.2,394.6 403.6,389.9 405.0,387.9 406.9,383.3 408.8,381.3 410.4,382.5 412.0,383.2 413.7,376.2 415.4,370.9 416.8,378.8 418.2,386.1 419.6,388.0 421.1,390.8 422.5,393.5 423.9,396.5 425.3,401.7 426.7,404.0 428.2,396.4 429.6,388.9 430.5,382.5 431.5,375.7 433.6,371.6 435.8,365.2 437.0,369.4 438.1,375.7 439.5,376.9 440.9,380.4 442.8,382.6 444.7,382.3 446.3,377.6 447.9,370.9 449.4,368.2 450.9,367.1 452.6,370.4 454.2,375.7 455.6,384.9 457.0,392.7 458.4,387.5 459.8,379.4 460.8,373.3 461.7,369.0 463.1,373.8 464.6,375.7 466.0,384.0 467.4,389.8 468.8,393.0 470.2,395.5 471.7,391.5 473.1,387.9 474.5,381.9 475.9,378.5 477.0,372.3 478.2,369.0 479.4,375.7 480.6,379.4 482.1,383.3 483.5,388.9 485.4,397.1 487.3,404.0 488.7,399.5 490.1,396.5 491.5,390.9 492.9,383.2 494.3,377.9 495.8,371.9 497.2,377.8 498.6,385.1 500.5,388.8 502.4,394.6 503.8,403.3 505.2,410.6 506.6,399.3 508.1,390.8 509.0,387.5 510.0,386.1 511.4,382.0 512.8,377.5 514.0,375.4 515.2,370.9 516.9,378.9 518.5,386.1 519.9,380.6 521.3,376.6 522.7,386.4 524.1,393.6 525.4,387.0 526.6,382.3 528.7,385.9 530.8,392.7 532.2,382.9 533.6,374.7 535.0,373.6 536.4,372.8 538.3,367.6 540.2,365.2 541.6,371.3 543.0,379.4 544.9,370.0 546.8,361.5 548.3,367.4 549.7,372.8 551.6,373.5 553.5,376.6 554.9,370.5 556.3,365.2 558.0,361.3 559.7,354.8 561.3,362.1 562.9,366.2 564.3,367.6 565.7,368.1 567.6,373.9 569.5,378.5 570.9,373.1 572.4,367.1 574.3,358.9 576.1,353.0 577.1,352.9 578.0,355.8 579.5,349.5 580.9,346.3 582.3,354.7 583.7,360.5 585.1,367.8 586.5,373.8 588.4,371.0 590.3,365.2 591.3,361.8 592.2,361.5 593.6,366.6 595.1,370.9 597.0,371.8 598.8,372.8 600.3,378.8 601.7,383.2 602.9,374.1 604.1,366.2 605.3,369.9 606.4,370.4" fill="none" stroke="#1f6fe0" stroke-width="3.0" stroke-linejoin="round" stroke-linecap="butt" />
<polyline points="49.0,567.2 50.2,574.3 51.5,577.2 52.8,579.6 54.0,577.2 55.2,576.7 56.5,578.0 57.8,579.8 59.0,571.4 60.2,576.4 61.5,579.6 62.8,579.2 64.0,572.4 65.2,578.0 66.5,579.1 67.8,574.7 69.0,575.5 70.2,571.8 71.5,574.8 72.8,575.2 74.0,567.3 75.2,575.7 76.5,581.0 77.8,579.3 79.0,577.0 80.2,571.9 81.5,577.1 82.8,574.8 84.0,572.7 85.2,578.7 86.5,567.4 87.8,577.4 89.0,566.5 90.2,575.1 91.5,573.3 92.8,569.6 94.0,576.6 95.2,573.6 96.5,575.3 97.8,579.9 99.0,569.9 100.2,566.3 101.5,570.6 102.8,576.3 104.0,569.1 105.2,568.6 106.5,579.7 107.8,576.0 109.0,572.7 110.2,579.5 111.5,571.0 112.8,576.1 114.0,569.1 115.2,572.6 116.5,578.2 117.8,579.8 119.0,579.3 120.2,572.4 121.5,574.5 122.8,571.7 124.0,569.8 125.2,573.6 126.5,577.1 127.8,577.2 129.0,575.8 130.2,578.3 131.5,571.3 132.8,570.2 134.0,573.1 135.2,571.3 136.5,570.6 137.8,572.7 139.0,574.9 140.2,573.5 141.5,571.7 142.8,577.1 144.0,578.6 145.2,573.1 146.5,569.2 147.8,568.7 149.0,577.5 150.2,568.8 151.5,575.8 152.8,574.3 154.0,571.6 155.2,576.6 156.5,568.6 157.8,569.8 159.0,573.1 160.2,568.7 161.5,577.0 162.8,570.9 164.0,569.9 165.2,568.9 166.5,574.9 167.8,573.0 169.0,575.0 170.2,575.2 171.5,576.8 172.8,578.4 174.0,575.5 175.2,570.5 176.5,573.3 177.8,570.3 179.0,568.5 180.2,573.3 181.5,575.8 182.8,570.3 184.0,571.2 185.2,572.0 186.5,575.7 187.8,573.8 189.0,574.8 190.2,576.3 191.5,572.5 192.8,576.6 194.0,577.8 195.2,569.3 196.5,578.1 197.8,575.9 199.0,569.8 200.2,573.0 201.5,575.2 202.8,578.7 204.0,572.1 205.2,574.5 206.5,578.3 207.8,577.3 209.0,579.1 210.2,573.1 211.5,575.5 212.8,569.9 214.0,576.4 215.2,577.5 216.5,575.4 217.8,576.3 219.0,570.0 220.2,578.6 221.5,579.6 222.8,579.5 224.0,574.1 225.2,577.2 226.5,571.4 227.8,578.7 229.0,578.0 230.2,571.7 231.5,568.4 232.8,572.9 234.0,574.2 235.2,576.9 236.5,573.4 237.8,567.8 239.0,577.4 240.2,568.2 241.5,577.3 242.8,569.5 244.0,571.6 245.2,577.2 246.5,569.1 247.8,569.2 249.0,573.8 250.2,576.4 250.8,577.8 251.4,575.9 252.0,578.7 252.6,572.2 253.2,571.1 253.8,566.1 254.4,562.8 255.0,561.3 255.6,561.5 256.2,565.5 256.8,569.0 257.4,571.7 258.1,577.1 258.7,574.1 259.3,571.2 259.9,572.0 260.5,577.4 261.1,577.0 261.7,568.9 262.3,566.2 262.9,562.5 263.5,560.2 264.1,562.3 264.7,565.7 265.3,570.1 265.9,572.3 266.5,574.5 267.1,566.7 267.7,575.2 268.3,571.1 269.5,570.1 270.8,573.7 272.0,571.6 273.3,570.9 274.5,572.7 275.8,567.1 277.0,571.3 278.3,570.2 279.5,575.1 280.8,574.8 282.0,568.9 283.3,570.8 284.5,567.6 285.8,570.4 287.0,573.8 288.3,574.6 289.5,570.8 290.8,569.4 292.0,568.2 293.3,572.1 294.5,574.8 295.8,567.7 297.0,573.5 298.3,566.7 299.5,568.2 300.8,568.5 302.0,572.7 303.3,569.4 304.5,569.7 305.8,572.1 307.0,567.4 308.3,573.1 309.5,567.6 310.8,571.1 312.0,568.8 313.3,568.3 314.5,571.3 315.8,570.4 317.0,569.9 318.3,570.2 319.5,571.3 320.8,567.9 322.0,568.3 323.3,572.2 324.5,572.2 325.8,571.3 327.0,574.2 328.3,572.0 329.5,574.2 330.8,568.6 332.0,573.2 333.3,573.8 334.5,574.6 335.8,569.3 337.0,569.3 338.3,574.8 339.5,568.5 340.8,575.5 342.0,574.5 343.3,567.7 344.5,568.7 345.8,573.0 347.0,568.8 348.3,567.4 349.5,574.0 350.8,570.3 352.0,573.6 353.3,567.6 354.5,570.1 355.8,572.7 357.0,566.7 358.3,568.3 359.5,572.6 360.8,574.7 362.0,575.2 363.3,567.5 364.5,571.1 365.8,573.3 367.0,571.0 368.3,572.7 369.5,568.2 370.8,567.1 372.0,567.5 373.3,566.8 374.5,571.5 375.8,571.1 377.0,571.6 378.3,567.8 379.5,568.2 380.8,568.3 382.0,574.1 383.3,575.4 384.5,574.8 385.8,567.4 387.0,567.1 388.3,575.1 389.5,570.7 390.8,573.4 392.0,569.4 393.3,570.7 394.5,571.1 395.8,570.4 397.0,571.9 398.3,566.6 399.5,572.8 400.8,574.1 402.0,568.1 403.3,570.6 404.5,573.2 405.8,570.1 407.0,568.3 408.3,568.0 409.5,571.1 410.9,571.3 415.0,561.8 416.8,557.8 419.1,550.9 420.6,540.7 421.8,529.1 424.1,518.6 425.9,507.3 427.2,504.9 428.6,501.8 430.0,500.8 431.4,496.4 432.9,487.3 434.1,480.0 435.7,487.7 436.8,493.6 438.3,487.3 439.5,478.6 440.8,483.5 442.3,485.4 444.3,474.6 445.8,462.3 447.6,474.8 449.1,485.4 450.4,479.4 451.8,471.8 454.0,479.4 456.7,488.2 459.0,478.2 461.4,471.8 463.3,471.6 465.4,470.4 466.9,472.9 468.2,477.3 470.1,473.8 471.4,469.1 473.1,477.8 475.0,485.4 476.4,486.2 477.7,486.8 479.0,496.1 480.4,501.8 481.9,501.9 483.2,500.4 484.3,506.3 485.1,508.6 486.6,499.5 488.6,489.5 490.1,497.5 491.4,507.3 492.7,505.0 494.1,505.9 495.9,514.3 498.2,523.6 499.3,523.4 500.9,525.0 502.8,535.7 504.2,546.0 505.9,541.3 507.7,533.2 509.1,530.2 510.4,523.6 511.2,509.7 511.8,493.6 512.9,498.1 514.5,501.8 516.1,495.4 517.3,492.3 519.6,491.0 521.3,492.3 523.4,483.6 525.4,477.3 528.2,472.2 530.9,466.4 533.4,457.1 536.3,444.5 538.3,437.8 540.4,430.9 541.5,425.0 542.3,420.0 543.5,414.6 545.0,408.0 546.3,403.2 547.5,400.0 548.7,397.0 549.7,395.5 550.6,396.3 552.0,399.0 553.0,400.8 554.5,405.0 555.9,404.1 557.0,404.0 558.7,406.9 560.0,408.0 561.2,412.8 563.0,414.0 564.3,415.5 565.0,420.0 566.2,426.7 567.0,434.0 568.0,441.0 569.1,444.5 569.8,440.3 570.8,436.0 571.9,430.8 572.5,424.0 573.2,418.7 574.0,410.0 575.2,404.5 576.1,398.3 577.8,388.8 580.0,378.5 581.8,371.3 583.7,366.2 585.3,363.5 587.5,360.5 589.2,357.4 591.3,354.8 593.3,346.1 595.0,337.8 595.9,333.4 597.0,328.4 598.4,322.3 599.8,314.2 600.9,312.4 602.0,307.0 603.3,305.7 604.1,302.8 604.9,298.0 606.0,296.0" fill="none" stroke="#4d4d4d" stroke-width="2.8" stroke-linejoin="round" stroke-linecap="butt" />
<polyline points="49.0,577.3 50.0,576.6 51.0,575.6 52.0,573.9 53.0,573.3 54.0,576.0 55.0,575.2 56.0,575.4 57.0,575.7 58.0,576.4 59.0,572.8 60.0,573.2 61.0,577.9 62.0,577.5 63.0,577.2 64.0,571.9 65.0,572.0 66.0,573.3 67.0,574.3 68.0,575.6 69.0,572.3 70.0,575.1 71.0,572.1 72.0,572.2 73.0,575.9 74.0,575.1 75.0,575.6 76.0,574.0 77.0,574.7 78.0,572.9 79.0,573.8 80.0,576.4 81.0,577.0 82.0,572.1 83.0,572.4 84.0,576.8 85.0,575.6 86.0,576.5 87.0,573.0 88.0,574.3 89.0,573.3 90.0,576.8 91.0,574.0 92.0,575.8 93.0,577.9 94.0,573.7 95.0,575.1 96.0,576.4 97.0,577.5 98.0,574.3 99.0,574.0 100.0,572.2 101.0,577.2 102.0,572.1 103.0,572.1 104.0,575.2 105.0,574.7 106.0,576.0 107.0,573.5 108.0,576.6 109.0,572.1 110.0,573.0 111.0,575.8 112.0,572.1 113.0,573.5 114.0,576.2 115.0,576.0 116.0,573.4 117.0,572.5 118.0,573.9 119.0,576.2 120.0,573.9 121.0,572.4 122.0,576.1 123.0,575.2 124.0,577.5 125.0,577.6 126.0,577.4 127.0,574.4 128.0,576.7 129.0,573.6 130.0,573.6 131.0,574.2 132.0,577.6 133.0,577.3 134.0,573.2 135.0,573.9 136.0,573.9 137.0,573.9 138.0,574.1 139.0,574.1 140.0,572.8 141.0,575.2 142.0,576.7 143.0,575.1 144.0,577.0 145.0,575.2 146.0,572.7 147.0,576.5 148.0,577.2 149.0,573.4 150.0,571.7 151.0,574.9 152.0,575.1 153.0,575.2 154.0,577.8 155.0,575.8 156.0,576.7 157.0,572.0 158.0,575.1 159.0,576.6 160.0,572.1 161.0,572.1 162.0,576.3 163.0,577.4 164.0,572.1 165.0,575.7 166.0,572.5 167.0,576.4 168.0,575.8 169.0,573.2 170.0,573.0 171.0,576.5 172.0,574.9 173.0,576.5 174.0,574.1 175.0,573.8 176.0,577.8 177.0,575.9 178.0,574.8 179.0,575.0 180.0,576.2 181.0,576.1 182.0,577.5 183.0,574.2 184.0,576.9 185.0,575.9 186.0,577.1 187.0,576.8 188.0,576.9 189.0,577.3 190.0,577.7 191.0,575.7 192.0,575.0 193.0,576.1 194.0,576.7 195.0,574.3 196.0,574.3 197.0,572.5 198.0,576.3 199.0,577.9 200.0,574.0 201.0,572.7 202.0,572.9 203.0,574.3 204.0,573.5 205.0,577.8 206.0,572.0 207.0,573.6 208.0,572.3 209.0,575.7 210.0,576.6 211.0,572.7 212.0,572.0 213.0,574.5 214.0,575.3 215.0,577.4 216.0,571.8 217.0,572.3 218.0,572.8 219.0,573.0 220.0,573.1 221.0,576.2 222.0,575.4 223.0,573.0 224.0,572.8 225.0,573.4 226.0,572.7 227.0,576.4 228.0,573.6 229.0,575.1 230.0,576.8 231.0,574.7 232.0,573.3 233.0,577.3 234.0,577.5 235.0,573.8 236.0,575.1 237.0,577.7 238.0,574.7 239.0,573.0 240.0,571.9 241.0,577.7 242.0,576.7 243.0,574.1 244.0,575.0 245.0,574.9 246.0,573.4 247.0,577.9 248.0,575.8 249.0,573.1 250.0,571.7 250.6,574.6 251.1,574.0 251.7,576.7 252.2,576.2 252.8,575.5 253.3,573.5 253.9,573.3 254.4,574.1 255.0,573.6 255.5,577.9 256.1,575.3 256.6,576.4 257.2,579.8 257.7,572.9 258.3,575.6 258.8,571.3 259.4,578.4 259.9,569.1 260.5,579.4 261.0,579.9 261.6,579.8 262.1,569.0 262.7,571.7 263.2,578.7 263.8,568.5 264.3,574.9 264.9,574.6 265.4,583.4 266.0,576.8 266.5,581.6 267.1,571.7 267.6,580.4 268.2,573.7 268.7,582.7 269.3,567.8 269.8,581.1 270.4,570.0 270.9,576.0 271.5,575.7 272.0,569.0 272.6,581.2 273.1,571.8 273.7,571.8 274.2,567.6 274.8,571.7 275.3,574.6 275.9,579.1 276.4,572.7 277.0,578.6 277.5,568.1 278.1,573.3 278.6,574.5 279.2,583.6 279.7,581.1 280.3,578.0 280.8,566.4 281.4,573.0 281.9,579.0 282.5,570.5 283.0,576.4 283.6,574.4 284.1,566.4 284.7,584.0 285.2,580.6 285.8,569.9 286.3,577.3 286.9,571.4 287.4,573.0 288.0,575.9 288.5,571.6 289.1,572.3 289.6,573.3 290.2,578.2 290.7,570.8 291.3,569.8 291.8,579.4 292.4,572.1 292.9,583.2 293.5,576.3 294.0,579.2 294.6,572.2 295.1,581.1 295.7,567.9 296.2,568.7 296.8,567.9 297.3,578.4 297.9,578.9 298.4,569.4 299.0,573.4 299.5,581.3 300.1,577.2 300.6,570.8 301.2,572.5 301.7,571.6 302.3,571.2 302.8,574.8 303.4,570.6 303.9,581.3 304.5,575.1 305.0,576.1 305.6,577.9 306.1,579.4 306.7,580.1 307.2,574.6 307.8,573.9 308.3,574.9 308.9,569.9 309.4,574.7 310.0,578.5 310.5,582.1 311.1,579.6 311.6,578.0 312.2,577.4 312.7,570.0 313.3,573.9 313.8,574.0 314.4,577.9 314.9,571.1 315.5,574.5 316.0,576.1 316.6,579.6 317.1,580.0 317.7,577.4 318.2,571.8 318.8,579.3 319.3,581.0 319.9,576.6 320.4,574.2 321.0,576.0 321.5,571.6 322.1,578.6 322.6,582.0 323.2,576.2 323.7,578.6 324.3,580.1 324.8,572.3 325.4,581.5 325.9,577.6 326.5,572.3 327.0,570.9 327.6,572.9 328.1,576.9 328.7,578.4 329.2,573.9 329.8,581.2 330.3,574.3 330.9,575.6 331.4,571.4 332.0,581.7 332.5,571.6 333.1,580.9 333.6,576.5 334.2,576.7 334.7,576.7 335.3,573.2 335.8,580.9 336.4,581.9 336.9,579.8 337.5,577.2 338.0,571.5 338.6,579.9 339.1,573.5 339.7,580.7 340.2,572.9 340.8,576.9 341.3,579.9 341.9,572.3 342.4,576.6 343.0,571.0 343.5,570.4 344.1,572.2 344.6,581.8 345.2,581.2 345.7,577.9 346.3,573.7 346.8,578.0 347.4,578.8 347.9,574.6 348.5,577.1 349.0,579.6 349.6,570.3 350.1,572.5 350.7,575.6 351.2,571.8 351.8,574.7 352.3,576.8 352.9,572.2 353.4,576.2 354.0,573.2 354.5,576.8 355.1,574.0 355.6,577.6 356.2,570.6 356.7,578.0 357.3,571.9 357.8,581.3 358.4,577.2 358.9,575.7 359.5,575.0 360.0,577.4 360.6,578.2 361.1,579.0 361.7,578.9 362.2,575.8 362.8,581.7 363.3,579.9 363.9,580.1 364.4,575.0 365.0,575.2 365.5,576.8 366.1,580.6 366.6,576.3 367.2,576.3 367.7,575.2 368.3,580.6 368.8,574.0 369.4,571.0 369.9,578.5 370.5,580.5 371.0,578.6 371.6,577.1 372.1,578.8 372.7,573.8 373.2,577.0 373.8,571.2 374.3,571.8 374.9,575.4 375.4,576.0 376.0,574.8 376.5,571.0 377.1,578.2 377.6,576.3 378.2,573.1 378.7,573.8 379.3,574.8 379.8,573.1 380.4,571.2 380.9,580.6 381.5,581.2 382.0,577.8 382.6,580.0 383.1,575.1 383.7,579.4 384.2,572.9 384.8,578.7 385.3,576.7 385.9,580.4 386.4,571.6 387.0,579.2 387.5,571.9 388.1,576.4 388.6,580.9 389.2,570.6 389.7,573.2 390.3,573.8 390.8,574.1 391.4,571.3 391.9,580.3 392.5,579.4 393.0,574.9 393.6,574.5 394.1,576.9 394.7,571.1 395.2,571.0 395.8,580.3 396.3,573.9 396.9,576.0 397.4,580.6 398.0,581.1 398.5,575.7 399.1,572.9 399.6,573.8 400.2,580.5 400.7,580.2 401.3,572.8 401.8,579.6 402.4,574.5 402.9,575.7 403.5,572.5 404.0,580.0 404.6,581.2 405.1,572.9 405.7,577.4 406.2,572.8 406.8,580.0 407.3,571.3 407.9,571.9 408.4,578.4 409.0,574.0 409.5,580.2 410.1,579.9 410.6,578.2 411.2,572.2 411.7,578.0 412.3,582.1 412.8,578.8 413.4,576.4 413.9,577.4 414.5,577.9 415.0,580.6 415.6,577.2 416.1,577.1 416.7,577.5 417.2,580.3 417.8,581.1 418.3,578.4 418.9,580.3 419.4,581.7 420.0,579.8 420.5,577.4 421.1,577.9 421.6,582.0 422.2,580.3 422.7,577.7 423.3,580.1 423.8,576.5 424.4,582.4 424.9,578.8 425.5,579.4 426.0,579.4 426.6,576.2 427.1,579.9 427.7,577.8 428.2,577.6 428.8,581.2 429.3,576.5 429.9,577.8 430.4,580.9 431.0,577.5 431.5,577.7 432.1,579.5 432.6,577.1 433.2,581.8 433.7,582.4 434.3,576.1 434.8,578.9 435.4,580.9 435.9,578.4 436.5,582.0 437.0,579.2 437.6,577.1 438.1,579.6 438.7,580.2 439.2,578.3 439.8,580.2 440.3,581.1 440.9,579.3 441.4,579.2 442.0,581.5 442.5,580.4 443.1,579.3 443.6,582.2 444.2,577.0 444.7,581.0 445.3,577.0 445.8,579.9 446.4,577.5 446.9,578.8 447.5,581.0 448.0,581.1 448.6,581.1 449.1,577.5 449.7,579.1 450.2,577.4 450.8,579.7 451.3,579.2 451.9,576.1 452.4,579.8 453.0,580.6 453.5,579.7 454.1,581.7 454.6,577.1 455.2,576.9 455.7,576.0 456.3,579.2 456.8,578.8 457.4,578.8 457.9,577.6 458.5,581.2 459.0,576.4 459.6,581.9 460.1,579.7 460.7,579.5 461.2,581.1 461.8,577.5 462.3,576.9 462.9,578.0 463.4,576.2 464.0,578.0 464.5,580.0 465.1,579.4 465.6,577.6 466.2,579.8 466.7,576.5 467.3,581.3 467.8,577.0 468.4,577.6 468.9,577.0 469.5,580.5 470.0,581.4 470.6,581.1 471.1,576.3 471.7,578.6 472.2,578.3 472.8,577.3 473.3,582.3 473.9,576.2 474.4,579.1 475.0,580.9 475.5,582.4 476.1,576.9 476.6,578.9 477.2,580.8 477.7,576.2 478.3,577.5 478.8,581.8 479.4,576.8 479.9,578.5 480.5,577.9 481.0,578.7 481.6,576.4 482.1,576.1 482.7,582.5 483.2,580.9 483.8,580.7 484.3,577.4 484.9,577.6 485.4,579.5 486.0,577.5 486.5,578.9 487.1,582.1 487.6,578.3 488.2,578.1 488.7,582.4 489.3,579.9 489.8,576.2 490.4,578.6 490.9,580.2 491.5,576.3 492.0,578.2 492.6,580.5 493.1,581.6 493.7,579.8 494.2,581.8 494.8,579.0 495.3,578.5 495.9,581.5 496.4,578.4 497.0,581.1 497.5,577.3 498.1,578.2 498.6,577.1 499.2,579.5 499.7,577.0 500.3,577.2 500.8,577.3 501.4,579.0 501.9,577.9 502.5,578.9 503.0,582.5 503.6,580.4 504.1,581.6 504.7,577.3 505.2,578.4 505.8,576.4 506.3,580.5 506.9,578.3 507.4,577.7 508.0,576.0 508.5,577.1 509.1,577.6 509.6,578.5 510.2,582.0 510.7,580.6 511.3,577.7 511.8,578.3 512.4,576.9 512.9,582.1 513.5,578.3 514.0,581.0 514.6,580.7 515.1,581.9 515.7,576.0 516.2,578.0 516.8,578.4 517.3,576.4 517.9,581.7 518.4,578.0 519.0,581.0 519.5,579.3 520.1,576.3 520.6,578.5 521.2,577.5 521.7,576.2 522.3,576.9 522.8,579.8 523.4,576.1 523.9,578.0 524.5,578.7 525.0,579.5 525.6,576.8 526.1,580.6 526.7,577.6 527.2,580.7 527.8,580.3 528.3,576.9 528.9,577.3 529.4,577.8 530.0,580.6 530.5,578.6 531.1,578.5 531.6,581.6 532.2,577.4 532.7,577.8 533.3,578.2 533.8,577.3 534.4,576.2 534.9,576.1 535.5,580.1 536.0,579.6 536.6,581.2 537.1,582.3 537.7,577.9 538.2,580.3 538.8,582.0 539.3,577.3 539.9,580.4 540.4,580.3 541.0,582.2 541.5,581.6 542.1,577.4 542.6,580.1 543.2,576.5 543.7,578.7 544.3,578.5 544.8,576.3 545.4,578.4 545.9,578.1 546.5,579.2 547.0,577.7 547.6,576.9 548.1,578.6 548.7,579.0 549.2,577.0 549.8,580.3 550.3,577.5 550.9,576.5 551.4,578.2 552.0,578.7 552.5,576.9 553.1,579.7 553.6,580.5 554.2,579.6 554.7,580.5 555.3,576.1 555.8,578.5 556.4,578.3 556.9,576.3 557.5,578.6 558.0,576.3 558.6,579.2 559.1,579.8 559.7,579.0 560.2,576.8 560.8,576.2 561.3,574.4 561.9,577.0 562.4,581.3 563.0,578.7 563.5,576.3 564.1,579.5 564.6,575.7 565.2,578.0 565.7,579.1 566.3,581.8 566.8,577.1 567.4,578.8 567.9,581.7 568.5,580.4 569.0,579.2 569.6,579.2 570.1,577.5 570.7,577.5 571.2,576.4 571.8,580.8 572.3,581.2 572.9,577.3 574.5,572.0 577.3,561.8 581.3,534.5 585.4,501.8 588.2,480.0 592.3,447.3 594.0,441.0 596.3,437.0 598.0,428.0 600.2,419.9 601.7,398.3 604.1,383.2 606.0,371.0" fill="none" stroke="#ee3a3e" stroke-width="2.8" stroke-linejoin="round" stroke-linecap="butt" />
</g>
<rect x="45.9" y="288.7" width="5.1" height="315.0" fill="#000"/>
<rect x="604.0" y="288.7" width="4.5" height="315.0" fill="#000"/>
<rect x="43.2" y="288.7" width="565.3" height="4.3" fill="#000"/>
<rect x="43.2" y="597.0" width="565.3" height="4.6" fill="#000"/>
<line x1="43.2" y1="599.2" x2="47" y2="599.2" stroke="#000" stroke-width="3.4"/>
<text class="b" x="40.2" y="605.8" font-size="20.8" text-anchor="end">1</text>
<line x1="43.2" y1="537.5" x2="47" y2="537.5" stroke="#000" stroke-width="3.4"/>
<text class="b" x="40.2" y="544.1" font-size="20.8" text-anchor="end">2</text>
<line x1="43.2" y1="475.8" x2="47" y2="475.8" stroke="#000" stroke-width="3.4"/>
<text class="b" x="40.2" y="482.4" font-size="20.8" text-anchor="end">3</text>
<line x1="43.2" y1="414.2" x2="47" y2="414.2" stroke="#000" stroke-width="3.4"/>
<text class="b" x="40.2" y="420.8" font-size="20.8" text-anchor="end">4</text>
<line x1="43.2" y1="352.5" x2="47" y2="352.5" stroke="#000" stroke-width="3.4"/>
<text class="b" x="40.2" y="359.1" font-size="20.8" text-anchor="end">5</text>
<line x1="43.2" y1="290.8" x2="47" y2="290.8" stroke="#000" stroke-width="3.4"/>
<text class="b" x="40.2" y="297.4" font-size="20.8" text-anchor="end">6</text>
<line x1="49.0" y1="601" x2="49.0" y2="603.7" stroke="#000" stroke-width="3.6"/>
<text class="b" x="49.0" y="623.6" font-size="20.8" text-anchor="middle">0</text>
<line x1="160.4" y1="601" x2="160.4" y2="603.7" stroke="#000" stroke-width="3.6"/>
<text class="b" x="160.4" y="623.6" font-size="20.8" text-anchor="middle">1</text>
<line x1="271.9" y1="601" x2="271.9" y2="603.7" stroke="#000" stroke-width="3.6"/>
<text class="b" x="271.9" y="623.6" font-size="20.8" text-anchor="middle">2</text>
<line x1="383.3" y1="601" x2="383.3" y2="603.7" stroke="#000" stroke-width="3.6"/>
<text class="b" x="383.3" y="623.6" font-size="20.8" text-anchor="middle">3</text>
<line x1="494.8" y1="601" x2="494.8" y2="603.7" stroke="#000" stroke-width="3.6"/>
<text class="b" x="494.8" y="623.6" font-size="20.8" text-anchor="middle">4</text>
<line x1="606.2" y1="601" x2="606.2" y2="603.7" stroke="#000" stroke-width="3.6"/>
<text class="b" x="607.0" y="623.6" font-size="20.8" text-anchor="middle">5</text>
<text class="b" x="284.8" y="645.6" font-size="21" textLength="85.5" lengthAdjust="spacingAndGlyphs">Time (ps)</text>
<text class="b" transform="translate(21.4,486.3) rotate(-90)" font-size="21" textLength="83.5" lengthAdjust="spacingAndGlyphs">Bond (Å)</text>
<text class="b" x="61.5" y="315.4" font-size="21">(g)</text>
<line x1="274" y1="313.7" x2="324" y2="313.7" stroke="#1f6fe0" stroke-width="2.7"/>
<text class="b" x="328.8" y="320.3" font-size="21" textLength="44.5" lengthAdjust="spacingAndGlyphs">Al-O</text>
<line x1="377.8" y1="313.7" x2="427.6" y2="313.7" stroke="#4d4d4d" stroke-width="2.7"/>
<text class="b" x="433.2" y="320.3" font-size="21" textLength="44.2" lengthAdjust="spacingAndGlyphs">C-F1</text>
<line x1="482.6" y1="313.7" x2="533" y2="313.7" stroke="#ee3a3e" stroke-width="2.7"/>
<text class="b" x="538" y="320.3" font-size="21" textLength="44.2" lengthAdjust="spacingAndGlyphs">C-F2</text>
<line x1="126.5" y1="429.6" x2="108.8" y2="422.3" stroke="#7030a0" stroke-width="2.3"/>
<path d="M101.4,419.2 L116.2,418.3 L108.8,422.3 L111.2,430.3 Z" fill="#7030a0"/>
<text class="b" x="130.7" y="436.7" font-size="21" textLength="62" lengthAdjust="spacingAndGlyphs">0.48 ps</text>
<line x1="90.8" y1="525.2" x2="70.3" y2="519.4" stroke="#7030a0" stroke-width="2.3"/>
<path d="M62.6,517.2 L77.2,514.6 L70.3,519.4 L73.6,527.1 Z" fill="#7030a0"/>
<text class="b" x="93.4" y="531.7" font-size="21" textLength="62" lengthAdjust="spacingAndGlyphs">0.12 ps</text>
<line x1="387.9" y1="549.4" x2="402.8" y2="563.3" stroke="#7030a0" stroke-width="2.3"/>
<path d="M408.6,568.8 L394.5,564.4 L402.8,563.3 L403.3,555.0 Z" fill="#7030a0"/>
<text class="b" x="330.3" y="544.8" font-size="21" textLength="62" lengthAdjust="spacingAndGlyphs">3.22 ps</text>
<line x1="551.3" y1="542.7" x2="566.6" y2="562.5" stroke="#7030a0" stroke-width="2.3"/>
<path d="M571.5,568.8 L558.2,562.3 L566.6,562.5 L568.5,554.3 Z" fill="#7030a0"/>
<text class="b" x="518.1" y="539.2" font-size="21" textLength="62" lengthAdjust="spacingAndGlyphs">4.73 ps</text>
</g>
<g id="ploth">
<clipPath id="clr"><rect x="747" y="354.2" width="49.9" height="237.5"/></clipPath>
<polyline points="636.8,588.7 638.1,588.7 639.4,588.7 640.7,588.8 642.0,588.7 643.3,588.8 644.6,588.4 645.9,588.6 647.2,588.8 648.5,588.7 649.8,588.8 651.1,588.4 652.4,588.6 653.7,588.5 655.0,588.6 656.3,588.6 657.6,588.4 658.9,588.5 660.2,588.5 661.5,588.8 662.8,588.7 664.1,588.4 665.4,588.7 666.7,588.4 668.0,588.7 669.3,588.4 670.6,588.4 671.9,588.8 673.2,588.5 674.5,588.5 675.8,588.8 677.1,588.8 678.4,588.5 679.7,588.8 681.0,588.6 682.3,588.7 683.6,588.5 684.9,588.8 686.2,588.7 687.5,588.8 688.8,588.8 690.1,588.5 691.4,588.5 692.7,588.4 694.0,588.4 695.3,588.4 696.6,588.5 697.9,588.7 699.2,588.4 700.5,588.7 701.8,588.5 703.1,588.5 704.4,588.7 705.7,588.6 707.0,588.5 708.3,588.6 709.6,588.7 710.9,588.3 712.2,588.8 713.5,588.3 714.8,588.7 716.1,588.7 717.4,588.3 718.7,588.7 720.0,588.5 721.3,588.6 722.6,588.3 723.9,588.3 725.2,588.4 726.5,588.8 727.8,588.4 729.1,588.7 730.4,588.7 731.7,588.7 733.0,588.4 734.3,588.4 735.6,588.5 736.9,588.6 738.2,588.3 739.5,588.6 740.8,588.6 742.1,588.7 743.4,588.3 744.7,588.7 746.0,588.3 747.3,588.4 748.6,588.5 749.9,588.7 751.2,588.4 752.5,588.7 753.8,588.5 755.1,588.4 756.4,588.4 757.7,588.3 759.0,588.2 760.3,588.3 761.6,588.5 762.9,588.7 764.2,588.3 765.5,588.2 766.8,588.7 768.1,588.4 769.4,588.4 770.7,588.3 772.0,588.5 773.3,588.6 774.6,588.4 775.9,588.4 777.2,588.2 778.5,588.6 779.8,588.2 781.1,588.4 782.4,588.5 783.7,588.2 785.0,588.5 786.3,588.6 787.6,588.4 788.9,588.5 790.2,588.2 791.5,588.3 792.8,588.2 794.1,588.5 795.4,588.2 796.7,588.3 798.0,588.6 799.3,588.5 800.6,588.6 801.9,588.3 803.2,588.3 804.5,588.4 805.8,588.3 807.1,588.2 808.4,588.3 809.7,588.1 811.0,588.2 812.3,588.5 813.6,588.5 814.9,588.4 816.2,588.3 817.5,588.2 818.8,588.1 820.1,588.2 821.4,588.4 822.7,588.5 824.0,588.2 825.3,588.4 826.6,588.4 827.9,588.4 829.2,588.3 830.5,588.4 831.8,588.2 833.1,588.3 834.4,588.1 835.7,588.2 837.0,588.4 838.3,588.3 839.6,588.1 840.9,588.4 842.2,588.3 843.5,588.3 844.8,588.0 846.1,588.2 847.4,588.1 848.7,588.3 850.0,588.2 851.3,588.4 852.6,588.3 853.9,588.3 855.2,588.1 856.5,588.3 857.8,588.3 859.1,588.4 860.4,588.1 861.7,588.4 863.0,588.4 864.3,588.3 865.6,588.4 866.9,588.4 868.2,588.2 869.5,588.2 870.8,588.0 872.1,588.4 873.4,588.4 874.7,588.2 876.0,588.3 877.3,588.3 878.6,588.3 879.9,588.0 881.2,588.3 882.5,588.2 883.8,588.3 885.1,588.2 886.4,588.3 887.7,588.3 889.0,588.3 890.3,588.3 891.6,588.0 892.9,588.0 894.2,588.2 895.5,588.3 896.8,588.1 898.1,588.3 899.4,588.3 900.7,588.0 902.0,588.2 903.3,588.1 904.6,588.0 905.9,588.0 907.2,588.1 908.5,588.0 909.8,588.0 911.1,588.0 912.4,588.2 913.7,588.1 915.0,588.3 916.3,588.2 917.6,588.1 918.9,588.4 920.2,588.0 921.5,588.2 922.8,588.1 924.1,588.2 925.4,588.0 926.7,588.4 928.0,588.1 929.3,588.0 930.6,588.3 931.9,588.0 933.2,588.2 934.5,588.1 935.8,588.2 937.1,588.4 938.4,588.4 939.7,588.2 941.0,588.4 942.3,588.3 943.6,588.1 944.9,588.0 946.2,588.2 947.5,588.2 948.8,588.4 950.1,588.4 951.4,588.3 952.7,588.1" fill="none" stroke="#ff5050" stroke-width="3.1" stroke-linejoin="round" stroke-linecap="butt" />
<polyline points="963.8,588.8 965.0,588.3 966.2,588.4 967.4,588.6 968.6,588.7 969.8,588.4 971.0,588.7 972.2,588.8 973.4,588.5 974.6,588.6 975.8,588.4 977.0,588.5 978.2,588.9 979.4,588.5 980.6,588.9 981.8,588.8 983.0,588.7 984.2,588.5 985.4,588.9 986.6,588.6 987.8,588.5 989.0,588.5 990.2,588.9 991.4,588.6 992.6,588.5 993.8,588.6 995.0,588.4 996.2,588.7 997.4,588.6 998.6,588.5 999.8,588.8 1001.0,588.8 1002.2,588.3 1003.4,588.6 1004.6,588.5 1005.8,588.9 1007.0,588.8 1008.2,588.4 1009.4,588.5 1010.6,588.4 1011.8,588.9 1013.0,588.5 1014.2,588.7 1015.4,588.6 1016.6,588.7 1017.8,588.7 1019.0,588.7 1020.2,588.4 1021.4,588.8 1022.6,588.5 1023.8,588.6 1025.0,588.5 1026.2,588.5 1027.4,588.6 1028.6,588.6 1029.8,588.5 1031.0,588.7 1032.2,588.7 1033.4,588.3 1034.6,588.5 1035.8,588.6 1037.0,588.8 1038.2,588.8 1039.4,588.6 1040.6,588.3 1041.8,588.8 1043.0,588.6 1044.2,588.6 1045.4,588.7 1046.6,588.7 1047.8,588.6 1049.0,588.8 1050.2,588.5 1051.4,588.5 1052.6,588.7 1053.8,588.1 1055.0,587.9 1056.2,588.1 1057.4,587.5 1058.6,587.9 1059.8,587.8 1061.0,587.7 1062.2,587.8 1063.4,588.3 1064.6,588.6 1065.8,588.3 1067.0,588.6 1068.2,588.6 1069.4,588.6 1070.6,588.5 1071.8,588.4 1073.0,588.7 1074.2,588.8 1075.4,588.3 1076.6,588.4 1077.8,588.8 1079.0,588.8 1080.2,588.7 1081.4,588.3 1082.6,588.7 1083.8,588.9 1085.0,588.9 1086.2,588.7 1087.4,588.3 1088.6,588.8 1089.8,588.4 1091.0,588.7 1092.2,588.9 1093.4,588.7 1094.6,588.4 1095.8,588.5 1097.0,588.9 1098.2,588.4 1099.4,588.7 1099.9,588.5 1100.4,588.4 1100.9,588.7 1101.4,588.3 1101.9,588.4 1102.4,588.5 1102.9,588.3 1103.4,588.3 1103.9,588.6 1104.4,588.7 1104.9,588.8 1105.4,588.4 1105.9,588.6 1106.4,588.5 1106.9,588.7 1107.4,588.6 1107.9,588.9 1108.4,588.5 1108.9,588.3 1109.4,588.7 1109.9,588.4 1110.4,588.7 1110.9,588.6 1111.4,588.8 1111.9,588.6 1112.4,588.7 1112.9,588.5 1113.4,588.6 1113.9,588.5 1114.4,588.8 1114.9,588.6 1115.4,588.4 1115.9,588.4 1116.4,588.5 1116.9,588.7 1117.4,588.4 1117.9,588.7 1118.4,588.7 1118.9,588.4 1119.4,588.7 1119.9,588.4 1120.4,588.4 1120.9,588.7 1121.4,588.4 1121.9,588.8 1122.4,588.6 1122.9,588.5 1123.4,588.8 1124.6,588.3 1125.8,588.7 1127.0,588.3 1128.2,588.4 1129.4,588.9 1130.6,588.7 1131.8,588.4 1133.0,588.4 1134.2,588.9 1135.4,589.3 1136.6,589.4 1137.8,589.0 1139.0,589.3 1140.7,589.0 1142.4,588.8 1144.1,588.9 1145.8,589.4 1147.5,588.9 1149.2,588.9 1150.9,588.3 1152.6,590.1 1154.3,589.7 1156.0,590.2 1157.7,589.0 1159.4,590.6 1161.1,589.3 1162.8,589.6 1164.5,589.5 1166.2,590.4 1167.9,588.6 1169.6,586.9 1171.3,586.4 1173.0,587.3 1174.7,586.2 1176.4,591.9 1178.1,589.1 1179.8,591.1 1181.5,585.3 1183.2,589.0 1184.9,592.5 1186.6,590.2 1188.3,588.6 1190.0,588.9" fill="none" stroke="#ff5050" stroke-width="3.1" stroke-linejoin="round" stroke-linecap="butt" />
<polyline points="636.8,579.3 638.1,579.3 639.4,579.3 640.7,579.4 642.0,579.4 643.3,579.7 644.6,579.3 645.9,579.4 647.2,579.4 648.5,579.3 649.8,579.4 651.1,579.4 652.4,579.5 653.7,579.3 655.0,579.7 656.3,579.4 657.6,579.7 658.9,579.6 660.2,579.6 661.5,579.5 662.8,579.7 664.1,579.3 665.4,579.6 666.7,579.4 668.0,579.6 669.3,579.6 670.6,579.3 671.9,579.4 673.2,579.3 674.5,579.4 675.8,579.3 677.1,579.5 678.4,579.7 679.7,579.4 681.0,579.4 682.3,579.5 683.6,579.4 684.9,579.6 686.2,579.6 687.5,579.3 688.8,579.4 690.1,579.6 691.4,579.7 692.7,579.6 694.0,579.5 695.3,579.7 696.6,579.3 697.9,579.3 699.2,579.6 700.5,579.5 701.8,579.3 703.1,579.5 704.4,579.8 705.7,579.5 707.0,579.4 708.3,579.3 709.6,579.3 710.9,579.7 712.2,579.5 713.5,579.8 714.8,579.3 716.1,579.4 717.4,579.3 718.7,579.5 720.0,579.3 721.3,579.5 722.6,579.5 723.9,579.5 725.2,579.4 726.5,579.4 727.8,579.9 729.1,579.5 730.4,579.7 731.7,579.6 733.0,579.7 734.3,579.5 735.6,579.6 736.9,579.6 738.2,579.8 739.5,580.0 740.8,579.9 742.1,580.0 743.4,579.7 744.7,579.6 746.0,579.9 747.3,579.9 748.6,580.0 749.9,579.9 751.2,580.0 752.5,580.1 753.8,580.2 755.1,579.9 756.4,580.0 757.7,580.2 759.0,579.9 760.3,579.8 761.6,579.9 762.9,579.8 764.2,580.1 765.5,580.1 766.8,579.8 768.1,579.7 769.4,579.6 770.7,579.7 772.0,579.7 773.3,579.9 774.6,580.0 775.9,579.8 777.2,579.8 778.5,580.1 779.8,579.8 781.1,579.9 782.4,580.0 783.7,580.0 785.0,579.9 786.3,580.0 787.6,580.0 788.9,580.2 790.2,580.1 791.5,580.2 792.8,580.1 794.1,580.1 795.4,580.0 796.7,579.9 798.0,580.1 799.3,580.0 800.6,580.1 801.9,580.0 803.2,580.0 804.5,579.7 805.8,580.0 807.1,579.8 808.4,579.7 809.7,579.6 811.0,579.7 812.3,579.7 813.6,579.9 814.9,579.7 816.2,579.6 817.5,580.0 818.8,579.9 820.1,579.6 821.4,579.6 822.7,579.7 824.0,579.8 825.3,580.1 826.6,580.1 827.9,580.0 829.2,579.8 830.5,579.9 831.8,579.9 833.1,579.9 834.4,579.7 835.7,580.0 837.0,580.1 838.3,580.1 839.6,579.8 840.9,580.0 842.2,579.8 843.5,580.1 844.8,580.0 846.1,580.2 847.4,580.1 848.7,579.8 850.0,579.9 851.3,580.2 852.6,580.0 853.9,580.0 855.2,580.0 856.5,580.1 857.8,580.2 859.1,580.0 860.4,580.2 861.7,580.0 863.0,579.8 864.3,580.2 865.6,580.0 866.9,579.8 868.2,580.2 869.5,579.8 870.8,580.0 872.1,580.0 873.4,580.2 874.7,579.9 876.0,579.9 877.3,579.9 878.6,579.9 879.9,580.0 881.2,579.9 882.5,580.1 883.8,579.9 885.1,579.9 886.4,579.9 887.7,580.2 889.0,580.2 890.3,580.2 891.6,580.1 892.9,580.0 894.2,579.8 895.5,580.2 896.8,580.0 898.1,579.8 899.4,579.8 900.7,579.8 902.0,580.1 903.3,580.2 904.6,579.8 905.9,580.1 907.2,579.9 908.5,580.1 909.8,580.2 911.1,580.1 912.4,580.2 913.7,579.9 915.0,579.8 916.3,580.0 917.6,580.0 918.9,579.8 920.2,579.9 921.5,579.9 922.8,579.8 924.1,579.9 925.4,579.9 926.7,580.0 928.0,580.1 929.3,579.9 930.6,580.2 931.9,580.2 933.2,580.2 934.5,580.1 935.8,580.1 937.1,580.0 938.4,580.1 939.7,579.9 941.0,580.0 942.3,580.1 943.6,580.0 944.9,579.9 946.2,579.8 947.5,579.8 948.8,579.9 950.1,580.0 951.4,580.1 952.7,580.1" fill="none" stroke="#3d9bff" stroke-width="3.2" stroke-linejoin="round" stroke-linecap="butt" />
<polyline points="963.8,579.4 965.0,579.8 966.2,579.4 967.4,579.6 968.6,579.2 969.8,579.7 971.0,579.6 972.2,579.8 973.4,579.7 974.6,579.6 975.8,579.7 977.0,579.6 978.2,579.6 979.4,579.3 980.6,579.5 981.8,579.7 983.0,579.3 984.2,579.8 985.4,579.5 986.6,579.4 987.8,579.2 989.0,579.4 990.2,579.3 991.4,579.6 992.6,579.7 993.8,579.7 995.0,579.6 996.2,579.4 997.4,579.3 998.6,579.6 999.8,579.5 1001.0,579.6 1002.2,579.4 1003.4,579.7 1004.6,579.3 1005.8,579.4 1007.0,579.4 1008.2,579.6 1009.4,579.7 1010.6,579.3 1011.8,579.6 1013.0,579.7 1014.2,579.3 1015.4,579.2 1016.6,579.5 1017.8,579.7 1019.0,579.7 1020.2,579.6 1021.4,579.5 1022.6,579.5 1023.8,579.5 1025.0,579.7 1026.2,579.4 1027.4,579.4 1028.6,579.6 1029.8,579.8 1031.0,579.3 1032.2,579.2 1033.4,579.3 1034.6,579.5 1035.8,579.6 1037.0,579.3 1038.2,579.3 1039.4,579.6 1040.6,579.6 1041.8,579.6 1043.0,579.6 1044.2,579.2 1045.4,579.5 1046.6,579.7 1047.8,579.8 1049.0,579.4 1050.2,579.7 1051.4,579.6 1052.6,579.6 1053.8,579.0 1055.0,579.1 1056.2,579.0 1057.4,578.6 1058.6,578.4 1059.8,578.4 1061.0,578.5 1062.2,578.6 1063.4,578.8 1064.6,579.3 1065.8,579.2 1067.0,579.7 1068.2,579.6 1069.4,579.7 1070.6,579.7 1071.8,579.6 1073.0,579.8 1074.2,579.8 1075.4,579.6 1076.6,579.8 1077.8,579.3 1079.0,579.3 1080.2,579.2 1081.4,579.3 1082.6,579.4 1083.8,579.5 1085.0,579.6 1086.2,579.6 1087.4,579.3 1088.6,579.4 1089.8,579.5 1091.0,579.4 1092.2,579.3 1093.4,579.6 1094.6,579.4 1095.8,579.6 1097.0,579.5 1098.2,579.8 1099.4,579.8 1099.9,579.2 1100.4,579.7 1100.9,579.6 1101.4,579.4 1101.9,579.3 1102.4,579.5 1102.9,579.4 1103.4,579.6 1103.9,579.6 1104.4,579.2 1104.9,578.9 1105.4,578.7 1105.9,578.4 1106.4,577.8 1106.9,576.9 1107.4,575.8 1107.9,574.7 1108.4,573.9 1108.9,572.7 1109.4,571.7 1109.9,571.4 1110.4,571.1 1110.9,571.4 1111.4,571.0 1111.9,571.2 1112.4,571.3 1112.9,571.8 1113.4,572.5 1113.9,572.7 1114.4,573.1 1114.9,574.0 1115.4,573.9 1115.9,574.6 1116.4,575.3 1116.9,575.3 1117.4,576.1 1117.9,576.2 1118.4,576.3 1118.9,576.8 1119.4,577.2 1119.9,577.4 1120.4,577.7 1120.9,577.6 1121.4,577.8 1121.9,578.4 1122.4,578.3 1122.9,578.4 1123.4,578.3 1124.6,578.6 1125.8,579.1 1127.0,579.1 1128.2,579.1 1129.4,578.9 1130.6,579.1 1131.8,579.4 1133.0,579.2 1134.2,579.3 1135.4,580.2 1136.6,580.0 1137.8,580.0 1139.0,579.5 1140.7,579.4 1142.4,580.4 1144.1,579.8 1145.8,580.7 1147.5,580.7 1149.2,581.0 1150.9,579.7 1152.6,581.5 1154.3,580.9 1156.0,581.4 1157.7,578.7 1159.4,581.2 1161.1,579.7 1162.8,582.3 1164.5,582.6 1166.2,578.5 1167.9,579.6 1169.6,578.7 1171.3,579.9 1173.0,578.6 1174.7,581.2 1176.4,577.3 1178.1,577.5 1179.8,579.7 1181.5,576.5 1183.2,579.0 1184.9,583.7 1186.6,583.7 1188.3,577.1 1190.0,575.2" fill="none" stroke="#3d9bff" stroke-width="3.2" stroke-linejoin="round" stroke-linecap="butt" />
<polyline points="636.8,567.2 638.1,567.2 639.4,567.0 640.7,566.8 642.0,566.9 643.3,567.2 644.6,567.2 645.9,566.8 647.2,566.8 648.5,567.0 649.8,566.9 651.1,567.1 652.4,566.9 653.7,567.1 655.0,566.8 656.3,567.0 657.6,567.2 658.9,567.1 660.2,566.8 661.5,566.8 662.8,567.1 664.1,566.9 665.4,566.9 666.7,567.0 668.0,567.0 669.3,567.2 670.6,566.9 671.9,567.0 673.2,566.9 674.5,567.0 675.8,567.1 677.1,566.8 678.4,567.0 679.7,567.1 681.0,566.8 682.3,567.1 683.6,567.0 684.9,567.0 686.2,567.1 687.5,567.1 688.8,566.8 690.1,567.0 691.4,566.8 692.7,566.9 694.0,566.9 695.3,566.8 696.6,566.9 697.9,567.0 699.2,567.1 700.5,567.2 701.8,566.9 703.1,567.0 704.4,567.1 705.7,567.2 707.0,567.3 708.3,567.3 709.6,567.0 710.9,566.9 712.2,567.3 713.5,566.9 714.8,567.1 716.1,567.2 717.4,567.1 718.7,567.0 720.0,567.3 721.3,567.0 722.6,567.2 723.9,567.4 725.2,567.1 726.5,567.2 727.8,567.3 729.1,567.4 730.4,567.3 731.7,567.5 733.0,567.4 734.3,567.5 735.6,567.7 736.9,567.7 738.2,568.2 739.5,568.0 740.8,568.1 742.1,568.4 743.4,568.5 744.7,568.3 746.0,568.7 747.3,568.7 748.6,568.6 749.9,568.8 751.2,568.7 752.5,568.7 753.8,569.1 755.1,568.9 756.4,569.2 757.7,568.8 759.0,568.8 760.3,568.7 761.6,569.0 762.9,568.8 764.2,568.3 765.5,568.2 766.8,568.4 768.1,568.1 769.4,568.2 770.7,567.8 772.0,568.2 773.3,568.1 774.6,568.5 775.9,568.7 777.2,568.9 778.5,568.9 779.8,569.4 781.1,569.0 782.4,569.0 783.7,569.3 785.0,569.0 786.3,568.9 787.6,569.0 788.9,569.0 790.2,569.0 791.5,568.8 792.8,568.3 794.1,568.4 795.4,568.4 796.7,567.9 798.0,568.1 799.3,567.7 800.6,567.6 801.9,567.4 803.2,567.7 804.5,567.6 805.8,567.8 807.1,567.5 808.4,567.3 809.7,567.3 811.0,567.3 812.3,567.6 813.6,567.2 814.9,567.1 816.2,567.3 817.5,567.1 818.8,567.3 820.1,567.4 821.4,567.5 822.7,567.3 824.0,567.3 825.3,567.5 826.6,567.6 827.9,567.6 829.2,567.7 830.5,567.9 831.8,567.5 833.1,567.6 834.4,567.7 835.7,567.7 837.0,567.9 838.3,567.8 839.6,567.8 840.9,567.7 842.2,567.9 843.5,567.9 844.8,567.7 846.1,567.6 847.4,567.7 848.7,567.7 850.0,568.0 851.3,567.7 852.6,567.9 853.9,567.9 855.2,568.0 856.5,567.6 857.8,567.9 859.1,567.7 860.4,567.6 861.7,567.9 863.0,568.0 864.3,567.8 865.6,567.6 866.9,568.0 868.2,567.7 869.5,567.9 870.8,567.9 872.1,567.7 873.4,567.8 874.7,567.7 876.0,567.6 877.3,567.6 878.6,567.9 879.9,567.8 881.2,568.0 882.5,567.6 883.8,567.7 885.1,567.6 886.4,568.0 887.7,567.9 889.0,568.0 890.3,567.8 891.6,567.6 892.9,567.8 894.2,567.7 895.5,567.6 896.8,567.8 898.1,567.7 899.4,567.6 900.7,567.8 902.0,568.0 903.3,568.0 904.6,567.8 905.9,567.6 907.2,567.9 908.5,567.6 909.8,567.8 911.1,567.6 912.4,568.0 913.7,567.8 915.0,567.8 916.3,567.7 917.6,567.8 918.9,568.0 920.2,567.8 921.5,567.7 922.8,567.8 924.1,568.0 925.4,567.7 926.7,567.9 928.0,568.0 929.3,567.7 930.6,568.0 931.9,567.8 933.2,567.6 934.5,567.6 935.8,568.0 937.1,567.8 938.4,567.8 939.7,568.0 941.0,567.8 942.3,567.8 943.6,567.7 944.9,567.9 946.2,567.7 947.5,567.8 948.8,567.9 950.1,567.9 951.4,567.6 952.7,567.7" fill="none" stroke="#b452f2" stroke-width="3.2" stroke-linejoin="round" stroke-linecap="butt" />
<polyline points="963.8,567.1 965.0,567.1 966.2,566.8 967.4,567.3 968.6,566.8 969.8,566.8 971.0,566.8 972.2,567.0 973.4,567.1 974.6,567.2 975.8,566.8 977.0,567.1 978.2,566.8 979.4,567.0 980.6,566.9 981.8,566.9 983.0,566.7 984.2,567.1 985.4,566.8 986.6,567.2 987.8,566.9 989.0,567.1 990.2,567.1 991.4,567.0 992.6,567.2 993.8,567.3 995.0,566.9 996.2,566.9 997.4,567.2 998.6,566.8 999.8,567.0 1001.0,566.9 1002.2,567.3 1003.4,566.8 1004.6,567.1 1005.8,567.2 1007.0,567.1 1008.2,566.7 1009.4,567.3 1010.6,566.9 1011.8,567.2 1013.0,567.1 1014.2,567.0 1015.4,567.2 1016.6,567.1 1017.8,566.9 1019.0,567.1 1020.2,567.0 1021.4,567.1 1022.6,567.1 1023.8,567.2 1025.0,566.8 1026.2,567.0 1027.4,566.7 1028.6,567.2 1029.8,567.2 1031.0,567.2 1032.2,566.7 1033.4,567.0 1034.6,567.0 1035.8,566.8 1037.0,566.8 1038.2,567.3 1039.4,567.2 1040.6,566.8 1041.8,567.2 1043.0,567.1 1044.2,566.9 1045.4,567.1 1046.6,566.8 1047.8,566.9 1049.0,566.7 1050.2,567.1 1051.4,567.0 1052.6,567.0 1053.8,566.6 1055.0,566.4 1056.2,566.2 1057.4,566.3 1058.6,566.0 1059.8,566.2 1061.0,566.3 1062.2,566.3 1063.4,566.6 1064.6,566.5 1065.8,566.8 1067.0,567.2 1068.2,566.8 1069.4,566.7 1070.6,566.7 1071.8,567.2 1073.0,566.8 1074.2,567.0 1075.4,567.0 1076.6,567.2 1077.8,567.0 1079.0,567.0 1080.2,566.7 1081.4,567.2 1082.6,567.2 1083.8,567.1 1085.0,567.2 1086.2,567.1 1087.4,567.1 1088.6,567.2 1089.8,567.1 1091.0,566.7 1092.2,567.2 1093.4,567.3 1094.6,566.8 1095.8,566.7 1097.0,566.9 1098.2,566.8 1099.4,566.9 1099.9,566.8 1100.4,566.8 1100.9,566.7 1101.4,566.9 1101.9,566.8 1102.4,567.0 1102.9,566.7 1103.4,566.3 1103.9,566.3 1104.4,565.5 1104.9,564.1 1105.4,561.7 1105.9,558.6 1106.4,554.3 1106.9,548.5 1107.4,541.1 1107.9,533.1 1108.4,524.6 1108.9,516.1 1109.4,509.0 1109.9,503.9 1110.4,501.7 1110.9,501.7 1111.4,501.8 1111.9,501.7 1112.4,502.5 1112.9,504.8 1113.4,507.8 1113.9,511.4 1114.4,515.2 1114.9,519.0 1115.4,522.8 1115.9,526.8 1116.4,530.5 1116.9,534.2 1117.4,537.5 1117.9,540.1 1118.4,543.0 1118.9,545.7 1119.4,547.6 1119.9,549.5 1120.4,551.6 1120.9,553.0 1121.4,554.3 1121.9,555.7 1122.4,556.6 1122.9,557.7 1123.4,558.8 1124.6,560.3 1125.8,561.5 1127.0,562.8 1128.2,563.8 1129.4,564.3 1130.6,564.4 1131.8,565.1 1133.0,564.8 1134.2,565.1 1135.4,565.8 1136.6,565.9 1137.8,566.4 1139.0,566.7 1140.7,566.5 1142.4,567.1 1144.1,566.7 1145.8,567.7 1147.5,567.2 1149.2,567.1 1150.9,566.1 1152.6,566.8 1154.3,566.9 1156.0,568.4 1157.7,566.1 1159.4,566.3 1161.1,568.8 1162.8,565.1 1164.5,567.5 1166.2,565.7 1167.9,568.3 1169.6,567.9 1171.3,564.6 1173.0,569.0 1174.7,566.7 1176.4,566.0 1178.1,570.4 1179.8,569.8 1181.5,565.7 1183.2,569.1 1184.9,563.7 1186.6,567.6 1188.3,563.0 1190.0,569.0" fill="none" stroke="#b452f2" stroke-width="3.2" stroke-linejoin="round" stroke-linecap="butt" />
<polyline points="636.8,536.5 638.1,536.4 639.4,536.1 640.7,536.3 642.0,536.3 643.3,536.3 644.6,536.1 645.9,536.2 647.2,536.3 648.5,536.1 649.8,536.4 651.1,536.2 652.4,536.2 653.7,536.1 655.0,536.2 656.3,536.5 657.6,536.2 658.9,536.1 660.2,536.2 661.5,536.5 662.8,536.1 664.1,536.2 665.4,536.2 666.7,536.4 668.0,536.3 669.3,536.1 670.6,536.5 671.9,536.2 673.2,536.4 674.5,536.3 675.8,536.5 677.1,536.1 678.4,536.2 679.7,536.2 681.0,536.2 682.3,536.5 683.6,536.3 684.9,536.2 686.2,536.3 687.5,536.5 688.8,536.3 690.1,536.3 691.4,536.4 692.7,536.4 694.0,536.3 695.3,536.3 696.6,536.1 697.9,536.3 699.2,536.5 700.5,536.2 701.8,536.3 703.1,536.4 704.4,536.4 705.7,536.2 707.0,536.4 708.3,536.5 709.6,536.2 710.9,536.2 712.2,536.6 713.5,536.7 714.8,536.3 716.1,536.3 717.4,536.6 718.7,536.4 720.0,536.6 721.3,536.4 722.6,536.6 723.9,536.5 725.2,536.7 726.5,537.0 727.8,537.0 729.1,537.3 730.4,537.4 731.7,537.5 733.0,537.7 734.3,537.5 735.6,537.9 736.9,537.9 738.2,538.3 739.5,538.2 740.8,538.7 742.1,538.6 743.4,539.0 744.7,539.3 746.0,539.4 747.3,539.3 748.6,539.6 749.9,539.8 751.2,539.5 752.5,539.9 753.8,540.0 755.1,539.9 756.4,539.9 757.7,539.9 759.0,540.0 760.3,540.2 761.6,539.8 762.9,539.5 764.2,539.3 765.5,539.0 766.8,538.8 768.1,538.5 769.4,538.3 770.7,538.2 772.0,538.7 773.3,538.9 774.6,539.0 775.9,539.5 777.2,539.9 778.5,540.2 779.8,540.6 781.1,540.7 782.4,540.4 783.7,540.4 785.0,540.5 786.3,540.1 787.6,540.4 788.9,539.7 790.2,539.8 791.5,539.4 792.8,539.3 794.1,538.8 795.4,538.6 796.7,538.8 798.0,538.5 799.3,538.0 800.6,537.9 801.9,537.6 803.2,537.5 804.5,537.5 805.8,537.9 807.1,537.5 808.4,537.4 809.7,537.2 811.0,537.2 812.3,537.6 813.6,537.4 814.9,537.5 816.2,537.5 817.5,537.4 818.8,537.2 820.1,537.2 821.4,537.3 822.7,537.2 824.0,537.4 825.3,537.7 826.6,537.7 827.9,537.5 829.2,537.8 830.5,538.1 831.8,538.1 833.1,538.1 834.4,538.1 835.7,538.2 837.0,538.1 838.3,538.0 839.6,538.1 840.9,538.0 842.2,537.9 843.5,538.0 844.8,538.1 846.1,538.0 847.4,538.0 848.7,538.1 850.0,538.1 851.3,538.4 852.6,538.2 853.9,538.4 855.2,538.3 856.5,538.2 857.8,538.1 859.1,538.1 860.4,538.1 861.7,538.3 863.0,538.4 864.3,538.3 865.6,538.1 866.9,538.0 868.2,538.0 869.5,538.2 870.8,538.1 872.1,538.0 873.4,538.1 874.7,538.1 876.0,538.1 877.3,538.3 878.6,538.2 879.9,538.1 881.2,538.3 882.5,538.1 883.8,538.4 885.1,538.0 886.4,538.2 887.7,538.3 889.0,538.3 890.3,538.2 891.6,538.4 892.9,538.3 894.2,538.3 895.5,538.0 896.8,538.0 898.1,538.2 899.4,538.2 900.7,538.0 902.0,538.3 903.3,538.1 904.6,538.2 905.9,538.2 907.2,538.4 908.5,538.1 909.8,538.2 911.1,538.3 912.4,538.3 913.7,538.1 915.0,538.1 916.3,538.2 917.6,538.3 918.9,538.3 920.2,538.0 921.5,538.2 922.8,538.2 924.1,538.0 925.4,538.0 926.7,538.4 928.0,538.0 929.3,538.2 930.6,538.1 931.9,538.0 933.2,538.1 934.5,538.0 935.8,538.2 937.1,538.4 938.4,538.0 939.7,538.1 941.0,538.3 942.3,538.3 943.6,538.0 944.9,538.1 946.2,538.1 947.5,538.4 948.8,538.2 950.1,538.1 951.4,538.2 952.7,538.2" fill="none" stroke="#98dc98" stroke-width="3.1" stroke-linejoin="round" stroke-linecap="butt" />
<polyline points="963.8,536.1 965.0,536.4 966.2,536.4 967.4,536.3 968.6,536.3 969.8,536.5 971.0,536.6 972.2,536.4 973.4,536.0 974.6,536.3 975.8,536.4 977.0,536.2 978.2,536.4 979.4,536.2 980.6,536.4 981.8,536.4 983.0,536.4 984.2,536.6 985.4,536.4 986.6,536.4 987.8,536.4 989.0,536.1 990.2,536.4 991.4,536.4 992.6,536.0 993.8,536.5 995.0,536.1 996.2,536.3 997.4,536.3 998.6,536.4 999.8,536.5 1001.0,536.3 1002.2,536.6 1003.4,536.3 1004.6,536.3 1005.8,536.6 1007.0,536.2 1008.2,536.4 1009.4,536.6 1010.6,536.1 1011.8,536.5 1013.0,536.4 1014.2,536.3 1015.4,536.5 1016.6,536.5 1017.8,536.1 1019.0,536.3 1020.2,536.4 1021.4,536.4 1022.6,536.6 1023.8,536.5 1025.0,536.5 1026.2,536.0 1027.4,536.3 1028.6,536.5 1029.8,536.6 1031.0,536.5 1032.2,536.2 1033.4,536.5 1034.6,536.3 1035.8,536.4 1037.0,536.4 1038.2,536.5 1039.4,536.4 1040.6,536.6 1041.8,536.3 1043.0,536.3 1044.2,536.4 1045.4,536.3 1046.6,536.0 1047.8,536.6 1049.0,536.2 1050.2,536.3 1051.4,536.0 1052.6,536.0 1053.8,536.2 1055.0,535.6 1056.2,535.5 1057.4,535.6 1058.6,535.2 1059.8,535.5 1061.0,535.5 1062.2,535.9 1063.4,535.8 1064.6,535.9 1065.8,536.1 1067.0,536.2 1068.2,536.0 1069.4,536.1 1070.6,536.1 1071.8,536.2 1073.0,536.5 1074.2,536.6 1075.4,536.2 1076.6,536.1 1077.8,536.2 1079.0,536.4 1080.2,536.3 1081.4,536.1 1082.6,536.3 1083.8,536.2 1085.0,536.1 1086.2,536.5 1087.4,536.1 1088.6,536.3 1089.8,536.5 1091.0,536.3 1092.2,536.5 1093.4,536.2 1094.6,536.6 1095.8,536.0 1097.0,536.5 1098.2,536.3 1099.4,536.0 1099.9,536.2 1100.4,536.6 1100.9,536.4 1101.4,536.4 1101.9,536.5 1102.4,536.0 1102.9,536.2 1103.4,536.2 1103.9,536.4 1104.4,536.2 1104.9,535.3 1105.4,535.0 1105.9,533.1 1106.4,530.3 1106.9,525.8 1107.4,519.7 1107.9,510.9 1108.4,499.8 1108.9,486.9 1109.4,473.9 1109.9,461.3 1110.4,451.9 1110.9,447.4 1111.4,449.1 1111.9,459.7 1112.4,468.6 1112.9,471.8 1113.4,472.2 1113.9,473.1 1114.4,475.2 1114.9,477.8 1115.4,481.0 1115.9,484.4 1116.4,488.0 1116.9,491.7 1117.4,495.5 1117.9,499.2 1118.4,502.8 1118.9,505.8 1119.4,509.2 1119.9,511.7 1120.4,514.2 1120.9,516.5 1121.4,518.6 1121.9,520.3 1122.4,522.3 1122.9,523.6 1123.4,524.6 1124.6,527.2 1125.8,529.6 1127.0,530.8 1128.2,531.7 1129.4,532.8 1130.6,533.0 1131.8,533.9 1133.0,534.3 1134.2,534.4 1135.4,534.9 1136.6,535.3 1137.8,535.7 1139.0,535.7 1140.7,535.4 1142.4,535.5 1144.1,535.4 1145.8,536.1 1147.5,535.6 1149.2,536.1 1150.9,537.2 1152.6,537.3 1154.3,536.4 1156.0,537.2 1157.7,535.4 1159.4,537.9 1161.1,537.8 1162.8,536.5 1164.5,538.1 1166.2,535.8 1167.9,538.7 1169.6,535.8 1171.3,538.7 1173.0,538.3 1174.7,538.9 1176.4,537.9 1178.1,534.3 1179.8,535.4 1181.5,537.7 1183.2,539.3 1184.9,537.9 1186.6,533.6 1188.3,535.7 1190.0,535.6" fill="none" stroke="#98dc98" stroke-width="3.1" stroke-linejoin="round" stroke-linecap="butt" />
<polyline points="636.8,486.2 638.1,486.3 639.4,486.4 640.7,486.3 642.0,486.3 643.3,486.4 644.6,486.6 645.9,486.4 647.2,486.5 648.5,486.6 649.8,486.2 651.1,486.6 652.4,486.2 653.7,486.2 655.0,486.5 656.3,486.5 657.6,486.5 658.9,486.4 660.2,486.5 661.5,486.4 662.8,486.2 664.1,486.3 665.4,486.2 666.7,486.2 668.0,486.6 669.3,486.6 670.6,486.3 671.9,486.4 673.2,486.3 674.5,486.5 675.8,486.4 677.1,486.2 678.4,486.6 679.7,486.6 681.0,486.2 682.3,486.4 683.6,486.3 684.9,486.5 686.2,486.3 687.5,486.3 688.8,486.3 690.1,486.5 691.4,486.4 692.7,486.4 694.0,486.5 695.3,486.4 696.6,486.6 697.9,486.4 699.2,486.5 700.5,486.6 701.8,486.5 703.1,486.5 704.4,486.6 705.7,486.6 707.0,486.4 708.3,486.5 709.6,486.4 710.9,486.3 712.2,486.7 713.5,486.5 714.8,486.5 716.1,486.4 717.4,486.4 718.7,486.8 720.0,486.7 721.3,486.8 722.6,487.0 723.9,487.2 725.2,487.2 726.5,487.2 727.8,487.7 729.1,487.6 730.4,488.0 731.7,488.3 733.0,488.4 734.3,489.0 735.6,489.1 736.9,489.5 738.2,489.5 739.5,490.2 740.8,490.2 742.1,490.7 743.4,491.1 744.7,491.1 746.0,491.4 747.3,491.7 748.6,492.2 749.9,492.3 751.2,492.4 752.5,492.6 753.8,492.8 755.1,492.7 756.4,492.7 757.7,492.8 759.0,493.1 760.3,493.0 761.6,492.8 762.9,492.2 764.2,491.7 765.5,491.2 766.8,490.4 768.1,490.0 769.4,489.8 770.7,489.8 772.0,490.2 773.3,490.5 774.6,490.9 775.9,492.0 777.2,492.5 778.5,493.2 779.8,493.6 781.1,493.8 782.4,493.8 783.7,493.5 785.0,493.4 786.3,493.4 787.6,492.9 788.9,492.5 790.2,492.4 791.5,491.9 792.8,491.4 794.1,490.8 795.4,490.2 796.7,490.0 798.0,489.3 799.3,489.1 800.6,488.8 801.9,488.3 803.2,488.0 804.5,488.2 805.8,488.2 807.1,488.0 808.4,488.1 809.7,487.6 811.0,487.7 812.3,487.5 813.6,487.5 814.9,487.3 816.2,487.2 817.5,487.4 818.8,487.4 820.1,487.6 821.4,487.5 822.7,487.6 824.0,487.8 825.3,487.9 826.6,488.0 827.9,488.1 829.2,488.5 830.5,488.4 831.8,488.3 833.1,488.4 834.4,488.5 835.7,488.7 837.0,488.7 838.3,488.6 839.6,488.8 840.9,488.6 842.2,488.6 843.5,488.8 844.8,488.8 846.1,488.7 847.4,489.0 848.7,488.5 850.0,488.8 851.3,489.0 852.6,489.0 853.9,488.6 855.2,489.0 856.5,488.8 857.8,489.0 859.1,488.7 860.4,488.9 861.7,488.9 863.0,489.0 864.3,488.7 865.6,488.7 866.9,488.6 868.2,488.9 869.5,488.6 870.8,489.0 872.1,488.6 873.4,488.6 874.7,489.0 876.0,488.8 877.3,488.9 878.6,488.7 879.9,488.7 881.2,488.7 882.5,489.0 883.8,488.6 885.1,489.0 886.4,489.0 887.7,488.9 889.0,488.7 890.3,488.9 891.6,489.0 892.9,488.8 894.2,488.7 895.5,488.9 896.8,489.0 898.1,488.8 899.4,488.6 900.7,488.7 902.0,488.9 903.3,488.6 904.6,488.6 905.9,488.7 907.2,488.7 908.5,488.8 909.8,488.6 911.1,488.8 912.4,488.9 913.7,488.7 915.0,488.8 916.3,488.8 917.6,488.9 918.9,488.8 920.2,488.9 921.5,488.8 922.8,489.0 924.1,488.6 925.4,488.6 926.7,489.0 928.0,489.0 929.3,488.6 930.6,489.0 931.9,488.9 933.2,489.0 934.5,488.9 935.8,488.7 937.1,488.6 938.4,488.9 939.7,488.9 941.0,488.8 942.3,488.7 943.6,488.7 944.9,489.0 946.2,488.8 947.5,488.7 948.8,489.0 950.1,489.0 951.4,488.6 952.7,488.6" fill="none" stroke="#0a800a" stroke-width="3.1" stroke-linejoin="round" stroke-linecap="butt" />
<polyline points="963.8,486.5 965.0,486.3 966.2,486.4 967.4,486.5 968.6,486.3 969.8,486.5 971.0,486.2 972.2,486.2 973.4,486.4 974.6,486.4 975.8,486.6 977.0,486.2 978.2,486.6 979.4,486.3 980.6,486.3 981.8,486.2 983.0,486.3 984.2,486.7 985.4,486.3 986.6,486.6 987.8,486.7 989.0,486.5 990.2,486.2 991.4,486.4 992.6,486.2 993.8,486.2 995.0,486.3 996.2,486.2 997.4,486.5 998.6,486.4 999.8,486.3 1001.0,486.3 1002.2,486.2 1003.4,486.2 1004.6,486.4 1005.8,486.1 1007.0,486.4 1008.2,486.3 1009.4,486.6 1010.6,486.3 1011.8,486.6 1013.0,486.7 1014.2,486.7 1015.4,486.2 1016.6,486.7 1017.8,486.4 1019.0,486.6 1020.2,486.4 1021.4,486.4 1022.6,486.3 1023.8,486.6 1025.0,486.3 1026.2,486.6 1027.4,486.5 1028.6,486.4 1029.8,486.1 1031.0,486.3 1032.2,486.4 1033.4,486.3 1034.6,486.4 1035.8,486.1 1037.0,486.4 1038.2,486.6 1039.4,486.7 1040.6,486.5 1041.8,486.5 1043.0,486.5 1044.2,486.7 1045.4,486.6 1046.6,486.4 1047.8,486.4 1049.0,486.7 1050.2,486.4 1051.4,486.5 1052.6,486.2 1053.8,486.1 1055.0,485.8 1056.2,485.9 1057.4,485.9 1058.6,485.8 1059.8,485.8 1061.0,485.3 1062.2,485.5 1063.4,485.8 1064.6,486.3 1065.8,486.4 1067.0,486.3 1068.2,486.2 1069.4,486.3 1070.6,486.2 1071.8,486.2 1073.0,486.5 1074.2,486.2 1075.4,486.2 1076.6,486.5 1077.8,486.2 1079.0,486.6 1080.2,486.5 1081.4,486.6 1082.6,486.5 1083.8,486.5 1085.0,486.3 1086.2,486.4 1087.4,486.3 1088.6,486.3 1089.8,486.6 1091.0,486.4 1092.2,486.6 1093.4,486.5 1094.6,486.1 1095.8,486.2 1097.0,486.4 1098.2,486.6 1099.4,486.2 1099.9,486.2 1100.4,486.3 1100.9,486.4 1101.4,486.4 1101.9,486.7 1102.4,486.5 1102.9,486.2 1103.4,486.2 1103.9,486.2 1104.4,485.8 1104.9,485.5 1105.4,484.4 1105.9,483.0 1106.4,480.2 1106.9,475.5 1107.4,468.4 1107.9,458.8 1108.4,446.8 1108.9,432.8 1109.4,418.0 1109.9,404.9 1110.4,394.8 1110.9,389.4 1111.4,391.7 1111.9,403.3 1112.4,413.1 1112.9,416.3 1113.4,416.2 1113.9,417.7 1114.4,419.9 1114.9,422.6 1115.4,426.1 1115.9,429.9 1116.4,434.1 1116.9,438.4 1117.4,442.2 1117.9,446.3 1118.4,450.1 1118.9,453.7 1119.4,456.7 1119.9,459.7 1120.4,462.8 1120.9,464.8 1121.4,467.3 1121.9,469.0 1122.4,471.0 1122.9,472.5 1123.4,473.8 1124.6,476.6 1125.8,479.1 1127.0,480.1 1128.2,481.4 1129.4,482.6 1130.6,483.0 1131.8,483.4 1133.0,484.1 1134.2,484.5 1135.4,484.9 1136.6,485.4 1137.8,485.4 1139.0,486.1 1140.7,485.9 1142.4,486.5 1144.1,486.3 1145.8,485.5 1147.5,486.1 1149.2,486.7 1150.9,485.5 1152.6,485.3 1154.3,487.8 1156.0,487.8 1157.7,487.0 1159.4,485.0 1161.1,487.3 1162.8,488.6 1164.5,487.8 1166.2,487.6 1167.9,486.4 1169.6,487.4 1171.3,488.9 1173.0,486.7 1174.7,484.3 1176.4,484.6 1178.1,489.6 1179.8,488.2 1181.5,489.8 1183.2,484.3 1184.9,483.9 1186.6,488.2 1188.3,486.3 1190.0,486.5" fill="none" stroke="#0a800a" stroke-width="3.1" stroke-linejoin="round" stroke-linecap="butt" />
<polyline points="636.8,427.5 638.1,427.7 639.4,427.7 640.7,427.7 642.0,427.6 643.3,427.6 644.6,427.5 645.9,427.6 647.2,427.5 648.5,427.6 649.8,427.8 651.1,427.8 652.4,427.4 653.7,427.7 655.0,427.8 656.3,427.5 657.6,427.8 658.9,427.8 660.2,427.4 661.5,427.7 662.8,427.5 664.1,427.6 665.4,427.6 666.7,427.8 668.0,427.7 669.3,427.8 670.6,427.5 671.9,427.7 673.2,427.5 674.5,427.4 675.8,427.8 677.1,427.6 678.4,427.5 679.7,427.8 681.0,427.6 682.3,427.7 683.6,427.8 684.9,427.5 686.2,427.6 687.5,427.6 688.8,427.5 690.1,427.6 691.4,427.8 692.7,427.7 694.0,427.5 695.3,427.7 696.6,427.7 697.9,427.5 699.2,427.7 700.5,427.5 701.8,427.8 703.1,427.6 704.4,427.8 705.7,427.6 707.0,427.5 708.3,427.6 709.6,427.5 710.9,427.9 712.2,428.0 713.5,427.7 714.8,427.7 716.1,428.0 717.4,428.0 718.7,427.7 720.0,427.8 721.3,427.9 722.6,427.8 723.9,428.0 725.2,428.2 726.5,428.3 727.8,428.5 729.1,428.9 730.4,429.0 731.7,429.6 733.0,429.9 734.3,430.1 735.6,430.2 736.9,430.7 738.2,430.8 739.5,431.4 740.8,431.5 742.1,432.0 743.4,432.3 744.7,432.6 746.0,432.9 747.3,433.0 748.6,433.1 749.9,433.5 751.2,434.0 752.5,433.7 753.8,433.9 755.1,434.1 756.4,434.2 757.7,434.5 759.0,434.2 760.3,434.0 761.6,433.6 762.9,433.3 764.2,432.9 765.5,432.1 766.8,431.7 768.1,431.2 769.4,430.9 770.7,430.9 772.0,430.9 773.3,431.8 774.6,432.4 775.9,432.8 777.2,433.5 778.5,434.4 779.8,434.8 781.1,435.1 782.4,435.2 783.7,434.8 785.0,434.9 786.3,434.4 787.6,434.0 788.9,433.9 790.2,433.5 791.5,432.8 792.8,432.3 794.1,432.0 795.4,431.3 796.7,430.8 798.0,430.6 799.3,429.8 800.6,429.8 801.9,429.5 803.2,429.4 804.5,428.9 805.8,428.8 807.1,428.8 808.4,428.5 809.7,428.7 811.0,428.4 812.3,428.5 813.6,428.2 814.9,428.1 816.2,428.3 817.5,427.9 818.8,428.0 820.1,428.3 821.4,428.3 822.7,428.5 824.0,428.7 825.3,428.7 826.6,428.8 827.9,429.1 829.2,429.1 830.5,429.1 831.8,429.2 833.1,429.5 834.4,429.3 835.7,429.1 837.0,429.4 838.3,429.6 839.6,429.4 840.9,429.4 842.2,429.4 843.5,429.5 844.8,429.5 846.1,429.4 847.4,429.7 848.7,429.7 850.0,429.6 851.3,429.6 852.6,429.6 853.9,429.3 855.2,429.5 856.5,429.4 857.8,429.4 859.1,429.7 860.4,429.4 861.7,429.7 863.0,429.7 864.3,429.5 865.6,429.3 866.9,429.3 868.2,429.6 869.5,429.6 870.8,429.4 872.1,429.5 873.4,429.3 874.7,429.6 876.0,429.6 877.3,429.6 878.6,429.5 879.9,429.5 881.2,429.3 882.5,429.4 883.8,429.5 885.1,429.3 886.4,429.3 887.7,429.7 889.0,429.6 890.3,429.5 891.6,429.6 892.9,429.7 894.2,429.6 895.5,429.5 896.8,429.4 898.1,429.7 899.4,429.7 900.7,429.3 902.0,429.7 903.3,429.6 904.6,429.4 905.9,429.6 907.2,429.4 908.5,429.6 909.8,429.5 911.1,429.5 912.4,429.3 913.7,429.7 915.0,429.7 916.3,429.6 917.6,429.4 918.9,429.6 920.2,429.3 921.5,429.5 922.8,429.4 924.1,429.5 925.4,429.4 926.7,429.3 928.0,429.5 929.3,429.4 930.6,429.3 931.9,429.4 933.2,429.3 934.5,429.3 935.8,429.7 937.1,429.3 938.4,429.7 939.7,429.5 941.0,429.3 942.3,429.5 943.6,429.5 944.9,429.3 946.2,429.5 947.5,429.3 948.8,429.4 950.1,429.6 951.4,429.7 952.7,429.3" fill="none" stroke="#000080" stroke-width="3.1" stroke-linejoin="round" stroke-linecap="butt" />
<polyline points="963.8,427.5 965.0,427.9 966.2,427.5 967.4,427.4 968.6,427.4 969.8,427.8 971.0,427.5 972.2,427.7 973.4,427.9 974.6,427.7 975.8,427.4 977.0,427.6 978.2,427.5 979.4,427.6 980.6,427.7 981.8,427.9 983.0,427.7 984.2,427.6 985.4,427.8 986.6,427.6 987.8,427.4 989.0,427.7 990.2,427.5 991.4,427.4 992.6,427.5 993.8,427.6 995.0,427.3 996.2,427.5 997.4,427.9 998.6,427.6 999.8,427.5 1001.0,427.6 1002.2,427.7 1003.4,427.6 1004.6,427.5 1005.8,427.6 1007.0,427.5 1008.2,427.7 1009.4,427.6 1010.6,427.7 1011.8,427.5 1013.0,427.7 1014.2,427.4 1015.4,427.6 1016.6,427.6 1017.8,427.3 1019.0,427.4 1020.2,427.6 1021.4,427.8 1022.6,427.8 1023.8,427.8 1025.0,427.8 1026.2,427.9 1027.4,427.4 1028.6,427.4 1029.8,427.4 1031.0,427.8 1032.2,427.4 1033.4,427.5 1034.6,427.4 1035.8,427.8 1037.0,427.4 1038.2,427.4 1039.4,427.7 1040.6,427.7 1041.8,427.3 1043.0,427.6 1044.2,427.6 1045.4,427.6 1046.6,427.6 1047.8,427.8 1049.0,427.8 1050.2,427.8 1051.4,427.5 1052.6,427.2 1053.8,427.2 1055.0,426.8 1056.2,427.0 1057.4,426.7 1058.6,426.9 1059.8,426.9 1061.0,426.9 1062.2,427.0 1063.4,427.0 1064.6,427.5 1065.8,427.6 1067.0,427.4 1068.2,427.8 1069.4,427.6 1070.6,427.6 1071.8,427.4 1073.0,427.8 1074.2,427.6 1075.4,427.7 1076.6,427.8 1077.8,427.6 1079.0,427.7 1080.2,427.6 1081.4,427.4 1082.6,427.8 1083.8,427.9 1085.0,427.3 1086.2,427.3 1087.4,427.6 1088.6,427.3 1089.8,427.6 1091.0,427.5 1092.2,427.4 1093.4,427.8 1094.6,427.6 1095.8,427.9 1097.0,427.4 1098.2,427.5 1098.7,427.7 1099.2,427.8 1099.7,427.6 1100.2,427.4 1100.7,427.5 1101.2,427.6 1101.7,427.9 1102.2,427.6 1102.7,427.7 1103.2,427.5 1103.7,426.9 1104.2,426.2 1104.7,425.1 1105.2,422.7 1105.7,418.8 1106.2,413.0 1106.7,405.4 1107.2,395.0 1107.7,383.0 1108.2,370.3 1108.7,358.5 1109.2,348.9 1109.7,343.6 1110.2,343.5 1110.7,352.5 1111.2,362.3 1111.7,365.9 1112.2,366.4 1112.7,367.3 1113.2,368.9 1113.7,371.1 1114.2,374.0 1114.7,377.2 1115.2,381.2 1115.7,384.6 1116.2,388.5 1116.7,392.0 1117.2,394.8 1117.7,398.1 1118.2,401.0 1118.7,403.7 1119.2,406.0 1119.7,408.3 1120.2,410.3 1120.7,412.2 1121.2,413.8 1121.7,415.5 1122.2,416.3 1123.4,418.8 1124.6,421.1 1125.8,422.1 1127.0,423.3 1128.2,424.0 1129.4,424.9 1130.6,425.4 1131.8,425.5 1133.0,425.5 1134.2,426.4 1135.4,426.8 1136.6,426.9 1137.8,426.8 1139.0,427.0 1140.7,426.7 1142.4,427.2 1144.1,427.9 1145.8,427.3 1147.5,427.5 1149.2,427.0 1150.9,428.1 1152.6,427.5 1154.3,427.5 1156.0,428.5 1157.7,427.3 1159.4,426.6 1161.1,428.3 1162.8,428.7 1164.5,426.3 1166.2,427.4 1167.9,429.4 1169.6,428.0 1171.3,427.6 1173.0,426.3 1174.7,427.0 1176.4,428.4 1178.1,430.1 1179.8,428.9 1181.5,430.6 1183.2,427.5 1184.9,425.5 1186.6,427.1 1188.3,427.2 1190.0,425.1" fill="none" stroke="#000080" stroke-width="3.1" stroke-linejoin="round" stroke-linecap="butt" />
<polyline points="636.8,371.8 638.1,372.2 639.4,372.2 640.7,371.8 642.0,371.8 643.3,372.2 644.6,371.8 645.9,371.9 647.2,371.9 648.5,371.9 649.8,371.8 651.1,372.0 652.4,372.1 653.7,371.8 655.0,372.0 656.3,371.8 657.6,372.1 658.9,372.2 660.2,372.2 661.5,372.0 662.8,371.8 664.1,372.1 665.4,371.8 666.7,372.1 668.0,371.9 669.3,372.2 670.6,371.9 671.9,372.1 673.2,372.0 674.5,371.9 675.8,372.0 677.1,372.0 678.4,371.8 679.7,372.0 681.0,372.0 682.3,372.1 683.6,371.9 684.9,372.1 686.2,371.8 687.5,372.0 688.8,371.9 690.1,372.1 691.4,371.8 692.7,371.9 694.0,371.8 695.3,371.9 696.6,372.0 697.9,371.9 699.2,371.8 700.5,372.2 701.8,371.9 703.1,371.9 704.4,372.0 705.7,372.3 707.0,372.2 708.3,372.3 709.6,372.2 710.9,372.1 712.2,372.2 713.5,372.0 714.8,372.3 716.1,372.4 717.4,372.5 718.7,372.4 720.0,372.4 721.3,372.5 722.6,372.3 723.9,372.6 725.2,372.6 726.5,373.1 727.8,373.1 729.1,373.2 730.4,373.8 731.7,373.9 733.0,374.0 734.3,374.6 735.6,374.8 736.9,375.1 738.2,375.6 739.5,375.6 740.8,375.9 742.1,376.4 743.4,376.5 744.7,377.1 746.0,377.3 747.3,377.4 748.6,377.6 749.9,377.9 751.2,378.3 752.5,378.6 753.8,378.7 755.1,378.9 756.4,378.8 757.7,379.0 759.0,378.8 760.3,378.7 761.6,378.6 762.9,377.8 764.2,377.4 765.5,376.7 766.8,375.9 768.1,375.7 769.4,375.6 770.7,375.7 772.0,375.7 773.3,376.4 774.6,376.6 775.9,377.7 777.2,378.3 778.5,379.0 779.8,379.3 781.1,379.6 782.4,379.8 783.7,379.4 785.0,379.2 786.3,379.2 787.6,379.0 788.9,378.3 790.2,378.0 791.5,377.5 792.8,376.9 794.1,376.6 795.4,375.8 796.7,375.6 798.0,374.9 799.3,374.4 800.6,374.4 801.9,373.8 803.2,373.5 804.5,373.4 805.8,373.5 807.1,373.2 808.4,373.1 809.7,373.4 811.0,372.9 812.3,373.0 813.6,372.7 814.9,372.5 816.2,372.5 817.5,372.5 818.8,373.0 820.1,372.8 821.4,372.8 822.7,372.8 824.0,373.2 825.3,373.2 826.6,373.3 827.9,373.6 829.2,373.9 830.5,373.8 831.8,374.0 833.1,373.8 834.4,374.0 835.7,373.8 837.0,374.2 838.3,374.2 839.6,374.1 840.9,374.1 842.2,374.0 843.5,374.2 844.8,374.2 846.1,374.2 847.4,374.1 848.7,374.1 850.0,374.3 851.3,374.0 852.6,374.1 853.9,374.1 855.2,374.1 856.5,374.4 857.8,374.1 859.1,374.3 860.4,374.0 861.7,374.4 863.0,374.2 864.3,374.3 865.6,374.0 866.9,374.3 868.2,374.4 869.5,374.1 870.8,374.0 872.1,374.1 873.4,374.3 874.7,374.3 876.0,374.0 877.3,374.1 878.6,374.4 879.9,374.1 881.2,374.0 882.5,374.4 883.8,374.4 885.1,374.2 886.4,374.3 887.7,374.3 889.0,374.4 890.3,374.0 891.6,374.3 892.9,374.4 894.2,374.3 895.5,374.2 896.8,374.1 898.1,374.4 899.4,374.4 900.7,374.4 902.0,374.2 903.3,374.4 904.6,374.4 905.9,374.2 907.2,374.0 908.5,374.3 909.8,374.0 911.1,374.1 912.4,374.2 913.7,374.2 915.0,374.3 916.3,374.4 917.6,374.4 918.9,374.1 920.2,374.4 921.5,374.1 922.8,374.1 924.1,374.3 925.4,374.4 926.7,374.2 928.0,374.3 929.3,374.4 930.6,374.1 931.9,374.3 933.2,374.4 934.5,374.0 935.8,374.0 937.1,374.4 938.4,374.2 939.7,374.2 941.0,374.3 942.3,374.2 943.6,374.0 944.9,374.1 946.2,374.3 947.5,374.3 948.8,374.2 950.1,374.0 951.4,374.4 952.7,374.0" fill="none" stroke="#8a2be2" stroke-width="3.1" stroke-linejoin="round" stroke-linecap="butt" />
<polyline points="963.8,371.9 965.0,372.2 966.2,372.3 967.4,372.1 968.6,371.9 969.8,372.1 971.0,372.1 972.2,372.0 973.4,372.2 974.6,372.0 975.8,372.0 977.0,371.9 978.2,372.2 979.4,371.8 980.6,371.8 981.8,372.1 983.0,371.7 984.2,372.2 985.4,371.8 986.6,372.0 987.8,371.9 989.0,372.0 990.2,372.1 991.4,371.8 992.6,372.0 993.8,372.3 995.0,371.8 996.2,371.8 997.4,371.8 998.6,371.8 999.8,371.7 1001.0,372.3 1002.2,372.3 1003.4,371.7 1004.6,372.2 1005.8,372.0 1007.0,371.8 1008.2,372.2 1009.4,371.8 1010.6,372.1 1011.8,372.1 1013.0,372.1 1014.2,371.8 1015.4,371.8 1016.6,372.1 1017.8,371.9 1019.0,372.1 1020.2,372.1 1021.4,371.7 1022.6,372.1 1023.8,372.3 1025.0,371.9 1026.2,372.0 1027.4,371.9 1028.6,372.2 1029.8,371.8 1031.0,371.8 1032.2,372.0 1033.4,372.0 1034.6,372.0 1035.8,371.8 1037.0,372.3 1038.2,372.0 1039.4,371.9 1040.6,372.1 1041.8,371.7 1043.0,372.3 1044.2,372.2 1045.4,371.9 1046.6,372.0 1047.8,371.7 1049.0,372.2 1050.2,372.3 1051.4,372.1 1052.6,372.2 1053.8,371.6 1055.0,371.7 1056.2,371.5 1057.4,371.4 1058.6,371.1 1059.8,371.1 1061.0,370.9 1062.2,371.6 1063.4,371.3 1064.6,371.8 1065.8,372.0 1067.0,371.8 1068.2,371.9 1069.4,371.9 1070.6,371.7 1071.8,371.9 1073.0,371.9 1074.2,372.1 1075.4,372.1 1076.6,372.3 1077.8,372.2 1079.0,371.9 1080.2,372.1 1081.4,372.1 1082.6,372.2 1083.8,371.8 1085.0,371.9 1086.2,372.1 1087.4,371.9 1088.6,372.2 1089.8,371.9 1091.0,372.1 1092.2,371.7 1093.4,372.2 1094.6,372.3 1095.8,372.3 1097.0,371.9 1098.2,372.2 1099.4,372.3 1099.9,371.8 1100.4,371.7 1100.9,372.1 1101.4,372.3 1101.9,371.6 1102.4,372.0 1102.9,371.8 1103.4,371.3 1103.9,370.5 1104.4,369.6 1104.9,367.8 1105.4,364.9 1105.9,361.4 1106.4,355.8 1106.9,348.5 1107.4,340.4 1107.9,331.0 1108.4,321.7 1108.9,312.8 1109.4,305.7 1109.9,300.8 1110.4,300.0 1110.9,299.8 1111.4,300.2 1111.9,300.0 1112.4,302.2 1112.9,304.8 1113.4,308.4 1113.9,312.6 1114.4,316.9 1114.9,321.2 1115.4,325.5 1115.9,329.6 1116.4,333.6 1116.9,337.0 1117.4,340.6 1117.9,344.0 1118.4,346.7 1118.9,349.3 1119.4,351.9 1119.9,353.7 1120.4,355.8 1120.9,357.6 1121.4,359.1 1121.9,360.1 1122.4,361.5 1122.9,362.4 1123.4,363.4 1124.6,364.9 1125.8,366.3 1127.0,367.4 1128.2,368.4 1129.4,369.0 1130.6,369.2 1131.8,369.7 1133.0,369.9 1134.2,370.2 1135.4,370.8 1136.6,371.0 1137.8,371.5 1139.0,371.7 1140.7,371.0 1142.4,371.1 1144.1,372.3 1145.8,371.7 1147.5,372.1 1149.2,372.1 1150.9,372.2 1152.6,373.1 1154.3,371.1 1156.0,373.2 1157.7,371.4 1159.4,370.7 1161.1,371.5 1162.8,372.3 1164.5,373.5 1166.2,372.6 1167.9,374.5 1169.6,370.8 1171.3,371.7 1173.0,372.7 1174.7,372.9 1176.4,373.5 1178.1,372.4 1179.8,369.8 1181.5,374.3 1183.2,374.5 1184.9,369.3 1186.6,374.8 1188.3,368.5 1190.0,374.0" fill="none" stroke="#8a2be2" stroke-width="3.1" stroke-linejoin="round" stroke-linecap="butt" />
<rect x="747" y="354.2" width="49.9" height="237.5" fill="#fedfc0"/>
<g clip-path="url(#clr)">
<polyline points="744.7,588.7 746.0,588.3 747.3,588.4 748.6,588.5 749.9,588.7 751.2,588.4 752.5,588.7 753.8,588.5 755.1,588.4 756.4,588.4 757.7,588.3 759.0,588.2 760.3,588.3 761.6,588.5 762.9,588.7 764.2,588.3 765.5,588.2 766.8,588.7 768.1,588.4 769.4,588.4 770.7,588.3 772.0,588.5 773.3,588.6 774.6,588.4 775.9,588.4 777.2,588.2 778.5,588.6 779.8,588.2 781.1,588.4 782.4,588.5 783.7,588.2 785.0,588.5 786.3,588.6 787.6,588.4 788.9,588.5 790.2,588.2 791.5,588.3 792.8,588.2 794.1,588.5 795.4,588.2 796.7,588.3 798.0,588.6 799.3,588.5" fill="none" stroke="#ff6226" stroke-width="3.1" stroke-linejoin="round" stroke-linecap="butt" />
<polyline points="744.7,579.6 746.0,579.9 747.3,579.9 748.6,580.0 749.9,579.9 751.2,580.0 752.5,580.1 753.8,580.2 755.1,579.9 756.4,580.0 757.7,580.2 759.0,579.9 760.3,579.8 761.6,579.9 762.9,579.8 764.2,580.1 765.5,580.1 766.8,579.8 768.1,579.7 769.4,579.6 770.7,579.7 772.0,579.7 773.3,579.9 774.6,580.0 775.9,579.8 777.2,579.8 778.5,580.1 779.8,579.8 781.1,579.9 782.4,580.0 783.7,580.0 785.0,579.9 786.3,580.0 787.6,580.0 788.9,580.2 790.2,580.1 791.5,580.2 792.8,580.1 794.1,580.1 795.4,580.0 796.7,579.9 798.0,580.1 799.3,580.0" fill="none" stroke="#a69078" stroke-width="3.2" stroke-linejoin="round" stroke-linecap="butt" />
<polyline points="744.7,568.3 746.0,568.7 747.3,568.7 748.6,568.6 749.9,568.8 751.2,568.7 752.5,568.7 753.8,569.1 755.1,568.9 756.4,569.2 757.7,568.8 759.0,568.8 760.3,568.7 761.6,569.0 762.9,568.8 764.2,568.3 765.5,568.2 766.8,568.4 768.1,568.1 769.4,568.2 770.7,567.8 772.0,568.2 773.3,568.1 774.6,568.5 775.9,568.7 777.2,568.9 778.5,568.9 779.8,569.4 781.1,569.0 782.4,569.0 783.7,569.3 785.0,569.0 786.3,568.9 787.6,569.0 788.9,569.0 790.2,569.0 791.5,568.8 792.8,568.3 794.1,568.4 795.4,568.4 796.7,567.9 798.0,568.1 799.3,567.7" fill="none" stroke="#d6608c" stroke-width="3.2" stroke-linejoin="round" stroke-linecap="butt" />
<polyline points="744.7,539.3 746.0,539.4 747.3,539.3 748.6,539.6 749.9,539.8 751.2,539.5 752.5,539.9 753.8,540.0 755.1,539.9 756.4,539.9 757.7,539.9 759.0,540.0 760.3,540.2 761.6,539.8 762.9,539.5 764.2,539.3 765.5,539.0 766.8,538.8 768.1,538.5 769.4,538.3 770.7,538.2 772.0,538.7 773.3,538.9 774.6,539.0 775.9,539.5 777.2,539.9 778.5,540.2 779.8,540.6 781.1,540.7 782.4,540.4 783.7,540.4 785.0,540.5 786.3,540.1 787.6,540.4 788.9,539.7 790.2,539.8 791.5,539.4 792.8,539.3 794.1,538.8 795.4,538.6 796.7,538.8 798.0,538.5 799.3,538.0" fill="none" stroke="#c6b666" stroke-width="3.1" stroke-linejoin="round" stroke-linecap="butt" />
<polyline points="744.7,491.1 746.0,491.4 747.3,491.7 748.6,492.2 749.9,492.3 751.2,492.4 752.5,492.6 753.8,492.8 755.1,492.7 756.4,492.7 757.7,492.8 759.0,493.1 760.3,493.0 761.6,492.8 762.9,492.2 764.2,491.7 765.5,491.2 766.8,490.4 768.1,490.0 769.4,489.8 770.7,489.8 772.0,490.2 773.3,490.5 774.6,490.9 775.9,492.0 777.2,492.5 778.5,493.2 779.8,493.6 781.1,493.8 782.4,493.8 783.7,493.5 785.0,493.4 786.3,493.4 787.6,492.9 788.9,492.5 790.2,492.4 791.5,491.9 792.8,491.4 794.1,490.8 795.4,490.2 796.7,490.0 798.0,489.3 799.3,489.1" fill="none" stroke="#86861e" stroke-width="3.1" stroke-linejoin="round" stroke-linecap="butt" />
<polyline points="744.7,432.6 746.0,432.9 747.3,433.0 748.6,433.1 749.9,433.5 751.2,434.0 752.5,433.7 753.8,433.9 755.1,434.1 756.4,434.2 757.7,434.5 759.0,434.2 760.3,434.0 761.6,433.6 762.9,433.3 764.2,432.9 765.5,432.1 766.8,431.7 768.1,431.2 769.4,430.9 770.7,430.9 772.0,430.9 773.3,431.8 774.6,432.4 775.9,432.8 777.2,433.5 778.5,434.4 779.8,434.8 781.1,435.1 782.4,435.2 783.7,434.8 785.0,434.9 786.3,434.4 787.6,434.0 788.9,433.9 790.2,433.5 791.5,432.8 792.8,432.3 794.1,432.0 795.4,431.3 796.7,430.8 798.0,430.6 799.3,429.8" fill="none" stroke="#744056" stroke-width="3.1" stroke-linejoin="round" stroke-linecap="butt" />
<polyline points="744.7,377.1 746.0,377.3 747.3,377.4 748.6,377.6 749.9,377.9 751.2,378.3 752.5,378.6 753.8,378.7 755.1,378.9 756.4,378.8 757.7,379.0 759.0,378.8 760.3,378.7 761.6,378.6 762.9,377.8 764.2,377.4 765.5,376.7 766.8,375.9 768.1,375.7 769.4,375.6 770.7,375.7 772.0,375.7 773.3,376.4 774.6,376.6 775.9,377.7 777.2,378.3 778.5,379.0 779.8,379.3 781.1,379.6 782.4,379.8 783.7,379.4 785.0,379.2 786.3,379.2 787.6,379.0 788.9,378.3 790.2,378.0 791.5,377.5 792.8,376.9 794.1,376.6 795.4,375.8 796.7,375.6 798.0,374.9 799.3,374.4" fill="none" stroke="#b8508c" stroke-width="3.1" stroke-linejoin="round" stroke-linecap="butt" />
</g>
<path d="M634.9,598.8 V290.0 H1192.1 V598.8" fill="none" stroke="#000" stroke-width="3.9"/>
<line x1="632.9499999999999" y1="596.9" x2="953.5" y2="596.9" stroke="#000" stroke-width="3.8"/>
<line x1="964.5" y1="596.9" x2="1194.05" y2="596.9" stroke="#000" stroke-width="3.8"/>
<line x1="947.3" y1="606.3" x2="960.6" y2="590.8" stroke="#000" stroke-width="3.0"/>
<line x1="956.8" y1="606.3" x2="970.1" y2="590.8" stroke="#000" stroke-width="3.0"/>
<line x1="634.9" y1="597" x2="634.9" y2="605.8" stroke="#000" stroke-width="4.0"/>
<text class="b" x="634.9" y="626.8" font-size="20" text-anchor="middle" textLength="40" lengthAdjust="spacingAndGlyphs">4000</text>
<line x1="749.0" y1="597" x2="749.0" y2="605.8" stroke="#000" stroke-width="4.0"/>
<text class="b" x="749.0" y="626.8" font-size="20" text-anchor="middle" textLength="40" lengthAdjust="spacingAndGlyphs">3750</text>
<line x1="863.1" y1="597" x2="863.1" y2="605.8" stroke="#000" stroke-width="4.0"/>
<text class="b" x="863.1" y="626.8" font-size="20" text-anchor="middle" textLength="40" lengthAdjust="spacingAndGlyphs">3500</text>
<line x1="1009.1" y1="597" x2="1009.1" y2="605.8" stroke="#000" stroke-width="4.0"/>
<text class="b" x="1009.1" y="626.8" font-size="20" text-anchor="middle" textLength="40" lengthAdjust="spacingAndGlyphs">1500</text>
<line x1="1123.4" y1="597" x2="1123.4" y2="605.8" stroke="#000" stroke-width="4.0"/>
<text class="b" x="1123.4" y="626.8" font-size="20" text-anchor="middle" textLength="40" lengthAdjust="spacingAndGlyphs">1250</text>
<line x1="692.0" y1="597" x2="692.0" y2="600.9" stroke="#000" stroke-width="4.0"/>
<line x1="806.1" y1="597" x2="806.1" y2="600.9" stroke="#000" stroke-width="4.0"/>
<line x1="920.1" y1="597" x2="920.1" y2="600.9" stroke="#000" stroke-width="4.0"/>
<line x1="1066.2" y1="597" x2="1066.2" y2="600.9" stroke="#000" stroke-width="4.0"/>
<line x1="1180.6" y1="597" x2="1180.6" y2="600.9" stroke="#000" stroke-width="4.0"/>
<text class="b" x="825.8" y="646.4" font-size="20.4"><tspan textLength="156" lengthAdjust="spacingAndGlyphs">Wavenumber (cm</tspan><tspan x="982.8" y="638.1" font-size="14">-1</tspan><tspan x="994.0" y="646.4">)</tspan></text>
<text class="b" transform="translate(625.2,517.6) rotate(-90)" font-size="20.4" textLength="148" lengthAdjust="spacingAndGlyphs">Absorption (a.u.)</text>
<text class="b" x="647" y="311.2" font-size="20.4">(h)</text>
<line x1="683.6" y1="291" x2="683.6" y2="323" stroke="#000" stroke-width="2.5"/>
<text class="b" x="688" y="311.2" font-size="20.4">1.0</text>
<text class="b" x="768.3" y="348.2" font-size="19.6" text-anchor="middle">Al-OH</text>
<text class="b" x="1195.6" y="375.6" font-size="20" textLength="57.3" lengthAdjust="spacingAndGlyphs">80 min</text>
<text class="b" x="1197.0" y="429.8" font-size="20" textLength="57.3" lengthAdjust="spacingAndGlyphs">60 min</text>
<text class="b" x="1195.6" y="488.9" font-size="20" textLength="57.3" lengthAdjust="spacingAndGlyphs">40 min</text>
<text class="b" x="1195.6" y="538.0" font-size="20" textLength="57.3" lengthAdjust="spacingAndGlyphs">20 min</text>
<text class="b" x="1195.6" y="561.6" font-size="20" textLength="57.3" lengthAdjust="spacingAndGlyphs">10 min</text>
<text class="b" x="1195.6" y="581.3" font-size="20" textLength="47.5" lengthAdjust="spacingAndGlyphs">5 min</text>
<text class="b" x="1195.6" y="603.0" font-size="20" textLength="47.5" lengthAdjust="spacingAndGlyphs">0 min</text>
<text class="b" x="1130.5" y="316.2" font-size="20.4">CF<tspan x="1156.6" y="321.4" font-size="13.6">4</tspan></text>
<line x1="1132.4" y1="314.9" x2="1123.5" y2="319.8" stroke="#7030a0" stroke-width="2.3"/>
<path d="M1116.2,323.9 L1124.9,310.7 L1123.5,319.8 L1132.0,323.5 Z" fill="#7030a0"/>
</g>
<line x1="715.5" y1="262.7" x2="790.5" y2="262.7" stroke="#ed7d31" stroke-width="1.2" stroke-dasharray="1.3,1.2"/>
<rect x="789.6" y="262" width="1.2" height="4" fill="#ed7d31"/>
<rect x="137.45" y="262.6" width="2.3" height="1.75" fill="#ed7d31"/>
<rect x="137.45" y="266.3" width="2.3" height="1.75" fill="#ed7d31"/>
<rect x="137.45" y="274.7" width="2.3" height="1.75" fill="#ed7d31"/>
<rect x="137.45" y="278.4" width="2.3" height="1.75" fill="#ed7d31"/>
<rect x="137.45" y="282.2" width="2.3" height="1.75" fill="#ed7d31"/>
<rect x="137.45" y="285.9" width="2.3" height="1.75" fill="#ed7d31"/>
<rect x="137.45" y="289.3" width="2.3" height="1.75" fill="#ed7d31"/>
<rect x="137.45" y="292.4" width="2.3" height="1.75" fill="#ed7d31"/>
</svg></body></html>
